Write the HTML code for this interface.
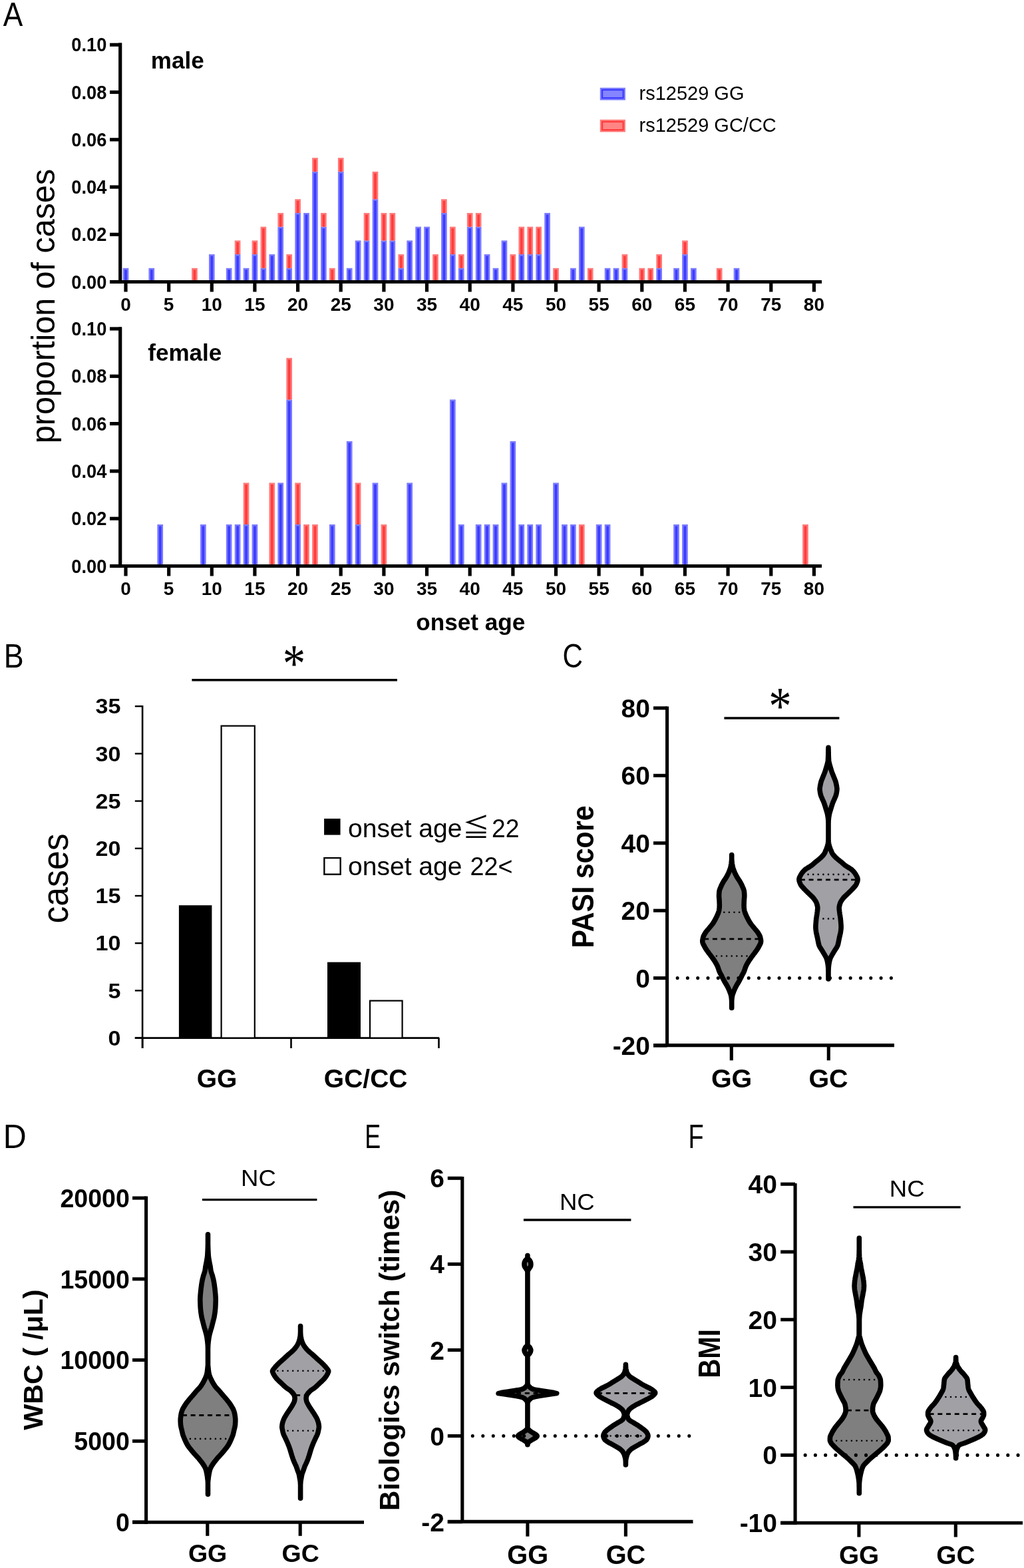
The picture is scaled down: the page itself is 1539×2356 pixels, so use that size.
<!DOCTYPE html>
<html><head><meta charset="utf-8"><title>Figure</title>
<style>html,body{margin:0;padding:0;background:#fff;overflow:hidden;} svg{display:block;}</style>
</head><body>
<svg width="1539" height="2356" viewBox="0 0 1539 2356">
<rect width="1539" height="2356" fill="#fff"/>
<text transform="translate(4.70 38.60) scale(0.877 1)" font-family="'Liberation Sans', Arial, sans-serif" font-size="50.5" >A</text>
<text transform="translate(5.80 1003.30) scale(0.889 1)" font-family="'Liberation Sans', Arial, sans-serif" font-size="50.5" >B</text>
<text transform="translate(845.40 1003.30) scale(0.836 1)" font-family="'Liberation Sans', Arial, sans-serif" font-size="50.5" >C</text>
<text transform="translate(4.80 1725.00) scale(0.960 1)" font-family="'Liberation Sans', Arial, sans-serif" font-size="50.5" >D</text>
<text transform="translate(548.20 1724.70) scale(0.711 1)" font-family="'Liberation Sans', Arial, sans-serif" font-size="50.5" >E</text>
<text transform="translate(1034.60 1724.70) scale(0.749 1)" font-family="'Liberation Sans', Arial, sans-serif" font-size="50.5" >F</text>
<rect x="184.65" y="402.79" width="8.70" height="18.11" fill="#7b7bff" />
<rect x="187.15" y="405.29" width="3.70" height="15.61" fill="#3c3cff" />
<rect x="223.44" y="402.79" width="8.70" height="18.11" fill="#7b7bff" />
<rect x="225.94" y="405.29" width="3.70" height="15.61" fill="#3c3cff" />
<rect x="288.09" y="402.79" width="8.70" height="18.11" fill="#ff7a7a" />
<rect x="290.59" y="405.29" width="3.70" height="15.61" fill="#ff3c3c" />
<rect x="313.95" y="382.08" width="8.70" height="38.82" fill="#7b7bff" />
<rect x="316.45" y="384.58" width="3.70" height="36.32" fill="#3c3cff" />
<rect x="339.81" y="402.79" width="8.70" height="18.11" fill="#7b7bff" />
<rect x="342.31" y="405.29" width="3.70" height="15.61" fill="#3c3cff" />
<rect x="352.74" y="382.08" width="8.70" height="38.82" fill="#7b7bff" />
<rect x="355.24" y="384.58" width="3.70" height="36.32" fill="#3c3cff" />
<rect x="352.74" y="361.37" width="8.70" height="20.71" fill="#ff7a7a" />
<rect x="355.24" y="363.87" width="3.70" height="18.21" fill="#ff3c3c" />
<rect x="365.67" y="402.79" width="8.70" height="18.11" fill="#7b7bff" />
<rect x="368.17" y="405.29" width="3.70" height="15.61" fill="#3c3cff" />
<rect x="378.60" y="382.08" width="8.70" height="38.82" fill="#7b7bff" />
<rect x="381.10" y="384.58" width="3.70" height="36.32" fill="#3c3cff" />
<rect x="378.60" y="361.37" width="8.70" height="20.71" fill="#ff7a7a" />
<rect x="381.10" y="363.87" width="3.70" height="18.21" fill="#ff3c3c" />
<rect x="391.53" y="402.79" width="8.70" height="18.11" fill="#7b7bff" />
<rect x="394.03" y="405.29" width="3.70" height="15.61" fill="#3c3cff" />
<rect x="391.53" y="340.66" width="8.70" height="62.13" fill="#ff7a7a" />
<rect x="394.03" y="343.16" width="3.70" height="59.63" fill="#ff3c3c" />
<rect x="404.46" y="382.08" width="8.70" height="38.82" fill="#7b7bff" />
<rect x="406.96" y="384.58" width="3.70" height="36.32" fill="#3c3cff" />
<rect x="417.39" y="340.66" width="8.70" height="80.24" fill="#7b7bff" />
<rect x="419.89" y="343.16" width="3.70" height="77.74" fill="#3c3cff" />
<rect x="417.39" y="319.95" width="8.70" height="20.71" fill="#ff7a7a" />
<rect x="419.89" y="322.45" width="3.70" height="18.21" fill="#ff3c3c" />
<rect x="430.32" y="402.79" width="8.70" height="18.11" fill="#7b7bff" />
<rect x="432.82" y="405.29" width="3.70" height="15.61" fill="#3c3cff" />
<rect x="430.32" y="382.08" width="8.70" height="20.71" fill="#ff7a7a" />
<rect x="432.82" y="384.58" width="3.70" height="18.21" fill="#ff3c3c" />
<rect x="443.25" y="319.95" width="8.70" height="100.95" fill="#7b7bff" />
<rect x="445.75" y="322.45" width="3.70" height="98.45" fill="#3c3cff" />
<rect x="443.25" y="299.24" width="8.70" height="20.71" fill="#ff7a7a" />
<rect x="445.75" y="301.74" width="3.70" height="18.21" fill="#ff3c3c" />
<rect x="456.18" y="319.95" width="8.70" height="100.95" fill="#7b7bff" />
<rect x="458.68" y="322.45" width="3.70" height="98.45" fill="#3c3cff" />
<rect x="469.11" y="257.83" width="8.70" height="163.07" fill="#7b7bff" />
<rect x="471.61" y="260.33" width="3.70" height="160.57" fill="#3c3cff" />
<rect x="469.11" y="237.12" width="8.70" height="20.71" fill="#ff7a7a" />
<rect x="471.61" y="239.62" width="3.70" height="18.21" fill="#ff3c3c" />
<rect x="482.04" y="340.66" width="8.70" height="80.24" fill="#7b7bff" />
<rect x="484.54" y="343.16" width="3.70" height="77.74" fill="#3c3cff" />
<rect x="482.04" y="319.95" width="8.70" height="20.71" fill="#ff7a7a" />
<rect x="484.54" y="322.45" width="3.70" height="18.21" fill="#ff3c3c" />
<rect x="494.97" y="402.79" width="8.70" height="18.11" fill="#ff7a7a" />
<rect x="497.47" y="405.29" width="3.70" height="15.61" fill="#ff3c3c" />
<rect x="507.90" y="257.83" width="8.70" height="163.07" fill="#7b7bff" />
<rect x="510.40" y="260.33" width="3.70" height="160.57" fill="#3c3cff" />
<rect x="507.90" y="237.12" width="8.70" height="20.71" fill="#ff7a7a" />
<rect x="510.40" y="239.62" width="3.70" height="18.21" fill="#ff3c3c" />
<rect x="520.83" y="402.79" width="8.70" height="18.11" fill="#7b7bff" />
<rect x="523.33" y="405.29" width="3.70" height="15.61" fill="#3c3cff" />
<rect x="533.76" y="361.37" width="8.70" height="59.53" fill="#7b7bff" />
<rect x="536.26" y="363.87" width="3.70" height="57.03" fill="#3c3cff" />
<rect x="546.69" y="361.37" width="8.70" height="59.53" fill="#7b7bff" />
<rect x="549.19" y="363.87" width="3.70" height="57.03" fill="#3c3cff" />
<rect x="546.69" y="319.95" width="8.70" height="41.42" fill="#ff7a7a" />
<rect x="549.19" y="322.45" width="3.70" height="38.92" fill="#ff3c3c" />
<rect x="559.62" y="299.24" width="8.70" height="121.66" fill="#7b7bff" />
<rect x="562.12" y="301.74" width="3.70" height="119.16" fill="#3c3cff" />
<rect x="559.62" y="257.83" width="8.70" height="41.42" fill="#ff7a7a" />
<rect x="562.12" y="260.33" width="3.70" height="38.92" fill="#ff3c3c" />
<rect x="572.55" y="361.37" width="8.70" height="59.53" fill="#7b7bff" />
<rect x="575.05" y="363.87" width="3.70" height="57.03" fill="#3c3cff" />
<rect x="572.55" y="319.95" width="8.70" height="41.42" fill="#ff7a7a" />
<rect x="575.05" y="322.45" width="3.70" height="38.92" fill="#ff3c3c" />
<rect x="585.48" y="361.37" width="8.70" height="59.53" fill="#7b7bff" />
<rect x="587.98" y="363.87" width="3.70" height="57.03" fill="#3c3cff" />
<rect x="585.48" y="319.95" width="8.70" height="41.42" fill="#ff7a7a" />
<rect x="587.98" y="322.45" width="3.70" height="38.92" fill="#ff3c3c" />
<rect x="598.41" y="402.79" width="8.70" height="18.11" fill="#7b7bff" />
<rect x="600.91" y="405.29" width="3.70" height="15.61" fill="#3c3cff" />
<rect x="598.41" y="382.08" width="8.70" height="20.71" fill="#ff7a7a" />
<rect x="600.91" y="384.58" width="3.70" height="18.21" fill="#ff3c3c" />
<rect x="611.34" y="361.37" width="8.70" height="59.53" fill="#7b7bff" />
<rect x="613.84" y="363.87" width="3.70" height="57.03" fill="#3c3cff" />
<rect x="624.27" y="340.66" width="8.70" height="80.24" fill="#7b7bff" />
<rect x="626.77" y="343.16" width="3.70" height="77.74" fill="#3c3cff" />
<rect x="637.20" y="340.66" width="8.70" height="80.24" fill="#7b7bff" />
<rect x="639.70" y="343.16" width="3.70" height="77.74" fill="#3c3cff" />
<rect x="650.13" y="382.08" width="8.70" height="38.82" fill="#ff7a7a" />
<rect x="652.63" y="384.58" width="3.70" height="36.32" fill="#ff3c3c" />
<rect x="663.06" y="319.95" width="8.70" height="100.95" fill="#7b7bff" />
<rect x="665.56" y="322.45" width="3.70" height="98.45" fill="#3c3cff" />
<rect x="663.06" y="299.24" width="8.70" height="20.71" fill="#ff7a7a" />
<rect x="665.56" y="301.74" width="3.70" height="18.21" fill="#ff3c3c" />
<rect x="675.99" y="382.08" width="8.70" height="38.82" fill="#7b7bff" />
<rect x="678.49" y="384.58" width="3.70" height="36.32" fill="#3c3cff" />
<rect x="675.99" y="340.66" width="8.70" height="41.42" fill="#ff7a7a" />
<rect x="678.49" y="343.16" width="3.70" height="38.92" fill="#ff3c3c" />
<rect x="688.92" y="402.79" width="8.70" height="18.11" fill="#7b7bff" />
<rect x="691.42" y="405.29" width="3.70" height="15.61" fill="#3c3cff" />
<rect x="688.92" y="382.08" width="8.70" height="20.71" fill="#ff7a7a" />
<rect x="691.42" y="384.58" width="3.70" height="18.21" fill="#ff3c3c" />
<rect x="701.85" y="340.66" width="8.70" height="80.24" fill="#7b7bff" />
<rect x="704.35" y="343.16" width="3.70" height="77.74" fill="#3c3cff" />
<rect x="701.85" y="319.95" width="8.70" height="20.71" fill="#ff7a7a" />
<rect x="704.35" y="322.45" width="3.70" height="18.21" fill="#ff3c3c" />
<rect x="714.78" y="340.66" width="8.70" height="80.24" fill="#7b7bff" />
<rect x="717.28" y="343.16" width="3.70" height="77.74" fill="#3c3cff" />
<rect x="714.78" y="319.95" width="8.70" height="20.71" fill="#ff7a7a" />
<rect x="717.28" y="322.45" width="3.70" height="18.21" fill="#ff3c3c" />
<rect x="727.71" y="382.08" width="8.70" height="38.82" fill="#7b7bff" />
<rect x="730.21" y="384.58" width="3.70" height="36.32" fill="#3c3cff" />
<rect x="740.64" y="402.79" width="8.70" height="18.11" fill="#7b7bff" />
<rect x="743.14" y="405.29" width="3.70" height="15.61" fill="#3c3cff" />
<rect x="753.57" y="361.37" width="8.70" height="59.53" fill="#7b7bff" />
<rect x="756.07" y="363.87" width="3.70" height="57.03" fill="#3c3cff" />
<rect x="766.50" y="382.08" width="8.70" height="38.82" fill="#ff7a7a" />
<rect x="769.00" y="384.58" width="3.70" height="36.32" fill="#ff3c3c" />
<rect x="779.43" y="382.08" width="8.70" height="38.82" fill="#7b7bff" />
<rect x="781.93" y="384.58" width="3.70" height="36.32" fill="#3c3cff" />
<rect x="779.43" y="340.66" width="8.70" height="41.42" fill="#ff7a7a" />
<rect x="781.93" y="343.16" width="3.70" height="38.92" fill="#ff3c3c" />
<rect x="792.36" y="382.08" width="8.70" height="38.82" fill="#7b7bff" />
<rect x="794.86" y="384.58" width="3.70" height="36.32" fill="#3c3cff" />
<rect x="792.36" y="340.66" width="8.70" height="41.42" fill="#ff7a7a" />
<rect x="794.86" y="343.16" width="3.70" height="38.92" fill="#ff3c3c" />
<rect x="805.29" y="382.08" width="8.70" height="38.82" fill="#7b7bff" />
<rect x="807.79" y="384.58" width="3.70" height="36.32" fill="#3c3cff" />
<rect x="805.29" y="340.66" width="8.70" height="41.42" fill="#ff7a7a" />
<rect x="807.79" y="343.16" width="3.70" height="38.92" fill="#ff3c3c" />
<rect x="818.22" y="319.95" width="8.70" height="100.95" fill="#7b7bff" />
<rect x="820.72" y="322.45" width="3.70" height="98.45" fill="#3c3cff" />
<rect x="831.15" y="402.79" width="8.70" height="18.11" fill="#ff7a7a" />
<rect x="833.65" y="405.29" width="3.70" height="15.61" fill="#ff3c3c" />
<rect x="857.01" y="402.79" width="8.70" height="18.11" fill="#7b7bff" />
<rect x="859.51" y="405.29" width="3.70" height="15.61" fill="#3c3cff" />
<rect x="869.94" y="340.66" width="8.70" height="80.24" fill="#7b7bff" />
<rect x="872.44" y="343.16" width="3.70" height="77.74" fill="#3c3cff" />
<rect x="882.87" y="402.79" width="8.70" height="18.11" fill="#ff7a7a" />
<rect x="885.37" y="405.29" width="3.70" height="15.61" fill="#ff3c3c" />
<rect x="908.73" y="402.79" width="8.70" height="18.11" fill="#7b7bff" />
<rect x="911.23" y="405.29" width="3.70" height="15.61" fill="#3c3cff" />
<rect x="921.66" y="402.79" width="8.70" height="18.11" fill="#7b7bff" />
<rect x="924.16" y="405.29" width="3.70" height="15.61" fill="#3c3cff" />
<rect x="934.59" y="402.79" width="8.70" height="18.11" fill="#7b7bff" />
<rect x="937.09" y="405.29" width="3.70" height="15.61" fill="#3c3cff" />
<rect x="934.59" y="382.08" width="8.70" height="20.71" fill="#ff7a7a" />
<rect x="937.09" y="384.58" width="3.70" height="18.21" fill="#ff3c3c" />
<rect x="960.45" y="402.79" width="8.70" height="18.11" fill="#ff7a7a" />
<rect x="962.95" y="405.29" width="3.70" height="15.61" fill="#ff3c3c" />
<rect x="973.38" y="402.79" width="8.70" height="18.11" fill="#ff7a7a" />
<rect x="975.88" y="405.29" width="3.70" height="15.61" fill="#ff3c3c" />
<rect x="986.31" y="402.79" width="8.70" height="18.11" fill="#7b7bff" />
<rect x="988.81" y="405.29" width="3.70" height="15.61" fill="#3c3cff" />
<rect x="986.31" y="382.08" width="8.70" height="20.71" fill="#ff7a7a" />
<rect x="988.81" y="384.58" width="3.70" height="18.21" fill="#ff3c3c" />
<rect x="1012.17" y="402.79" width="8.70" height="18.11" fill="#7b7bff" />
<rect x="1014.67" y="405.29" width="3.70" height="15.61" fill="#3c3cff" />
<rect x="1025.10" y="382.08" width="8.70" height="38.82" fill="#7b7bff" />
<rect x="1027.60" y="384.58" width="3.70" height="36.32" fill="#3c3cff" />
<rect x="1025.10" y="361.37" width="8.70" height="20.71" fill="#ff7a7a" />
<rect x="1027.60" y="363.87" width="3.70" height="18.21" fill="#ff3c3c" />
<rect x="1038.03" y="402.79" width="8.70" height="18.11" fill="#7b7bff" />
<rect x="1040.53" y="405.29" width="3.70" height="15.61" fill="#3c3cff" />
<rect x="1076.82" y="402.79" width="8.70" height="18.11" fill="#ff7a7a" />
<rect x="1079.32" y="405.29" width="3.70" height="15.61" fill="#ff3c3c" />
<rect x="1102.68" y="402.79" width="8.70" height="18.11" fill="#7b7bff" />
<rect x="1105.18" y="405.29" width="3.70" height="15.61" fill="#3c3cff" />
<line x1="180.7" y1="64.6" x2="180.7" y2="426.1" stroke="#000" stroke-width="5.2" />
<line x1="165.0" y1="423.5" x2="1235.0" y2="423.5" stroke="#000" stroke-width="5.2" />
<line x1="165.0" y1="423.5" x2="183.0" y2="423.5" stroke="#000" stroke-width="5.2" />
<text transform="translate(160.30 433.60) scale(0.945 1)" font-family="'Liberation Sans', Arial, sans-serif" font-size="28.8" font-weight="bold" text-anchor="end" >0.00</text>
<line x1="165.0" y1="352.3" x2="183.0" y2="352.3" stroke="#000" stroke-width="5.2" />
<text transform="translate(160.30 362.36) scale(0.945 1)" font-family="'Liberation Sans', Arial, sans-serif" font-size="28.8" font-weight="bold" text-anchor="end" >0.02</text>
<line x1="165.0" y1="281.0" x2="183.0" y2="281.0" stroke="#000" stroke-width="5.2" />
<text transform="translate(160.30 291.12) scale(0.945 1)" font-family="'Liberation Sans', Arial, sans-serif" font-size="28.8" font-weight="bold" text-anchor="end" >0.04</text>
<line x1="165.0" y1="209.8" x2="183.0" y2="209.8" stroke="#000" stroke-width="5.2" />
<text transform="translate(160.30 219.88) scale(0.945 1)" font-family="'Liberation Sans', Arial, sans-serif" font-size="28.8" font-weight="bold" text-anchor="end" >0.06</text>
<line x1="165.0" y1="138.5" x2="183.0" y2="138.5" stroke="#000" stroke-width="5.2" />
<text transform="translate(160.30 148.64) scale(0.945 1)" font-family="'Liberation Sans', Arial, sans-serif" font-size="28.8" font-weight="bold" text-anchor="end" >0.08</text>
<line x1="165.0" y1="67.3" x2="183.0" y2="67.3" stroke="#000" stroke-width="5.2" />
<text transform="translate(160.30 77.40) scale(0.945 1)" font-family="'Liberation Sans', Arial, sans-serif" font-size="28.8" font-weight="bold" text-anchor="end" >0.10</text>
<line x1="189.0" y1="423.5" x2="189.0" y2="438.5" stroke="#000" stroke-width="5.2" />
<text transform="translate(189.00 467.30)" font-family="'Liberation Sans', Arial, sans-serif" font-size="28" font-weight="bold" text-anchor="middle" >0</text>
<line x1="253.7" y1="423.5" x2="253.7" y2="438.5" stroke="#000" stroke-width="5.2" />
<text transform="translate(253.65 467.30)" font-family="'Liberation Sans', Arial, sans-serif" font-size="28" font-weight="bold" text-anchor="middle" >5</text>
<line x1="318.3" y1="423.5" x2="318.3" y2="438.5" stroke="#000" stroke-width="5.2" />
<text transform="translate(318.30 467.30)" font-family="'Liberation Sans', Arial, sans-serif" font-size="28" font-weight="bold" text-anchor="middle" >10</text>
<line x1="382.9" y1="423.5" x2="382.9" y2="438.5" stroke="#000" stroke-width="5.2" />
<text transform="translate(382.95 467.30)" font-family="'Liberation Sans', Arial, sans-serif" font-size="28" font-weight="bold" text-anchor="middle" >15</text>
<line x1="447.6" y1="423.5" x2="447.6" y2="438.5" stroke="#000" stroke-width="5.2" />
<text transform="translate(447.60 467.30)" font-family="'Liberation Sans', Arial, sans-serif" font-size="28" font-weight="bold" text-anchor="middle" >20</text>
<line x1="512.2" y1="423.5" x2="512.2" y2="438.5" stroke="#000" stroke-width="5.2" />
<text transform="translate(512.25 467.30)" font-family="'Liberation Sans', Arial, sans-serif" font-size="28" font-weight="bold" text-anchor="middle" >25</text>
<line x1="576.9" y1="423.5" x2="576.9" y2="438.5" stroke="#000" stroke-width="5.2" />
<text transform="translate(576.90 467.30)" font-family="'Liberation Sans', Arial, sans-serif" font-size="28" font-weight="bold" text-anchor="middle" >30</text>
<line x1="641.5" y1="423.5" x2="641.5" y2="438.5" stroke="#000" stroke-width="5.2" />
<text transform="translate(641.55 467.30)" font-family="'Liberation Sans', Arial, sans-serif" font-size="28" font-weight="bold" text-anchor="middle" >35</text>
<line x1="706.2" y1="423.5" x2="706.2" y2="438.5" stroke="#000" stroke-width="5.2" />
<text transform="translate(706.20 467.30)" font-family="'Liberation Sans', Arial, sans-serif" font-size="28" font-weight="bold" text-anchor="middle" >40</text>
<line x1="770.9" y1="423.5" x2="770.9" y2="438.5" stroke="#000" stroke-width="5.2" />
<text transform="translate(770.85 467.30)" font-family="'Liberation Sans', Arial, sans-serif" font-size="28" font-weight="bold" text-anchor="middle" >45</text>
<line x1="835.5" y1="423.5" x2="835.5" y2="438.5" stroke="#000" stroke-width="5.2" />
<text transform="translate(835.50 467.30)" font-family="'Liberation Sans', Arial, sans-serif" font-size="28" font-weight="bold" text-anchor="middle" >50</text>
<line x1="900.1" y1="423.5" x2="900.1" y2="438.5" stroke="#000" stroke-width="5.2" />
<text transform="translate(900.15 467.30)" font-family="'Liberation Sans', Arial, sans-serif" font-size="28" font-weight="bold" text-anchor="middle" >55</text>
<line x1="964.8" y1="423.5" x2="964.8" y2="438.5" stroke="#000" stroke-width="5.2" />
<text transform="translate(964.80 467.30)" font-family="'Liberation Sans', Arial, sans-serif" font-size="28" font-weight="bold" text-anchor="middle" >60</text>
<line x1="1029.4" y1="423.5" x2="1029.4" y2="438.5" stroke="#000" stroke-width="5.2" />
<text transform="translate(1029.45 467.30)" font-family="'Liberation Sans', Arial, sans-serif" font-size="28" font-weight="bold" text-anchor="middle" >65</text>
<line x1="1094.1" y1="423.5" x2="1094.1" y2="438.5" stroke="#000" stroke-width="5.2" />
<text transform="translate(1094.10 467.30)" font-family="'Liberation Sans', Arial, sans-serif" font-size="28" font-weight="bold" text-anchor="middle" >70</text>
<line x1="1158.8" y1="423.5" x2="1158.8" y2="438.5" stroke="#000" stroke-width="5.2" />
<text transform="translate(1158.75 467.30)" font-family="'Liberation Sans', Arial, sans-serif" font-size="28" font-weight="bold" text-anchor="middle" >75</text>
<line x1="1223.4" y1="423.5" x2="1223.4" y2="438.5" stroke="#000" stroke-width="5.2" />
<text transform="translate(1223.40 467.30)" font-family="'Liberation Sans', Arial, sans-serif" font-size="28" font-weight="bold" text-anchor="middle" >80</text>
<text transform="translate(226.85 103.30)" font-family="'Liberation Sans', Arial, sans-serif" font-size="35" font-weight="bold" >male</text>
<rect x="236.37" y="787.96" width="8.70" height="59.94" fill="#7b7bff" />
<rect x="238.87" y="790.46" width="3.70" height="57.44" fill="#3c3cff" />
<rect x="301.02" y="787.96" width="8.70" height="59.94" fill="#7b7bff" />
<rect x="303.52" y="790.46" width="3.70" height="57.44" fill="#3c3cff" />
<rect x="339.81" y="787.96" width="8.70" height="59.94" fill="#7b7bff" />
<rect x="342.31" y="790.46" width="3.70" height="57.44" fill="#3c3cff" />
<rect x="352.74" y="787.96" width="8.70" height="59.94" fill="#7b7bff" />
<rect x="355.24" y="790.46" width="3.70" height="57.44" fill="#3c3cff" />
<rect x="365.67" y="787.96" width="8.70" height="59.94" fill="#7b7bff" />
<rect x="368.17" y="790.46" width="3.70" height="57.44" fill="#3c3cff" />
<rect x="365.67" y="725.41" width="8.70" height="62.54" fill="#ff7a7a" />
<rect x="368.17" y="727.91" width="3.70" height="60.04" fill="#ff3c3c" />
<rect x="378.60" y="787.96" width="8.70" height="59.94" fill="#7b7bff" />
<rect x="381.10" y="790.46" width="3.70" height="57.44" fill="#3c3cff" />
<rect x="404.46" y="725.41" width="8.70" height="122.49" fill="#ff7a7a" />
<rect x="406.96" y="727.91" width="3.70" height="119.99" fill="#ff3c3c" />
<rect x="417.39" y="725.41" width="8.70" height="122.49" fill="#7b7bff" />
<rect x="419.89" y="727.91" width="3.70" height="119.99" fill="#3c3cff" />
<rect x="430.32" y="600.32" width="8.70" height="247.58" fill="#7b7bff" />
<rect x="432.82" y="602.82" width="3.70" height="245.08" fill="#3c3cff" />
<rect x="430.32" y="537.78" width="8.70" height="62.54" fill="#ff7a7a" />
<rect x="432.82" y="540.28" width="3.70" height="60.04" fill="#ff3c3c" />
<rect x="443.25" y="787.96" width="8.70" height="59.94" fill="#7b7bff" />
<rect x="445.75" y="790.46" width="3.70" height="57.44" fill="#3c3cff" />
<rect x="443.25" y="725.41" width="8.70" height="62.54" fill="#ff7a7a" />
<rect x="445.75" y="727.91" width="3.70" height="60.04" fill="#ff3c3c" />
<rect x="456.18" y="787.96" width="8.70" height="59.94" fill="#ff7a7a" />
<rect x="458.68" y="790.46" width="3.70" height="57.44" fill="#ff3c3c" />
<rect x="469.11" y="787.96" width="8.70" height="59.94" fill="#ff7a7a" />
<rect x="471.61" y="790.46" width="3.70" height="57.44" fill="#ff3c3c" />
<rect x="494.97" y="787.96" width="8.70" height="59.94" fill="#7b7bff" />
<rect x="497.47" y="790.46" width="3.70" height="57.44" fill="#3c3cff" />
<rect x="520.83" y="662.87" width="8.70" height="185.03" fill="#7b7bff" />
<rect x="523.33" y="665.37" width="3.70" height="182.53" fill="#3c3cff" />
<rect x="533.76" y="787.96" width="8.70" height="59.94" fill="#7b7bff" />
<rect x="536.26" y="790.46" width="3.70" height="57.44" fill="#3c3cff" />
<rect x="533.76" y="725.41" width="8.70" height="62.54" fill="#ff7a7a" />
<rect x="536.26" y="727.91" width="3.70" height="60.04" fill="#ff3c3c" />
<rect x="559.62" y="725.41" width="8.70" height="122.49" fill="#7b7bff" />
<rect x="562.12" y="727.91" width="3.70" height="119.99" fill="#3c3cff" />
<rect x="572.55" y="787.96" width="8.70" height="59.94" fill="#ff7a7a" />
<rect x="575.05" y="790.46" width="3.70" height="57.44" fill="#ff3c3c" />
<rect x="611.34" y="725.41" width="8.70" height="122.49" fill="#7b7bff" />
<rect x="613.84" y="727.91" width="3.70" height="119.99" fill="#3c3cff" />
<rect x="675.99" y="600.32" width="8.70" height="247.58" fill="#7b7bff" />
<rect x="678.49" y="602.82" width="3.70" height="245.08" fill="#3c3cff" />
<rect x="688.92" y="787.96" width="8.70" height="59.94" fill="#7b7bff" />
<rect x="691.42" y="790.46" width="3.70" height="57.44" fill="#3c3cff" />
<rect x="714.78" y="787.96" width="8.70" height="59.94" fill="#7b7bff" />
<rect x="717.28" y="790.46" width="3.70" height="57.44" fill="#3c3cff" />
<rect x="727.71" y="787.96" width="8.70" height="59.94" fill="#7b7bff" />
<rect x="730.21" y="790.46" width="3.70" height="57.44" fill="#3c3cff" />
<rect x="740.64" y="787.96" width="8.70" height="59.94" fill="#7b7bff" />
<rect x="743.14" y="790.46" width="3.70" height="57.44" fill="#3c3cff" />
<rect x="753.57" y="725.41" width="8.70" height="122.49" fill="#7b7bff" />
<rect x="756.07" y="727.91" width="3.70" height="119.99" fill="#3c3cff" />
<rect x="766.50" y="662.87" width="8.70" height="185.03" fill="#7b7bff" />
<rect x="769.00" y="665.37" width="3.70" height="182.53" fill="#3c3cff" />
<rect x="779.43" y="787.96" width="8.70" height="59.94" fill="#7b7bff" />
<rect x="781.93" y="790.46" width="3.70" height="57.44" fill="#3c3cff" />
<rect x="792.36" y="787.96" width="8.70" height="59.94" fill="#7b7bff" />
<rect x="794.86" y="790.46" width="3.70" height="57.44" fill="#3c3cff" />
<rect x="805.29" y="787.96" width="8.70" height="59.94" fill="#7b7bff" />
<rect x="807.79" y="790.46" width="3.70" height="57.44" fill="#3c3cff" />
<rect x="831.15" y="725.41" width="8.70" height="122.49" fill="#7b7bff" />
<rect x="833.65" y="727.91" width="3.70" height="119.99" fill="#3c3cff" />
<rect x="844.08" y="787.96" width="8.70" height="59.94" fill="#7b7bff" />
<rect x="846.58" y="790.46" width="3.70" height="57.44" fill="#3c3cff" />
<rect x="857.01" y="787.96" width="8.70" height="59.94" fill="#7b7bff" />
<rect x="859.51" y="790.46" width="3.70" height="57.44" fill="#3c3cff" />
<rect x="869.94" y="787.96" width="8.70" height="59.94" fill="#ff7a7a" />
<rect x="872.44" y="790.46" width="3.70" height="57.44" fill="#ff3c3c" />
<rect x="895.80" y="787.96" width="8.70" height="59.94" fill="#7b7bff" />
<rect x="898.30" y="790.46" width="3.70" height="57.44" fill="#3c3cff" />
<rect x="908.73" y="787.96" width="8.70" height="59.94" fill="#7b7bff" />
<rect x="911.23" y="790.46" width="3.70" height="57.44" fill="#3c3cff" />
<rect x="1012.17" y="787.96" width="8.70" height="59.94" fill="#7b7bff" />
<rect x="1014.67" y="790.46" width="3.70" height="57.44" fill="#3c3cff" />
<rect x="1025.10" y="787.96" width="8.70" height="59.94" fill="#7b7bff" />
<rect x="1027.60" y="790.46" width="3.70" height="57.44" fill="#3c3cff" />
<rect x="1206.12" y="787.96" width="8.70" height="59.94" fill="#ff7a7a" />
<rect x="1208.62" y="790.46" width="3.70" height="57.44" fill="#ff3c3c" />
<line x1="180.7" y1="491.6" x2="180.7" y2="853.1" stroke="#000" stroke-width="5.2" />
<line x1="165.0" y1="850.5" x2="1235.0" y2="850.5" stroke="#000" stroke-width="5.2" />
<line x1="165.0" y1="850.5" x2="183.0" y2="850.5" stroke="#000" stroke-width="5.2" />
<text transform="translate(160.30 860.60) scale(0.945 1)" font-family="'Liberation Sans', Arial, sans-serif" font-size="28.8" font-weight="bold" text-anchor="end" >0.00</text>
<line x1="165.0" y1="779.2" x2="183.0" y2="779.2" stroke="#000" stroke-width="5.2" />
<text transform="translate(160.30 789.30) scale(0.945 1)" font-family="'Liberation Sans', Arial, sans-serif" font-size="28.8" font-weight="bold" text-anchor="end" >0.02</text>
<line x1="165.0" y1="707.9" x2="183.0" y2="707.9" stroke="#000" stroke-width="5.2" />
<text transform="translate(160.30 718.00) scale(0.945 1)" font-family="'Liberation Sans', Arial, sans-serif" font-size="28.8" font-weight="bold" text-anchor="end" >0.04</text>
<line x1="165.0" y1="636.6" x2="183.0" y2="636.6" stroke="#000" stroke-width="5.2" />
<text transform="translate(160.30 646.70) scale(0.945 1)" font-family="'Liberation Sans', Arial, sans-serif" font-size="28.8" font-weight="bold" text-anchor="end" >0.06</text>
<line x1="165.0" y1="565.3" x2="183.0" y2="565.3" stroke="#000" stroke-width="5.2" />
<text transform="translate(160.30 575.40) scale(0.945 1)" font-family="'Liberation Sans', Arial, sans-serif" font-size="28.8" font-weight="bold" text-anchor="end" >0.08</text>
<line x1="165.0" y1="494.0" x2="183.0" y2="494.0" stroke="#000" stroke-width="5.2" />
<text transform="translate(160.30 504.10) scale(0.945 1)" font-family="'Liberation Sans', Arial, sans-serif" font-size="28.8" font-weight="bold" text-anchor="end" >0.10</text>
<line x1="189.0" y1="850.5" x2="189.0" y2="865.5" stroke="#000" stroke-width="5.2" />
<text transform="translate(189.00 894.30)" font-family="'Liberation Sans', Arial, sans-serif" font-size="28" font-weight="bold" text-anchor="middle" >0</text>
<line x1="253.7" y1="850.5" x2="253.7" y2="865.5" stroke="#000" stroke-width="5.2" />
<text transform="translate(253.65 894.30)" font-family="'Liberation Sans', Arial, sans-serif" font-size="28" font-weight="bold" text-anchor="middle" >5</text>
<line x1="318.3" y1="850.5" x2="318.3" y2="865.5" stroke="#000" stroke-width="5.2" />
<text transform="translate(318.30 894.30)" font-family="'Liberation Sans', Arial, sans-serif" font-size="28" font-weight="bold" text-anchor="middle" >10</text>
<line x1="382.9" y1="850.5" x2="382.9" y2="865.5" stroke="#000" stroke-width="5.2" />
<text transform="translate(382.95 894.30)" font-family="'Liberation Sans', Arial, sans-serif" font-size="28" font-weight="bold" text-anchor="middle" >15</text>
<line x1="447.6" y1="850.5" x2="447.6" y2="865.5" stroke="#000" stroke-width="5.2" />
<text transform="translate(447.60 894.30)" font-family="'Liberation Sans', Arial, sans-serif" font-size="28" font-weight="bold" text-anchor="middle" >20</text>
<line x1="512.2" y1="850.5" x2="512.2" y2="865.5" stroke="#000" stroke-width="5.2" />
<text transform="translate(512.25 894.30)" font-family="'Liberation Sans', Arial, sans-serif" font-size="28" font-weight="bold" text-anchor="middle" >25</text>
<line x1="576.9" y1="850.5" x2="576.9" y2="865.5" stroke="#000" stroke-width="5.2" />
<text transform="translate(576.90 894.30)" font-family="'Liberation Sans', Arial, sans-serif" font-size="28" font-weight="bold" text-anchor="middle" >30</text>
<line x1="641.5" y1="850.5" x2="641.5" y2="865.5" stroke="#000" stroke-width="5.2" />
<text transform="translate(641.55 894.30)" font-family="'Liberation Sans', Arial, sans-serif" font-size="28" font-weight="bold" text-anchor="middle" >35</text>
<line x1="706.2" y1="850.5" x2="706.2" y2="865.5" stroke="#000" stroke-width="5.2" />
<text transform="translate(706.20 894.30)" font-family="'Liberation Sans', Arial, sans-serif" font-size="28" font-weight="bold" text-anchor="middle" >40</text>
<line x1="770.9" y1="850.5" x2="770.9" y2="865.5" stroke="#000" stroke-width="5.2" />
<text transform="translate(770.85 894.30)" font-family="'Liberation Sans', Arial, sans-serif" font-size="28" font-weight="bold" text-anchor="middle" >45</text>
<line x1="835.5" y1="850.5" x2="835.5" y2="865.5" stroke="#000" stroke-width="5.2" />
<text transform="translate(835.50 894.30)" font-family="'Liberation Sans', Arial, sans-serif" font-size="28" font-weight="bold" text-anchor="middle" >50</text>
<line x1="900.1" y1="850.5" x2="900.1" y2="865.5" stroke="#000" stroke-width="5.2" />
<text transform="translate(900.15 894.30)" font-family="'Liberation Sans', Arial, sans-serif" font-size="28" font-weight="bold" text-anchor="middle" >55</text>
<line x1="964.8" y1="850.5" x2="964.8" y2="865.5" stroke="#000" stroke-width="5.2" />
<text transform="translate(964.80 894.30)" font-family="'Liberation Sans', Arial, sans-serif" font-size="28" font-weight="bold" text-anchor="middle" >60</text>
<line x1="1029.4" y1="850.5" x2="1029.4" y2="865.5" stroke="#000" stroke-width="5.2" />
<text transform="translate(1029.45 894.30)" font-family="'Liberation Sans', Arial, sans-serif" font-size="28" font-weight="bold" text-anchor="middle" >65</text>
<line x1="1094.1" y1="850.5" x2="1094.1" y2="865.5" stroke="#000" stroke-width="5.2" />
<text transform="translate(1094.10 894.30)" font-family="'Liberation Sans', Arial, sans-serif" font-size="28" font-weight="bold" text-anchor="middle" >70</text>
<line x1="1158.8" y1="850.5" x2="1158.8" y2="865.5" stroke="#000" stroke-width="5.2" />
<text transform="translate(1158.75 894.30)" font-family="'Liberation Sans', Arial, sans-serif" font-size="28" font-weight="bold" text-anchor="middle" >75</text>
<line x1="1223.4" y1="850.5" x2="1223.4" y2="865.5" stroke="#000" stroke-width="5.2" />
<text transform="translate(1223.40 894.30)" font-family="'Liberation Sans', Arial, sans-serif" font-size="28" font-weight="bold" text-anchor="middle" >80</text>
<text transform="translate(222.35 541.90)" font-family="'Liberation Sans', Arial, sans-serif" font-size="35" font-weight="bold" >female</text>
<rect x="901.80" y="131.80" width="38.10" height="18.70" fill="#7b7bff" />
<rect x="904.00" y="134.00" width="33.70" height="14.30" fill="#3c3cff" />
<rect x="906.20" y="136.20" width="29.30" height="9.90" fill="#8585ff" />
<text transform="translate(960.50 149.80)" font-family="'Liberation Sans', Arial, sans-serif" font-size="29" >rs12529 GG</text>
<rect x="901.80" y="179.70" width="38.10" height="18.70" fill="#ff7a7a" />
<rect x="904.00" y="181.90" width="33.70" height="14.30" fill="#ff3c3c" />
<rect x="906.20" y="184.10" width="29.30" height="9.90" fill="#ff8585" />
<text transform="translate(960.50 197.70)" font-family="'Liberation Sans', Arial, sans-serif" font-size="29" >rs12529 GC/CC</text>
<text transform="translate(625.35 946.50) scale(0.990 1)" font-family="'Liberation Sans', Arial, sans-serif" font-size="35.5" font-weight="bold" >onset age</text>
<text transform="translate(82.00 460.00) rotate(-90) scale(0.970 1)" font-family="'Liberation Sans', Arial, sans-serif" font-size="50" text-anchor="middle" >proportion of cases</text>
<line x1="288.4" y1="1021.8" x2="597.0" y2="1021.8" stroke="#000" stroke-width="3.5" />
<text transform="translate(442.00 1024.30) scale(0.850 1)" font-family="'Liberation Serif', 'Times New Roman', serif" font-size="81" text-anchor="middle" >*</text>
<line x1="214.1" y1="1060.0" x2="214.1" y2="1575.0" stroke="#000" stroke-width="2.6" />
<line x1="202.8" y1="1559.6" x2="660.2" y2="1559.6" stroke="#000" stroke-width="2.6" />
<line x1="202.8" y1="1559.6" x2="214.1" y2="1559.6" stroke="#000" stroke-width="2.4" />
<text transform="translate(181.50 1570.80) scale(1.100 1)" font-family="'Liberation Sans', Arial, sans-serif" font-size="31" font-weight="bold" text-anchor="end" >0</text>
<line x1="202.8" y1="1488.4" x2="214.1" y2="1488.4" stroke="#000" stroke-width="2.4" />
<text transform="translate(181.50 1499.60) scale(1.100 1)" font-family="'Liberation Sans', Arial, sans-serif" font-size="31" font-weight="bold" text-anchor="end" >5</text>
<line x1="202.8" y1="1417.2" x2="214.1" y2="1417.2" stroke="#000" stroke-width="2.4" />
<text transform="translate(181.50 1428.40) scale(1.100 1)" font-family="'Liberation Sans', Arial, sans-serif" font-size="31" font-weight="bold" text-anchor="end" >10</text>
<line x1="202.8" y1="1346.0" x2="214.1" y2="1346.0" stroke="#000" stroke-width="2.4" />
<text transform="translate(181.50 1357.20) scale(1.100 1)" font-family="'Liberation Sans', Arial, sans-serif" font-size="31" font-weight="bold" text-anchor="end" >15</text>
<line x1="202.8" y1="1274.8" x2="214.1" y2="1274.8" stroke="#000" stroke-width="2.4" />
<text transform="translate(181.50 1286.00) scale(1.100 1)" font-family="'Liberation Sans', Arial, sans-serif" font-size="31" font-weight="bold" text-anchor="end" >20</text>
<line x1="202.8" y1="1203.6" x2="214.1" y2="1203.6" stroke="#000" stroke-width="2.4" />
<text transform="translate(181.50 1214.80) scale(1.100 1)" font-family="'Liberation Sans', Arial, sans-serif" font-size="31" font-weight="bold" text-anchor="end" >25</text>
<line x1="202.8" y1="1132.4" x2="214.1" y2="1132.4" stroke="#000" stroke-width="2.4" />
<text transform="translate(181.50 1143.60) scale(1.100 1)" font-family="'Liberation Sans', Arial, sans-serif" font-size="31" font-weight="bold" text-anchor="end" >30</text>
<line x1="202.8" y1="1061.2" x2="214.1" y2="1061.2" stroke="#000" stroke-width="2.4" />
<text transform="translate(181.50 1072.40) scale(1.100 1)" font-family="'Liberation Sans', Arial, sans-serif" font-size="31" font-weight="bold" text-anchor="end" >35</text>
<line x1="214.1" y1="1559.6" x2="214.1" y2="1575.0" stroke="#000" stroke-width="2.6" />
<line x1="437.5" y1="1559.6" x2="437.5" y2="1575.0" stroke="#000" stroke-width="2.6" />
<line x1="659.5" y1="1559.6" x2="659.5" y2="1575.0" stroke="#000" stroke-width="2.6" />
<rect x="268.90" y="1360.24" width="49.50" height="199.36" fill="#000" />
<rect x="332.60" y="1090.68" width="50.20" height="468.92" fill="#fff" stroke="#000" stroke-width="2.2"/>
<rect x="492.00" y="1445.68" width="50.00" height="113.92" fill="#000" />
<rect x="556.00" y="1503.64" width="48.60" height="55.96" fill="#fff" stroke="#000" stroke-width="2.2"/>
<text transform="translate(326.00 1634.00)" font-family="'Liberation Sans', Arial, sans-serif" font-size="39" font-weight="bold" text-anchor="middle" >GG</text>
<text transform="translate(549.70 1634.00)" font-family="'Liberation Sans', Arial, sans-serif" font-size="39" font-weight="bold" text-anchor="middle" >GC/CC</text>
<text transform="translate(102.00 1320.00) rotate(-90) scale(0.940 1)" font-family="'Liberation Sans', Arial, sans-serif" font-size="55" text-anchor="middle" >cases</text>
<text font-family="'Liberation Sans', Arial, sans-serif" font-size="38"><tspan x="483" y="1254.8" font-family="IPAGothic, 'Noto Sans CJK JP', sans-serif" font-size="33">■</tspan><tspan x="523" y="1257.5" textLength="171.5" lengthAdjust="spacingAndGlyphs">onset age</tspan><tspan x="693.5" y="1258.5" font-family="IPAGothic, 'Noto Sans CJK JP', sans-serif" font-size="44">≦</tspan><tspan x="739" y="1257.5" textLength="41.5" lengthAdjust="spacingAndGlyphs">22</tspan></text>
<text font-family="'Liberation Sans', Arial, sans-serif" font-size="38"><tspan x="481.5" y="1314.5" font-family="IPAGothic, 'Noto Sans CJK JP', sans-serif" font-size="36">□</tspan><tspan x="523" y="1315" textLength="171.5" lengthAdjust="spacingAndGlyphs">onset age</tspan><tspan x="706.5" y="1315" textLength="64" lengthAdjust="spacingAndGlyphs">22&lt;</tspan></text>
<line x1="1002.6" y1="1061.5" x2="1002.6" y2="1573.1" stroke="#000" stroke-width="5.1" />
<line x1="982.0" y1="1570.6" x2="1344.0" y2="1570.6" stroke="#000" stroke-width="5.1" />
<line x1="982.0" y1="1063.9" x2="1002.6" y2="1063.9" stroke="#000" stroke-width="5.1" />
<text transform="translate(977.00 1077.96)" font-family="'Liberation Sans', Arial, sans-serif" font-size="39" font-weight="bold" text-anchor="end" >80</text>
<line x1="982.0" y1="1165.3" x2="1002.6" y2="1165.3" stroke="#000" stroke-width="5.1" />
<text transform="translate(977.00 1179.38)" font-family="'Liberation Sans', Arial, sans-serif" font-size="39" font-weight="bold" text-anchor="end" >60</text>
<line x1="982.0" y1="1266.8" x2="1002.6" y2="1266.8" stroke="#000" stroke-width="5.1" />
<text transform="translate(977.00 1280.80)" font-family="'Liberation Sans', Arial, sans-serif" font-size="39" font-weight="bold" text-anchor="end" >40</text>
<line x1="982.0" y1="1368.2" x2="1002.6" y2="1368.2" stroke="#000" stroke-width="5.1" />
<text transform="translate(977.00 1382.22)" font-family="'Liberation Sans', Arial, sans-serif" font-size="39" font-weight="bold" text-anchor="end" >20</text>
<line x1="982.0" y1="1469.6" x2="1002.6" y2="1469.6" stroke="#000" stroke-width="5.1" />
<text transform="translate(977.00 1483.64)" font-family="'Liberation Sans', Arial, sans-serif" font-size="39" font-weight="bold" text-anchor="end" >0</text>
<line x1="982.0" y1="1571.0" x2="1002.6" y2="1571.0" stroke="#000" stroke-width="5.1" />
<text transform="translate(977.00 1585.06)" font-family="'Liberation Sans', Arial, sans-serif" font-size="39" font-weight="bold" text-anchor="end" >-20</text>
<line x1="1099.3" y1="1570.6" x2="1099.3" y2="1593.3" stroke="#000" stroke-width="5.1" />
<line x1="1245.3" y1="1570.6" x2="1245.3" y2="1593.3" stroke="#000" stroke-width="5.1" />
<path d="M1099.7 1284.5 1099.7 1285.5 1099.7 1286.5 1099.7 1287.5 1099.7 1288.5 1099.7 1289.5 1099.7 1290.5 1099.8 1291.5 1099.8 1292.5 1099.9 1293.5 1100.0 1294.5 1100.1 1295.5 1100.2 1296.5 1100.3 1297.5 1100.5 1298.5 1100.7 1299.5 1100.9 1300.5 1101.1 1301.5 1101.3 1302.5 1101.6 1303.5 1101.8 1304.5 1102.1 1305.5 1102.5 1306.5 1102.8 1307.5 1103.2 1308.5 1103.6 1309.5 1104.0 1310.5 1104.4 1311.5 1104.9 1312.5 1105.4 1313.5 1105.9 1314.5 1106.4 1315.5 1106.9 1316.5 1107.5 1317.5 1108.1 1318.5 1108.7 1319.5 1109.3 1320.5 1110.0 1321.5 1110.7 1322.5 1111.4 1323.5 1112.0 1324.5 1112.6 1325.5 1113.1 1326.5 1113.7 1327.5 1114.2 1328.5 1114.7 1329.5 1115.2 1330.5 1115.6 1331.5 1116.0 1332.5 1116.5 1333.5 1116.9 1334.5 1117.3 1335.5 1117.7 1336.5 1118.0 1337.5 1118.3 1338.5 1118.4 1339.5 1118.5 1340.5 1118.6 1341.5 1118.7 1342.5 1118.7 1343.5 1118.8 1344.5 1118.8 1345.5 1118.8 1346.5 1118.8 1347.5 1118.7 1348.5 1118.6 1349.5 1118.5 1350.5 1118.4 1351.5 1118.4 1352.5 1118.3 1353.5 1118.3 1354.5 1118.2 1355.5 1118.2 1356.5 1118.2 1357.5 1118.1 1358.5 1118.1 1359.5 1118.1 1360.5 1118.1 1361.5 1118.2 1362.5 1118.2 1363.5 1118.3 1364.5 1118.5 1365.5 1118.6 1366.5 1118.7 1367.5 1118.9 1368.5 1119.2 1369.5 1119.5 1370.5 1119.8 1371.5 1120.2 1372.5 1120.6 1373.5 1121.1 1374.5 1121.5 1375.5 1121.9 1376.5 1122.4 1377.5 1122.9 1378.5 1123.4 1379.5 1123.9 1380.5 1124.4 1381.5 1125.0 1382.5 1125.5 1383.5 1126.1 1384.5 1126.7 1385.5 1127.3 1386.5 1128.0 1387.5 1128.7 1388.5 1129.5 1389.5 1130.3 1390.5 1131.1 1391.5 1131.9 1392.5 1132.8 1393.5 1133.6 1394.5 1134.4 1395.5 1135.2 1396.5 1136.1 1397.5 1137.0 1398.5 1137.8 1399.5 1138.5 1400.5 1139.2 1401.5 1139.8 1402.5 1140.4 1403.5 1141.0 1404.5 1141.5 1405.5 1142.0 1406.5 1142.4 1407.5 1142.7 1408.5 1142.9 1409.5 1143.1 1410.5 1143.3 1411.5 1143.5 1412.5 1143.6 1413.5 1143.6 1414.5 1143.5 1415.5 1143.3 1416.5 1142.9 1417.5 1142.5 1418.5 1142.0 1419.5 1141.5 1420.5 1140.9 1421.5 1140.4 1422.5 1139.9 1423.5 1139.3 1424.5 1138.7 1425.5 1138.0 1426.5 1137.4 1427.5 1136.7 1428.5 1135.9 1429.5 1135.2 1430.5 1134.5 1431.5 1133.8 1432.5 1133.0 1433.5 1132.2 1434.5 1131.5 1435.5 1130.7 1436.5 1130.0 1437.5 1129.2 1438.5 1128.5 1439.5 1127.8 1440.5 1127.1 1441.5 1126.4 1442.5 1125.7 1443.5 1125.1 1444.5 1124.5 1445.5 1123.9 1446.5 1123.3 1447.5 1122.7 1448.5 1122.2 1449.5 1121.7 1450.5 1121.2 1451.5 1120.8 1452.5 1120.4 1453.5 1120.1 1454.5 1119.7 1455.5 1119.4 1456.5 1119.1 1457.5 1118.7 1458.5 1118.3 1459.5 1117.9 1460.5 1117.4 1461.5 1116.9 1462.5 1116.3 1463.5 1115.8 1464.5 1115.2 1465.5 1114.7 1466.5 1114.3 1467.5 1113.8 1468.5 1113.3 1469.5 1112.7 1470.5 1112.2 1471.5 1111.7 1472.5 1111.2 1473.5 1110.6 1474.5 1110.1 1475.5 1109.5 1476.5 1108.9 1477.5 1108.3 1478.5 1107.6 1479.5 1107.1 1480.5 1106.5 1481.5 1106.0 1482.5 1105.5 1483.5 1105.0 1484.5 1104.5 1485.5 1104.1 1486.5 1103.6 1487.5 1103.2 1488.5 1102.8 1489.5 1102.5 1490.5 1102.1 1491.5 1101.7 1492.5 1101.4 1493.5 1101.1 1494.5 1100.8 1495.5 1100.6 1496.5 1100.4 1497.5 1100.2 1498.5 1100.1 1499.5 1100.0 1500.5 1099.9 1501.5 1099.8 1502.5 1099.8 1503.5 1099.7 1504.5 1099.7 1505.5 1099.7 1506.5 1099.7 1507.5 1099.7 1508.5 1099.7 1509.5 1099.7 1510.5 1099.7 1511.5 1099.7 1512.5 1099.7 1513.5 1099.7 1514.5 1099.7 1514.5 1099.7 1513.5 1099.7 1512.5 1099.7 1511.5 1099.7 1510.5 1099.7 1509.5 1099.7 1508.5 1099.7 1507.5 1099.7 1506.5 1099.7 1505.5 1099.7 1504.5 1099.6 1503.5 1099.6 1502.5 1099.5 1501.5 1099.4 1500.5 1099.3 1499.5 1099.2 1498.5 1099.0 1497.5 1098.8 1496.5 1098.6 1495.5 1098.3 1494.5 1098.0 1493.5 1097.7 1492.5 1097.3 1491.5 1096.9 1490.5 1096.6 1489.5 1096.2 1488.5 1095.8 1487.5 1095.3 1486.5 1094.9 1485.5 1094.4 1484.5 1093.9 1483.5 1093.4 1482.5 1092.9 1481.5 1092.3 1480.5 1091.8 1479.5 1091.1 1478.5 1090.5 1477.5 1089.9 1476.5 1089.3 1475.5 1088.8 1474.5 1088.2 1473.5 1087.7 1472.5 1087.2 1471.5 1086.7 1470.5 1086.1 1469.5 1085.6 1468.5 1085.1 1467.5 1084.7 1466.5 1084.2 1465.5 1083.6 1464.5 1083.1 1463.5 1082.5 1462.5 1082.0 1461.5 1081.5 1460.5 1081.1 1459.5 1080.7 1458.5 1080.3 1457.5 1080.0 1456.5 1079.7 1455.5 1079.3 1454.5 1079.0 1453.5 1078.6 1452.5 1078.2 1451.5 1077.7 1450.5 1077.2 1449.5 1076.7 1448.5 1076.1 1447.5 1075.5 1446.5 1074.9 1445.5 1074.3 1444.5 1073.7 1443.5 1073.0 1442.5 1072.3 1441.5 1071.6 1440.5 1070.9 1439.5 1070.2 1438.5 1069.4 1437.5 1068.7 1436.5 1067.9 1435.5 1067.2 1434.5 1066.4 1433.5 1065.6 1432.5 1064.9 1431.5 1064.2 1430.5 1063.5 1429.5 1062.7 1428.5 1062.0 1427.5 1061.4 1426.5 1060.7 1425.5 1060.1 1424.5 1059.5 1423.5 1059.0 1422.5 1058.5 1421.5 1057.9 1420.5 1057.4 1419.5 1056.9 1418.5 1056.5 1417.5 1056.1 1416.5 1055.9 1415.5 1055.8 1414.5 1055.8 1413.5 1055.9 1412.5 1056.1 1411.5 1056.3 1410.5 1056.5 1409.5 1056.7 1408.5 1057.0 1407.5 1057.4 1406.5 1057.9 1405.5 1058.4 1404.5 1059.0 1403.5 1059.6 1402.5 1060.2 1401.5 1060.9 1400.5 1061.6 1399.5 1062.4 1398.5 1063.3 1397.5 1064.2 1396.5 1065.0 1395.5 1065.8 1394.5 1066.6 1393.5 1067.5 1392.5 1068.3 1391.5 1069.1 1390.5 1069.9 1389.5 1070.7 1388.5 1071.4 1387.5 1072.1 1386.5 1072.7 1385.5 1073.3 1384.5 1073.9 1383.5 1074.4 1382.5 1075.0 1381.5 1075.5 1380.5 1076.0 1379.5 1076.5 1378.5 1077.0 1377.5 1077.5 1376.5 1077.9 1375.5 1078.3 1374.5 1078.8 1373.5 1079.2 1372.5 1079.6 1371.5 1079.9 1370.5 1080.2 1369.5 1080.5 1368.5 1080.7 1367.5 1080.8 1366.5 1080.9 1365.5 1081.1 1364.5 1081.2 1363.5 1081.2 1362.5 1081.3 1361.5 1081.3 1360.5 1081.3 1359.5 1081.3 1358.5 1081.2 1357.5 1081.2 1356.5 1081.2 1355.5 1081.1 1354.5 1081.1 1353.5 1081.0 1352.5 1081.0 1351.5 1080.9 1350.5 1080.8 1349.5 1080.7 1348.5 1080.6 1347.5 1080.6 1346.5 1080.6 1345.5 1080.6 1344.5 1080.7 1343.5 1080.7 1342.5 1080.8 1341.5 1080.9 1340.5 1081.0 1339.5 1081.1 1338.5 1081.4 1337.5 1081.7 1336.5 1082.1 1335.5 1082.5 1334.5 1082.9 1333.5 1083.4 1332.5 1083.8 1331.5 1084.2 1330.5 1084.7 1329.5 1085.2 1328.5 1085.7 1327.5 1086.3 1326.5 1086.8 1325.5 1087.4 1324.5 1088.0 1323.5 1088.7 1322.5 1089.4 1321.5 1090.1 1320.5 1090.7 1319.5 1091.3 1318.5 1091.9 1317.5 1092.5 1316.5 1093.0 1315.5 1093.5 1314.5 1094.0 1313.5 1094.5 1312.5 1095.0 1311.5 1095.4 1310.5 1095.8 1309.5 1096.2 1308.5 1096.6 1307.5 1096.9 1306.5 1097.3 1305.5 1097.6 1304.5 1097.8 1303.5 1098.1 1302.5 1098.3 1301.5 1098.5 1300.5 1098.7 1299.5 1098.9 1298.5 1099.1 1297.5 1099.2 1296.5 1099.3 1295.5 1099.4 1294.5 1099.5 1293.5 1099.6 1292.5 1099.6 1291.5 1099.7 1290.5 1099.7 1289.5 1099.7 1288.5 1099.7 1287.5 1099.7 1286.5 1099.7 1285.5 1099.7 1284.5Z" fill="#7f7f7f"/>
<path d="M1245.0 1123.4 1245.0 1124.4 1245.0 1125.4 1245.1 1126.4 1245.1 1127.4 1245.1 1128.4 1245.1 1129.4 1245.2 1130.4 1245.2 1131.4 1245.2 1132.4 1245.2 1133.4 1245.2 1134.4 1245.3 1135.4 1245.3 1136.4 1245.3 1137.4 1245.4 1138.4 1245.4 1139.4 1245.5 1140.4 1245.5 1141.4 1245.6 1142.4 1245.7 1143.4 1245.9 1144.4 1246.1 1145.4 1246.3 1146.4 1246.5 1147.4 1246.7 1148.4 1247.0 1149.4 1247.3 1150.4 1247.6 1151.4 1247.9 1152.4 1248.2 1153.4 1248.5 1154.4 1248.8 1155.4 1249.1 1156.4 1249.4 1157.4 1249.7 1158.4 1250.1 1159.4 1250.4 1160.4 1250.8 1161.4 1251.2 1162.4 1251.6 1163.4 1252.0 1164.4 1252.4 1165.4 1252.8 1166.4 1253.2 1167.4 1253.6 1168.4 1254.0 1169.4 1254.4 1170.4 1254.8 1171.4 1255.2 1172.4 1255.6 1173.4 1255.9 1174.4 1256.2 1175.4 1256.4 1176.4 1256.7 1177.4 1256.9 1178.4 1257.1 1179.4 1257.3 1180.4 1257.5 1181.4 1257.6 1182.4 1257.8 1183.4 1257.9 1184.4 1257.9 1185.4 1257.9 1186.4 1257.8 1187.4 1257.7 1188.4 1257.5 1189.4 1257.4 1190.4 1257.2 1191.4 1257.0 1192.4 1256.8 1193.4 1256.6 1194.4 1256.2 1195.4 1255.9 1196.4 1255.5 1197.4 1255.0 1198.4 1254.6 1199.4 1254.2 1200.4 1253.8 1201.4 1253.3 1202.4 1252.8 1203.4 1252.4 1204.4 1251.9 1205.4 1251.6 1206.4 1251.2 1207.4 1250.9 1208.4 1250.6 1209.4 1250.2 1210.4 1249.9 1211.4 1249.6 1212.4 1249.3 1213.4 1249.0 1214.4 1248.7 1215.4 1248.4 1216.4 1248.1 1217.4 1247.8 1218.4 1247.5 1219.4 1247.2 1220.4 1246.9 1221.4 1246.6 1222.4 1246.4 1223.4 1246.2 1224.4 1246.1 1225.4 1245.9 1226.4 1245.7 1227.4 1245.6 1228.4 1245.5 1229.4 1245.4 1230.4 1245.3 1231.4 1245.2 1232.4 1245.1 1233.4 1245.1 1234.4 1245.1 1235.4 1245.0 1236.4 1245.0 1237.4 1245.0 1238.4 1245.0 1239.4 1245.0 1240.4 1245.0 1241.4 1245.0 1242.4 1245.0 1243.4 1245.0 1244.4 1245.0 1245.4 1245.0 1246.4 1245.0 1247.4 1245.0 1248.4 1245.0 1249.4 1245.0 1250.4 1245.0 1251.4 1245.0 1252.4 1245.0 1253.4 1245.0 1254.4 1245.0 1255.4 1245.0 1256.4 1245.0 1257.4 1245.0 1258.4 1245.0 1259.4 1245.0 1260.4 1245.0 1261.4 1245.1 1262.4 1245.1 1263.4 1245.2 1264.4 1245.3 1265.4 1245.5 1266.4 1245.6 1267.4 1245.8 1268.4 1246.0 1269.4 1246.2 1270.4 1246.5 1271.4 1246.9 1272.4 1247.2 1273.4 1247.6 1274.4 1247.9 1275.4 1248.3 1276.4 1248.8 1277.4 1249.2 1278.4 1249.6 1279.4 1249.9 1280.4 1250.4 1281.4 1250.9 1282.4 1251.6 1283.4 1252.3 1284.4 1253.2 1285.4 1254.1 1286.4 1255.0 1287.4 1256.0 1288.4 1257.1 1289.4 1258.3 1290.4 1259.5 1291.4 1260.8 1292.4 1262.0 1293.4 1263.3 1294.4 1264.5 1295.4 1265.6 1296.4 1266.8 1297.4 1267.9 1298.4 1269.1 1299.4 1270.4 1300.4 1271.8 1301.4 1273.3 1302.4 1275.0 1303.4 1276.7 1304.4 1278.3 1305.4 1279.7 1306.4 1280.8 1307.4 1281.8 1308.4 1282.8 1309.4 1283.6 1310.4 1284.4 1311.4 1285.1 1312.4 1285.8 1313.4 1286.4 1314.4 1286.9 1315.4 1287.4 1316.4 1288.0 1317.4 1288.4 1318.4 1288.8 1319.4 1289.0 1320.4 1289.1 1321.4 1289.0 1322.4 1288.9 1323.4 1288.6 1324.4 1288.3 1325.4 1287.9 1326.4 1287.5 1327.4 1287.1 1328.4 1286.6 1329.4 1286.0 1330.4 1285.2 1331.4 1284.3 1332.4 1283.4 1333.4 1282.5 1334.4 1281.6 1335.4 1280.7 1336.4 1279.7 1337.4 1278.7 1338.4 1277.7 1339.4 1276.7 1340.4 1275.6 1341.4 1274.6 1342.4 1273.6 1343.4 1272.5 1344.4 1271.5 1345.4 1270.4 1346.4 1269.3 1347.4 1268.4 1348.4 1267.5 1349.4 1266.7 1350.4 1266.0 1351.4 1265.3 1352.4 1264.6 1353.4 1264.0 1354.4 1263.4 1355.4 1263.0 1356.4 1262.6 1357.4 1262.3 1358.4 1262.0 1359.4 1261.8 1360.4 1261.5 1361.4 1261.3 1362.4 1261.2 1363.4 1261.2 1364.4 1261.2 1365.4 1261.3 1366.4 1261.4 1367.4 1261.5 1368.4 1261.6 1369.4 1261.8 1370.4 1261.9 1371.4 1262.0 1372.4 1262.2 1373.4 1262.3 1374.4 1262.5 1375.4 1262.7 1376.4 1262.8 1377.4 1263.0 1378.4 1263.1 1379.4 1263.2 1380.4 1263.3 1381.4 1263.4 1382.4 1263.5 1383.4 1263.6 1384.4 1263.7 1385.4 1263.7 1386.4 1263.8 1387.4 1263.9 1388.4 1264.0 1389.4 1264.0 1390.4 1264.1 1391.4 1264.1 1392.4 1264.1 1393.4 1264.1 1394.4 1264.0 1395.4 1263.9 1396.4 1263.8 1397.4 1263.6 1398.4 1263.5 1399.4 1263.4 1400.4 1263.2 1401.4 1263.0 1402.4 1262.8 1403.4 1262.5 1404.4 1262.3 1405.4 1262.1 1406.4 1261.9 1407.4 1261.6 1408.4 1261.4 1409.4 1261.2 1410.4 1261.0 1411.4 1260.8 1412.4 1260.6 1413.4 1260.4 1414.4 1260.2 1415.4 1260.0 1416.4 1259.8 1417.4 1259.6 1418.4 1259.3 1419.4 1259.0 1420.4 1258.6 1421.4 1258.1 1422.4 1257.6 1423.4 1257.0 1424.4 1256.3 1425.4 1255.7 1426.4 1255.0 1427.4 1254.4 1428.4 1253.8 1429.4 1253.2 1430.4 1252.6 1431.4 1252.0 1432.4 1251.4 1433.4 1250.8 1434.4 1250.2 1435.4 1249.7 1436.4 1249.1 1437.4 1248.6 1438.4 1248.1 1439.4 1247.7 1440.4 1247.4 1441.4 1247.1 1442.4 1246.8 1443.4 1246.6 1444.4 1246.4 1445.4 1246.2 1446.4 1246.0 1447.4 1245.9 1448.4 1245.7 1449.4 1245.6 1450.4 1245.5 1451.4 1245.4 1452.4 1245.3 1453.4 1245.2 1454.4 1245.2 1455.4 1245.1 1456.4 1245.1 1457.4 1245.1 1458.4 1245.0 1459.4 1245.0 1460.4 1245.0 1461.4 1245.0 1462.4 1245.0 1463.4 1245.0 1464.4 1245.0 1465.4 1245.0 1466.4 1245.0 1467.4 1245.0 1468.4 1245.0 1469.4 1245.0 1470.4 1245.0 1471.0 1245.0 1471.0 1245.0 1470.4 1245.0 1469.4 1245.0 1468.4 1245.0 1467.4 1245.0 1466.4 1245.0 1465.4 1245.0 1464.4 1245.0 1463.4 1245.0 1462.4 1245.0 1461.4 1245.0 1460.4 1245.0 1459.4 1244.9 1458.4 1244.9 1457.4 1244.9 1456.4 1244.8 1455.4 1244.8 1454.4 1244.7 1453.4 1244.6 1452.4 1244.5 1451.4 1244.4 1450.4 1244.3 1449.4 1244.1 1448.4 1244.0 1447.4 1243.8 1446.4 1243.6 1445.4 1243.4 1444.4 1243.2 1443.4 1242.9 1442.4 1242.6 1441.4 1242.3 1440.4 1241.9 1439.4 1241.4 1438.4 1240.9 1437.4 1240.3 1436.4 1239.8 1435.4 1239.2 1434.4 1238.6 1433.4 1238.0 1432.4 1237.4 1431.4 1236.8 1430.4 1236.2 1429.4 1235.6 1428.4 1235.0 1427.4 1234.3 1426.4 1233.7 1425.4 1233.0 1424.4 1232.4 1423.4 1231.9 1422.4 1231.4 1421.4 1231.0 1420.4 1230.7 1419.4 1230.4 1418.4 1230.2 1417.4 1230.0 1416.4 1229.8 1415.4 1229.6 1414.4 1229.4 1413.4 1229.2 1412.4 1229.0 1411.4 1228.8 1410.4 1228.6 1409.4 1228.4 1408.4 1228.1 1407.4 1227.9 1406.4 1227.7 1405.4 1227.5 1404.4 1227.2 1403.4 1227.0 1402.4 1226.8 1401.4 1226.6 1400.4 1226.5 1399.4 1226.4 1398.4 1226.2 1397.4 1226.1 1396.4 1226.0 1395.4 1225.9 1394.4 1225.9 1393.4 1225.9 1392.4 1225.9 1391.4 1226.0 1390.4 1226.0 1389.4 1226.1 1388.4 1226.2 1387.4 1226.3 1386.4 1226.3 1385.4 1226.4 1384.4 1226.5 1383.4 1226.6 1382.4 1226.7 1381.4 1226.8 1380.4 1226.9 1379.4 1227.0 1378.4 1227.2 1377.4 1227.3 1376.4 1227.5 1375.4 1227.7 1374.4 1227.8 1373.4 1228.0 1372.4 1228.1 1371.4 1228.2 1370.4 1228.4 1369.4 1228.5 1368.4 1228.6 1367.4 1228.7 1366.4 1228.8 1365.4 1228.8 1364.4 1228.8 1363.4 1228.7 1362.4 1228.5 1361.4 1228.2 1360.4 1228.0 1359.4 1227.7 1358.4 1227.4 1357.4 1227.0 1356.4 1226.6 1355.4 1226.0 1354.4 1225.4 1353.4 1224.7 1352.4 1224.0 1351.4 1223.3 1350.4 1222.5 1349.4 1221.6 1348.4 1220.7 1347.4 1219.6 1346.4 1218.5 1345.4 1217.5 1344.4 1216.4 1343.4 1215.4 1342.4 1214.4 1341.4 1213.3 1340.4 1212.3 1339.4 1211.3 1338.4 1210.3 1337.4 1209.3 1336.4 1208.4 1335.4 1207.5 1334.4 1206.6 1333.4 1205.7 1332.4 1204.8 1331.4 1204.0 1330.4 1203.4 1329.4 1202.9 1328.4 1202.5 1327.4 1202.1 1326.4 1201.7 1325.4 1201.4 1324.4 1201.1 1323.4 1201.0 1322.4 1200.9 1321.4 1201.0 1320.4 1201.2 1319.4 1201.6 1318.4 1202.0 1317.4 1202.6 1316.4 1203.1 1315.4 1203.6 1314.4 1204.2 1313.4 1204.9 1312.4 1205.6 1311.4 1206.4 1310.4 1207.2 1309.4 1208.2 1308.4 1209.2 1307.4 1210.3 1306.4 1211.7 1305.4 1213.3 1304.4 1215.0 1303.4 1216.7 1302.4 1218.2 1301.4 1219.6 1300.4 1220.9 1299.4 1222.1 1298.4 1223.2 1297.4 1224.4 1296.4 1225.5 1295.4 1226.7 1294.4 1228.0 1293.4 1229.2 1292.4 1230.5 1291.4 1231.7 1290.4 1232.9 1289.4 1234.0 1288.4 1235.0 1287.4 1235.9 1286.4 1236.8 1285.4 1237.7 1284.4 1238.4 1283.4 1239.1 1282.4 1239.6 1281.4 1240.1 1280.4 1240.4 1279.4 1240.8 1278.4 1241.2 1277.4 1241.7 1276.4 1242.1 1275.4 1242.4 1274.4 1242.8 1273.4 1243.1 1272.4 1243.5 1271.4 1243.8 1270.4 1244.0 1269.4 1244.2 1268.4 1244.4 1267.4 1244.5 1266.4 1244.7 1265.4 1244.8 1264.4 1244.9 1263.4 1244.9 1262.4 1245.0 1261.4 1245.0 1260.4 1245.0 1259.4 1245.0 1258.4 1245.0 1257.4 1245.0 1256.4 1245.0 1255.4 1245.0 1254.4 1245.0 1253.4 1245.0 1252.4 1245.0 1251.4 1245.0 1250.4 1245.0 1249.4 1245.0 1248.4 1245.0 1247.4 1245.0 1246.4 1245.0 1245.4 1245.0 1244.4 1245.0 1243.4 1245.0 1242.4 1245.0 1241.4 1245.0 1240.4 1245.0 1239.4 1245.0 1238.4 1245.0 1237.4 1245.0 1236.4 1244.9 1235.4 1244.9 1234.4 1244.9 1233.4 1244.8 1232.4 1244.7 1231.4 1244.6 1230.4 1244.5 1229.4 1244.4 1228.4 1244.3 1227.4 1244.1 1226.4 1243.9 1225.4 1243.8 1224.4 1243.6 1223.4 1243.4 1222.4 1243.1 1221.4 1242.8 1220.4 1242.5 1219.4 1242.2 1218.4 1241.9 1217.4 1241.6 1216.4 1241.3 1215.4 1241.0 1214.4 1240.7 1213.4 1240.4 1212.4 1240.1 1211.4 1239.8 1210.4 1239.4 1209.4 1239.1 1208.4 1238.8 1207.4 1238.4 1206.4 1238.1 1205.4 1237.6 1204.4 1237.2 1203.4 1236.7 1202.4 1236.2 1201.4 1235.8 1200.4 1235.4 1199.4 1235.0 1198.4 1234.5 1197.4 1234.1 1196.4 1233.8 1195.4 1233.4 1194.4 1233.2 1193.4 1233.0 1192.4 1232.8 1191.4 1232.6 1190.4 1232.5 1189.4 1232.3 1188.4 1232.2 1187.4 1232.1 1186.4 1232.1 1185.4 1232.1 1184.4 1232.2 1183.4 1232.4 1182.4 1232.5 1181.4 1232.7 1180.4 1232.9 1179.4 1233.1 1178.4 1233.3 1177.4 1233.6 1176.4 1233.8 1175.4 1234.1 1174.4 1234.4 1173.4 1234.8 1172.4 1235.2 1171.4 1235.6 1170.4 1236.0 1169.4 1236.4 1168.4 1236.8 1167.4 1237.2 1166.4 1237.6 1165.4 1238.0 1164.4 1238.4 1163.4 1238.8 1162.4 1239.2 1161.4 1239.6 1160.4 1239.9 1159.4 1240.3 1158.4 1240.6 1157.4 1240.9 1156.4 1241.2 1155.4 1241.5 1154.4 1241.8 1153.4 1242.1 1152.4 1242.4 1151.4 1242.7 1150.4 1243.0 1149.4 1243.3 1148.4 1243.5 1147.4 1243.7 1146.4 1243.9 1145.4 1244.1 1144.4 1244.3 1143.4 1244.4 1142.4 1244.5 1141.4 1244.5 1140.4 1244.6 1139.4 1244.6 1138.4 1244.7 1137.4 1244.7 1136.4 1244.7 1135.4 1244.8 1134.4 1244.8 1133.4 1244.8 1132.4 1244.8 1131.4 1244.8 1130.4 1244.9 1129.4 1244.9 1128.4 1244.9 1127.4 1244.9 1126.4 1245.0 1125.4 1245.0 1124.4 1245.0 1123.4Z" fill="#a1a0a5"/>
<line x1="1018.1" y1="1469.6" x2="1342.0" y2="1469.6" stroke="#000" stroke-width="5.1" stroke-linecap="round" stroke-dasharray="0 15.3"/>
<line x1="1058.2" y1="1410.9" x2="1141.2" y2="1410.9" stroke="#000" stroke-width="2.8" stroke-dasharray="7 5.7"/>
<line x1="1088.3" y1="1370.8" x2="1111.11" y2="1370.8" stroke="#000" stroke-width="2.6" stroke-linecap="round" stroke-dasharray="0 7.6"/>
<line x1="1076.9" y1="1436.5" x2="1122.51" y2="1436.5" stroke="#000" stroke-width="2.6" stroke-linecap="round" stroke-dasharray="0 7.6"/>
<path d="M1099.7 1284.5 1099.7 1285.5 1099.7 1286.5 1099.7 1287.5 1099.7 1288.5 1099.7 1289.5 1099.7 1290.5 1099.8 1291.5 1099.8 1292.5 1099.9 1293.5 1100.0 1294.5 1100.1 1295.5 1100.2 1296.5 1100.3 1297.5 1100.5 1298.5 1100.7 1299.5 1100.9 1300.5 1101.1 1301.5 1101.3 1302.5 1101.6 1303.5 1101.8 1304.5 1102.1 1305.5 1102.5 1306.5 1102.8 1307.5 1103.2 1308.5 1103.6 1309.5 1104.0 1310.5 1104.4 1311.5 1104.9 1312.5 1105.4 1313.5 1105.9 1314.5 1106.4 1315.5 1106.9 1316.5 1107.5 1317.5 1108.1 1318.5 1108.7 1319.5 1109.3 1320.5 1110.0 1321.5 1110.7 1322.5 1111.4 1323.5 1112.0 1324.5 1112.6 1325.5 1113.1 1326.5 1113.7 1327.5 1114.2 1328.5 1114.7 1329.5 1115.2 1330.5 1115.6 1331.5 1116.0 1332.5 1116.5 1333.5 1116.9 1334.5 1117.3 1335.5 1117.7 1336.5 1118.0 1337.5 1118.3 1338.5 1118.4 1339.5 1118.5 1340.5 1118.6 1341.5 1118.7 1342.5 1118.7 1343.5 1118.8 1344.5 1118.8 1345.5 1118.8 1346.5 1118.8 1347.5 1118.7 1348.5 1118.6 1349.5 1118.5 1350.5 1118.4 1351.5 1118.4 1352.5 1118.3 1353.5 1118.3 1354.5 1118.2 1355.5 1118.2 1356.5 1118.2 1357.5 1118.1 1358.5 1118.1 1359.5 1118.1 1360.5 1118.1 1361.5 1118.2 1362.5 1118.2 1363.5 1118.3 1364.5 1118.5 1365.5 1118.6 1366.5 1118.7 1367.5 1118.9 1368.5 1119.2 1369.5 1119.5 1370.5 1119.8 1371.5 1120.2 1372.5 1120.6 1373.5 1121.1 1374.5 1121.5 1375.5 1121.9 1376.5 1122.4 1377.5 1122.9 1378.5 1123.4 1379.5 1123.9 1380.5 1124.4 1381.5 1125.0 1382.5 1125.5 1383.5 1126.1 1384.5 1126.7 1385.5 1127.3 1386.5 1128.0 1387.5 1128.7 1388.5 1129.5 1389.5 1130.3 1390.5 1131.1 1391.5 1131.9 1392.5 1132.8 1393.5 1133.6 1394.5 1134.4 1395.5 1135.2 1396.5 1136.1 1397.5 1137.0 1398.5 1137.8 1399.5 1138.5 1400.5 1139.2 1401.5 1139.8 1402.5 1140.4 1403.5 1141.0 1404.5 1141.5 1405.5 1142.0 1406.5 1142.4 1407.5 1142.7 1408.5 1142.9 1409.5 1143.1 1410.5 1143.3 1411.5 1143.5 1412.5 1143.6 1413.5 1143.6 1414.5 1143.5 1415.5 1143.3 1416.5 1142.9 1417.5 1142.5 1418.5 1142.0 1419.5 1141.5 1420.5 1140.9 1421.5 1140.4 1422.5 1139.9 1423.5 1139.3 1424.5 1138.7 1425.5 1138.0 1426.5 1137.4 1427.5 1136.7 1428.5 1135.9 1429.5 1135.2 1430.5 1134.5 1431.5 1133.8 1432.5 1133.0 1433.5 1132.2 1434.5 1131.5 1435.5 1130.7 1436.5 1130.0 1437.5 1129.2 1438.5 1128.5 1439.5 1127.8 1440.5 1127.1 1441.5 1126.4 1442.5 1125.7 1443.5 1125.1 1444.5 1124.5 1445.5 1123.9 1446.5 1123.3 1447.5 1122.7 1448.5 1122.2 1449.5 1121.7 1450.5 1121.2 1451.5 1120.8 1452.5 1120.4 1453.5 1120.1 1454.5 1119.7 1455.5 1119.4 1456.5 1119.1 1457.5 1118.7 1458.5 1118.3 1459.5 1117.9 1460.5 1117.4 1461.5 1116.9 1462.5 1116.3 1463.5 1115.8 1464.5 1115.2 1465.5 1114.7 1466.5 1114.3 1467.5 1113.8 1468.5 1113.3 1469.5 1112.7 1470.5 1112.2 1471.5 1111.7 1472.5 1111.2 1473.5 1110.6 1474.5 1110.1 1475.5 1109.5 1476.5 1108.9 1477.5 1108.3 1478.5 1107.6 1479.5 1107.1 1480.5 1106.5 1481.5 1106.0 1482.5 1105.5 1483.5 1105.0 1484.5 1104.5 1485.5 1104.1 1486.5 1103.6 1487.5 1103.2 1488.5 1102.8 1489.5 1102.5 1490.5 1102.1 1491.5 1101.7 1492.5 1101.4 1493.5 1101.1 1494.5 1100.8 1495.5 1100.6 1496.5 1100.4 1497.5 1100.2 1498.5 1100.1 1499.5 1100.0 1500.5 1099.9 1501.5 1099.8 1502.5 1099.8 1503.5 1099.7 1504.5 1099.7 1505.5 1099.7 1506.5 1099.7 1507.5 1099.7 1508.5 1099.7 1509.5 1099.7 1510.5 1099.7 1511.5 1099.7 1512.5 1099.7 1513.5 1099.7 1514.5 1099.7 1514.5 1099.7 1513.5 1099.7 1512.5 1099.7 1511.5 1099.7 1510.5 1099.7 1509.5 1099.7 1508.5 1099.7 1507.5 1099.7 1506.5 1099.7 1505.5 1099.7 1504.5 1099.6 1503.5 1099.6 1502.5 1099.5 1501.5 1099.4 1500.5 1099.3 1499.5 1099.2 1498.5 1099.0 1497.5 1098.8 1496.5 1098.6 1495.5 1098.3 1494.5 1098.0 1493.5 1097.7 1492.5 1097.3 1491.5 1096.9 1490.5 1096.6 1489.5 1096.2 1488.5 1095.8 1487.5 1095.3 1486.5 1094.9 1485.5 1094.4 1484.5 1093.9 1483.5 1093.4 1482.5 1092.9 1481.5 1092.3 1480.5 1091.8 1479.5 1091.1 1478.5 1090.5 1477.5 1089.9 1476.5 1089.3 1475.5 1088.8 1474.5 1088.2 1473.5 1087.7 1472.5 1087.2 1471.5 1086.7 1470.5 1086.1 1469.5 1085.6 1468.5 1085.1 1467.5 1084.7 1466.5 1084.2 1465.5 1083.6 1464.5 1083.1 1463.5 1082.5 1462.5 1082.0 1461.5 1081.5 1460.5 1081.1 1459.5 1080.7 1458.5 1080.3 1457.5 1080.0 1456.5 1079.7 1455.5 1079.3 1454.5 1079.0 1453.5 1078.6 1452.5 1078.2 1451.5 1077.7 1450.5 1077.2 1449.5 1076.7 1448.5 1076.1 1447.5 1075.5 1446.5 1074.9 1445.5 1074.3 1444.5 1073.7 1443.5 1073.0 1442.5 1072.3 1441.5 1071.6 1440.5 1070.9 1439.5 1070.2 1438.5 1069.4 1437.5 1068.7 1436.5 1067.9 1435.5 1067.2 1434.5 1066.4 1433.5 1065.6 1432.5 1064.9 1431.5 1064.2 1430.5 1063.5 1429.5 1062.7 1428.5 1062.0 1427.5 1061.4 1426.5 1060.7 1425.5 1060.1 1424.5 1059.5 1423.5 1059.0 1422.5 1058.5 1421.5 1057.9 1420.5 1057.4 1419.5 1056.9 1418.5 1056.5 1417.5 1056.1 1416.5 1055.9 1415.5 1055.8 1414.5 1055.8 1413.5 1055.9 1412.5 1056.1 1411.5 1056.3 1410.5 1056.5 1409.5 1056.7 1408.5 1057.0 1407.5 1057.4 1406.5 1057.9 1405.5 1058.4 1404.5 1059.0 1403.5 1059.6 1402.5 1060.2 1401.5 1060.9 1400.5 1061.6 1399.5 1062.4 1398.5 1063.3 1397.5 1064.2 1396.5 1065.0 1395.5 1065.8 1394.5 1066.6 1393.5 1067.5 1392.5 1068.3 1391.5 1069.1 1390.5 1069.9 1389.5 1070.7 1388.5 1071.4 1387.5 1072.1 1386.5 1072.7 1385.5 1073.3 1384.5 1073.9 1383.5 1074.4 1382.5 1075.0 1381.5 1075.5 1380.5 1076.0 1379.5 1076.5 1378.5 1077.0 1377.5 1077.5 1376.5 1077.9 1375.5 1078.3 1374.5 1078.8 1373.5 1079.2 1372.5 1079.6 1371.5 1079.9 1370.5 1080.2 1369.5 1080.5 1368.5 1080.7 1367.5 1080.8 1366.5 1080.9 1365.5 1081.1 1364.5 1081.2 1363.5 1081.2 1362.5 1081.3 1361.5 1081.3 1360.5 1081.3 1359.5 1081.3 1358.5 1081.2 1357.5 1081.2 1356.5 1081.2 1355.5 1081.1 1354.5 1081.1 1353.5 1081.0 1352.5 1081.0 1351.5 1080.9 1350.5 1080.8 1349.5 1080.7 1348.5 1080.6 1347.5 1080.6 1346.5 1080.6 1345.5 1080.6 1344.5 1080.7 1343.5 1080.7 1342.5 1080.8 1341.5 1080.9 1340.5 1081.0 1339.5 1081.1 1338.5 1081.4 1337.5 1081.7 1336.5 1082.1 1335.5 1082.5 1334.5 1082.9 1333.5 1083.4 1332.5 1083.8 1331.5 1084.2 1330.5 1084.7 1329.5 1085.2 1328.5 1085.7 1327.5 1086.3 1326.5 1086.8 1325.5 1087.4 1324.5 1088.0 1323.5 1088.7 1322.5 1089.4 1321.5 1090.1 1320.5 1090.7 1319.5 1091.3 1318.5 1091.9 1317.5 1092.5 1316.5 1093.0 1315.5 1093.5 1314.5 1094.0 1313.5 1094.5 1312.5 1095.0 1311.5 1095.4 1310.5 1095.8 1309.5 1096.2 1308.5 1096.6 1307.5 1096.9 1306.5 1097.3 1305.5 1097.6 1304.5 1097.8 1303.5 1098.1 1302.5 1098.3 1301.5 1098.5 1300.5 1098.7 1299.5 1098.9 1298.5 1099.1 1297.5 1099.2 1296.5 1099.3 1295.5 1099.4 1294.5 1099.5 1293.5 1099.6 1292.5 1099.6 1291.5 1099.7 1290.5 1099.7 1289.5 1099.7 1288.5 1099.7 1287.5 1099.7 1286.5 1099.7 1285.5 1099.7 1284.5Z" fill="none" stroke="#000" stroke-width="7.6" stroke-linejoin="round" stroke-linecap="round"/>
<line x1="1214.6" y1="1313.9" x2="1275.41" y2="1313.9" stroke="#000" stroke-width="2.6" stroke-linecap="round" stroke-dasharray="0 7.6"/>
<line x1="1202.9" y1="1321.8" x2="1287.1" y2="1321.8" stroke="#000" stroke-width="2.8" stroke-dasharray="7 5.7"/>
<line x1="1237.4" y1="1380.4" x2="1252.61" y2="1380.4" stroke="#000" stroke-width="2.6" stroke-linecap="round" stroke-dasharray="0 7.6"/>
<path d="M1245.0 1123.4 1245.0 1124.4 1245.0 1125.4 1245.1 1126.4 1245.1 1127.4 1245.1 1128.4 1245.1 1129.4 1245.2 1130.4 1245.2 1131.4 1245.2 1132.4 1245.2 1133.4 1245.2 1134.4 1245.3 1135.4 1245.3 1136.4 1245.3 1137.4 1245.4 1138.4 1245.4 1139.4 1245.5 1140.4 1245.5 1141.4 1245.6 1142.4 1245.7 1143.4 1245.9 1144.4 1246.1 1145.4 1246.3 1146.4 1246.5 1147.4 1246.7 1148.4 1247.0 1149.4 1247.3 1150.4 1247.6 1151.4 1247.9 1152.4 1248.2 1153.4 1248.5 1154.4 1248.8 1155.4 1249.1 1156.4 1249.4 1157.4 1249.7 1158.4 1250.1 1159.4 1250.4 1160.4 1250.8 1161.4 1251.2 1162.4 1251.6 1163.4 1252.0 1164.4 1252.4 1165.4 1252.8 1166.4 1253.2 1167.4 1253.6 1168.4 1254.0 1169.4 1254.4 1170.4 1254.8 1171.4 1255.2 1172.4 1255.6 1173.4 1255.9 1174.4 1256.2 1175.4 1256.4 1176.4 1256.7 1177.4 1256.9 1178.4 1257.1 1179.4 1257.3 1180.4 1257.5 1181.4 1257.6 1182.4 1257.8 1183.4 1257.9 1184.4 1257.9 1185.4 1257.9 1186.4 1257.8 1187.4 1257.7 1188.4 1257.5 1189.4 1257.4 1190.4 1257.2 1191.4 1257.0 1192.4 1256.8 1193.4 1256.6 1194.4 1256.2 1195.4 1255.9 1196.4 1255.5 1197.4 1255.0 1198.4 1254.6 1199.4 1254.2 1200.4 1253.8 1201.4 1253.3 1202.4 1252.8 1203.4 1252.4 1204.4 1251.9 1205.4 1251.6 1206.4 1251.2 1207.4 1250.9 1208.4 1250.6 1209.4 1250.2 1210.4 1249.9 1211.4 1249.6 1212.4 1249.3 1213.4 1249.0 1214.4 1248.7 1215.4 1248.4 1216.4 1248.1 1217.4 1247.8 1218.4 1247.5 1219.4 1247.2 1220.4 1246.9 1221.4 1246.6 1222.4 1246.4 1223.4 1246.2 1224.4 1246.1 1225.4 1245.9 1226.4 1245.7 1227.4 1245.6 1228.4 1245.5 1229.4 1245.4 1230.4 1245.3 1231.4 1245.2 1232.4 1245.1 1233.4 1245.1 1234.4 1245.1 1235.4 1245.0 1236.4 1245.0 1237.4 1245.0 1238.4 1245.0 1239.4 1245.0 1240.4 1245.0 1241.4 1245.0 1242.4 1245.0 1243.4 1245.0 1244.4 1245.0 1245.4 1245.0 1246.4 1245.0 1247.4 1245.0 1248.4 1245.0 1249.4 1245.0 1250.4 1245.0 1251.4 1245.0 1252.4 1245.0 1253.4 1245.0 1254.4 1245.0 1255.4 1245.0 1256.4 1245.0 1257.4 1245.0 1258.4 1245.0 1259.4 1245.0 1260.4 1245.0 1261.4 1245.1 1262.4 1245.1 1263.4 1245.2 1264.4 1245.3 1265.4 1245.5 1266.4 1245.6 1267.4 1245.8 1268.4 1246.0 1269.4 1246.2 1270.4 1246.5 1271.4 1246.9 1272.4 1247.2 1273.4 1247.6 1274.4 1247.9 1275.4 1248.3 1276.4 1248.8 1277.4 1249.2 1278.4 1249.6 1279.4 1249.9 1280.4 1250.4 1281.4 1250.9 1282.4 1251.6 1283.4 1252.3 1284.4 1253.2 1285.4 1254.1 1286.4 1255.0 1287.4 1256.0 1288.4 1257.1 1289.4 1258.3 1290.4 1259.5 1291.4 1260.8 1292.4 1262.0 1293.4 1263.3 1294.4 1264.5 1295.4 1265.6 1296.4 1266.8 1297.4 1267.9 1298.4 1269.1 1299.4 1270.4 1300.4 1271.8 1301.4 1273.3 1302.4 1275.0 1303.4 1276.7 1304.4 1278.3 1305.4 1279.7 1306.4 1280.8 1307.4 1281.8 1308.4 1282.8 1309.4 1283.6 1310.4 1284.4 1311.4 1285.1 1312.4 1285.8 1313.4 1286.4 1314.4 1286.9 1315.4 1287.4 1316.4 1288.0 1317.4 1288.4 1318.4 1288.8 1319.4 1289.0 1320.4 1289.1 1321.4 1289.0 1322.4 1288.9 1323.4 1288.6 1324.4 1288.3 1325.4 1287.9 1326.4 1287.5 1327.4 1287.1 1328.4 1286.6 1329.4 1286.0 1330.4 1285.2 1331.4 1284.3 1332.4 1283.4 1333.4 1282.5 1334.4 1281.6 1335.4 1280.7 1336.4 1279.7 1337.4 1278.7 1338.4 1277.7 1339.4 1276.7 1340.4 1275.6 1341.4 1274.6 1342.4 1273.6 1343.4 1272.5 1344.4 1271.5 1345.4 1270.4 1346.4 1269.3 1347.4 1268.4 1348.4 1267.5 1349.4 1266.7 1350.4 1266.0 1351.4 1265.3 1352.4 1264.6 1353.4 1264.0 1354.4 1263.4 1355.4 1263.0 1356.4 1262.6 1357.4 1262.3 1358.4 1262.0 1359.4 1261.8 1360.4 1261.5 1361.4 1261.3 1362.4 1261.2 1363.4 1261.2 1364.4 1261.2 1365.4 1261.3 1366.4 1261.4 1367.4 1261.5 1368.4 1261.6 1369.4 1261.8 1370.4 1261.9 1371.4 1262.0 1372.4 1262.2 1373.4 1262.3 1374.4 1262.5 1375.4 1262.7 1376.4 1262.8 1377.4 1263.0 1378.4 1263.1 1379.4 1263.2 1380.4 1263.3 1381.4 1263.4 1382.4 1263.5 1383.4 1263.6 1384.4 1263.7 1385.4 1263.7 1386.4 1263.8 1387.4 1263.9 1388.4 1264.0 1389.4 1264.0 1390.4 1264.1 1391.4 1264.1 1392.4 1264.1 1393.4 1264.1 1394.4 1264.0 1395.4 1263.9 1396.4 1263.8 1397.4 1263.6 1398.4 1263.5 1399.4 1263.4 1400.4 1263.2 1401.4 1263.0 1402.4 1262.8 1403.4 1262.5 1404.4 1262.3 1405.4 1262.1 1406.4 1261.9 1407.4 1261.6 1408.4 1261.4 1409.4 1261.2 1410.4 1261.0 1411.4 1260.8 1412.4 1260.6 1413.4 1260.4 1414.4 1260.2 1415.4 1260.0 1416.4 1259.8 1417.4 1259.6 1418.4 1259.3 1419.4 1259.0 1420.4 1258.6 1421.4 1258.1 1422.4 1257.6 1423.4 1257.0 1424.4 1256.3 1425.4 1255.7 1426.4 1255.0 1427.4 1254.4 1428.4 1253.8 1429.4 1253.2 1430.4 1252.6 1431.4 1252.0 1432.4 1251.4 1433.4 1250.8 1434.4 1250.2 1435.4 1249.7 1436.4 1249.1 1437.4 1248.6 1438.4 1248.1 1439.4 1247.7 1440.4 1247.4 1441.4 1247.1 1442.4 1246.8 1443.4 1246.6 1444.4 1246.4 1445.4 1246.2 1446.4 1246.0 1447.4 1245.9 1448.4 1245.7 1449.4 1245.6 1450.4 1245.5 1451.4 1245.4 1452.4 1245.3 1453.4 1245.2 1454.4 1245.2 1455.4 1245.1 1456.4 1245.1 1457.4 1245.1 1458.4 1245.0 1459.4 1245.0 1460.4 1245.0 1461.4 1245.0 1462.4 1245.0 1463.4 1245.0 1464.4 1245.0 1465.4 1245.0 1466.4 1245.0 1467.4 1245.0 1468.4 1245.0 1469.4 1245.0 1470.4 1245.0 1471.0 1245.0 1471.0 1245.0 1470.4 1245.0 1469.4 1245.0 1468.4 1245.0 1467.4 1245.0 1466.4 1245.0 1465.4 1245.0 1464.4 1245.0 1463.4 1245.0 1462.4 1245.0 1461.4 1245.0 1460.4 1245.0 1459.4 1244.9 1458.4 1244.9 1457.4 1244.9 1456.4 1244.8 1455.4 1244.8 1454.4 1244.7 1453.4 1244.6 1452.4 1244.5 1451.4 1244.4 1450.4 1244.3 1449.4 1244.1 1448.4 1244.0 1447.4 1243.8 1446.4 1243.6 1445.4 1243.4 1444.4 1243.2 1443.4 1242.9 1442.4 1242.6 1441.4 1242.3 1440.4 1241.9 1439.4 1241.4 1438.4 1240.9 1437.4 1240.3 1436.4 1239.8 1435.4 1239.2 1434.4 1238.6 1433.4 1238.0 1432.4 1237.4 1431.4 1236.8 1430.4 1236.2 1429.4 1235.6 1428.4 1235.0 1427.4 1234.3 1426.4 1233.7 1425.4 1233.0 1424.4 1232.4 1423.4 1231.9 1422.4 1231.4 1421.4 1231.0 1420.4 1230.7 1419.4 1230.4 1418.4 1230.2 1417.4 1230.0 1416.4 1229.8 1415.4 1229.6 1414.4 1229.4 1413.4 1229.2 1412.4 1229.0 1411.4 1228.8 1410.4 1228.6 1409.4 1228.4 1408.4 1228.1 1407.4 1227.9 1406.4 1227.7 1405.4 1227.5 1404.4 1227.2 1403.4 1227.0 1402.4 1226.8 1401.4 1226.6 1400.4 1226.5 1399.4 1226.4 1398.4 1226.2 1397.4 1226.1 1396.4 1226.0 1395.4 1225.9 1394.4 1225.9 1393.4 1225.9 1392.4 1225.9 1391.4 1226.0 1390.4 1226.0 1389.4 1226.1 1388.4 1226.2 1387.4 1226.3 1386.4 1226.3 1385.4 1226.4 1384.4 1226.5 1383.4 1226.6 1382.4 1226.7 1381.4 1226.8 1380.4 1226.9 1379.4 1227.0 1378.4 1227.2 1377.4 1227.3 1376.4 1227.5 1375.4 1227.7 1374.4 1227.8 1373.4 1228.0 1372.4 1228.1 1371.4 1228.2 1370.4 1228.4 1369.4 1228.5 1368.4 1228.6 1367.4 1228.7 1366.4 1228.8 1365.4 1228.8 1364.4 1228.8 1363.4 1228.7 1362.4 1228.5 1361.4 1228.2 1360.4 1228.0 1359.4 1227.7 1358.4 1227.4 1357.4 1227.0 1356.4 1226.6 1355.4 1226.0 1354.4 1225.4 1353.4 1224.7 1352.4 1224.0 1351.4 1223.3 1350.4 1222.5 1349.4 1221.6 1348.4 1220.7 1347.4 1219.6 1346.4 1218.5 1345.4 1217.5 1344.4 1216.4 1343.4 1215.4 1342.4 1214.4 1341.4 1213.3 1340.4 1212.3 1339.4 1211.3 1338.4 1210.3 1337.4 1209.3 1336.4 1208.4 1335.4 1207.5 1334.4 1206.6 1333.4 1205.7 1332.4 1204.8 1331.4 1204.0 1330.4 1203.4 1329.4 1202.9 1328.4 1202.5 1327.4 1202.1 1326.4 1201.7 1325.4 1201.4 1324.4 1201.1 1323.4 1201.0 1322.4 1200.9 1321.4 1201.0 1320.4 1201.2 1319.4 1201.6 1318.4 1202.0 1317.4 1202.6 1316.4 1203.1 1315.4 1203.6 1314.4 1204.2 1313.4 1204.9 1312.4 1205.6 1311.4 1206.4 1310.4 1207.2 1309.4 1208.2 1308.4 1209.2 1307.4 1210.3 1306.4 1211.7 1305.4 1213.3 1304.4 1215.0 1303.4 1216.7 1302.4 1218.2 1301.4 1219.6 1300.4 1220.9 1299.4 1222.1 1298.4 1223.2 1297.4 1224.4 1296.4 1225.5 1295.4 1226.7 1294.4 1228.0 1293.4 1229.2 1292.4 1230.5 1291.4 1231.7 1290.4 1232.9 1289.4 1234.0 1288.4 1235.0 1287.4 1235.9 1286.4 1236.8 1285.4 1237.7 1284.4 1238.4 1283.4 1239.1 1282.4 1239.6 1281.4 1240.1 1280.4 1240.4 1279.4 1240.8 1278.4 1241.2 1277.4 1241.7 1276.4 1242.1 1275.4 1242.4 1274.4 1242.8 1273.4 1243.1 1272.4 1243.5 1271.4 1243.8 1270.4 1244.0 1269.4 1244.2 1268.4 1244.4 1267.4 1244.5 1266.4 1244.7 1265.4 1244.8 1264.4 1244.9 1263.4 1244.9 1262.4 1245.0 1261.4 1245.0 1260.4 1245.0 1259.4 1245.0 1258.4 1245.0 1257.4 1245.0 1256.4 1245.0 1255.4 1245.0 1254.4 1245.0 1253.4 1245.0 1252.4 1245.0 1251.4 1245.0 1250.4 1245.0 1249.4 1245.0 1248.4 1245.0 1247.4 1245.0 1246.4 1245.0 1245.4 1245.0 1244.4 1245.0 1243.4 1245.0 1242.4 1245.0 1241.4 1245.0 1240.4 1245.0 1239.4 1245.0 1238.4 1245.0 1237.4 1245.0 1236.4 1244.9 1235.4 1244.9 1234.4 1244.9 1233.4 1244.8 1232.4 1244.7 1231.4 1244.6 1230.4 1244.5 1229.4 1244.4 1228.4 1244.3 1227.4 1244.1 1226.4 1243.9 1225.4 1243.8 1224.4 1243.6 1223.4 1243.4 1222.4 1243.1 1221.4 1242.8 1220.4 1242.5 1219.4 1242.2 1218.4 1241.9 1217.4 1241.6 1216.4 1241.3 1215.4 1241.0 1214.4 1240.7 1213.4 1240.4 1212.4 1240.1 1211.4 1239.8 1210.4 1239.4 1209.4 1239.1 1208.4 1238.8 1207.4 1238.4 1206.4 1238.1 1205.4 1237.6 1204.4 1237.2 1203.4 1236.7 1202.4 1236.2 1201.4 1235.8 1200.4 1235.4 1199.4 1235.0 1198.4 1234.5 1197.4 1234.1 1196.4 1233.8 1195.4 1233.4 1194.4 1233.2 1193.4 1233.0 1192.4 1232.8 1191.4 1232.6 1190.4 1232.5 1189.4 1232.3 1188.4 1232.2 1187.4 1232.1 1186.4 1232.1 1185.4 1232.1 1184.4 1232.2 1183.4 1232.4 1182.4 1232.5 1181.4 1232.7 1180.4 1232.9 1179.4 1233.1 1178.4 1233.3 1177.4 1233.6 1176.4 1233.8 1175.4 1234.1 1174.4 1234.4 1173.4 1234.8 1172.4 1235.2 1171.4 1235.6 1170.4 1236.0 1169.4 1236.4 1168.4 1236.8 1167.4 1237.2 1166.4 1237.6 1165.4 1238.0 1164.4 1238.4 1163.4 1238.8 1162.4 1239.2 1161.4 1239.6 1160.4 1239.9 1159.4 1240.3 1158.4 1240.6 1157.4 1240.9 1156.4 1241.2 1155.4 1241.5 1154.4 1241.8 1153.4 1242.1 1152.4 1242.4 1151.4 1242.7 1150.4 1243.0 1149.4 1243.3 1148.4 1243.5 1147.4 1243.7 1146.4 1243.9 1145.4 1244.1 1144.4 1244.3 1143.4 1244.4 1142.4 1244.5 1141.4 1244.5 1140.4 1244.6 1139.4 1244.6 1138.4 1244.7 1137.4 1244.7 1136.4 1244.7 1135.4 1244.8 1134.4 1244.8 1133.4 1244.8 1132.4 1244.8 1131.4 1244.8 1130.4 1244.9 1129.4 1244.9 1128.4 1244.9 1127.4 1244.9 1126.4 1245.0 1125.4 1245.0 1124.4 1245.0 1123.4Z" fill="none" stroke="#000" stroke-width="7.6" stroke-linejoin="round" stroke-linecap="round"/>
<text transform="translate(1099.60 1634.00)" font-family="'Liberation Sans', Arial, sans-serif" font-size="39.5" font-weight="bold" text-anchor="middle" >GG</text>
<text transform="translate(1245.00 1634.00)" font-family="'Liberation Sans', Arial, sans-serif" font-size="39.5" font-weight="bold" text-anchor="middle" >GC</text>
<line x1="1088.4" y1="1079.0" x2="1261.4" y2="1079.0" stroke="#000" stroke-width="3.3" />
<text transform="translate(1172.50 1088.10) scale(0.850 1)" font-family="'Liberation Serif', 'Times New Roman', serif" font-size="81" text-anchor="middle" >*</text>
<text transform="translate(892.00 1317.50) rotate(-90) scale(0.885 1)" font-family="'Liberation Sans', Arial, sans-serif" font-size="46.5" font-weight="bold" text-anchor="middle" >PASI score</text>
<line x1="219.6" y1="1797.5" x2="219.6" y2="2289.9" stroke="#000" stroke-width="5.1" />
<line x1="199.0" y1="2287.3" x2="547.0" y2="2287.3" stroke="#000" stroke-width="5.1" />
<line x1="199.0" y1="1800.1" x2="219.6" y2="1800.1" stroke="#000" stroke-width="5.1" />
<text transform="translate(194.80 1813.96) scale(0.975 1)" font-family="'Liberation Sans', Arial, sans-serif" font-size="38.5" font-weight="bold" text-anchor="end" >20000</text>
<line x1="199.0" y1="1921.8" x2="219.6" y2="1921.8" stroke="#000" stroke-width="5.1" />
<text transform="translate(194.80 1935.68) scale(0.975 1)" font-family="'Liberation Sans', Arial, sans-serif" font-size="38.5" font-weight="bold" text-anchor="end" >15000</text>
<line x1="199.0" y1="2043.5" x2="219.6" y2="2043.5" stroke="#000" stroke-width="5.1" />
<text transform="translate(194.80 2057.41) scale(0.975 1)" font-family="'Liberation Sans', Arial, sans-serif" font-size="38.5" font-weight="bold" text-anchor="end" >10000</text>
<line x1="199.0" y1="2165.3" x2="219.6" y2="2165.3" stroke="#000" stroke-width="5.1" />
<text transform="translate(194.80 2179.14) scale(0.975 1)" font-family="'Liberation Sans', Arial, sans-serif" font-size="38.5" font-weight="bold" text-anchor="end" >5000</text>
<line x1="199.0" y1="2287.0" x2="219.6" y2="2287.0" stroke="#000" stroke-width="5.1" />
<text transform="translate(194.80 2300.86) scale(0.975 1)" font-family="'Liberation Sans', Arial, sans-serif" font-size="38.5" font-weight="bold" text-anchor="end" >0</text>
<line x1="311.8" y1="2287.3" x2="311.8" y2="2307.8" stroke="#000" stroke-width="5.1" />
<line x1="451.2" y1="2287.3" x2="451.2" y2="2307.8" stroke="#000" stroke-width="5.1" />
<path d="M312.5 1854.8 312.5 1855.8 312.5 1856.8 312.5 1857.8 312.5 1858.8 312.5 1859.8 312.5 1860.8 312.5 1861.8 312.5 1862.8 312.5 1863.8 312.5 1864.8 312.5 1865.8 312.5 1866.8 312.5 1867.8 312.5 1868.8 312.5 1869.8 312.6 1870.8 312.6 1871.8 312.6 1872.8 312.6 1873.8 312.7 1874.8 312.7 1875.8 312.7 1876.8 312.8 1877.8 312.8 1878.8 312.9 1879.8 312.9 1880.8 313.0 1881.8 313.0 1882.8 313.1 1883.8 313.1 1884.8 313.2 1885.8 313.3 1886.8 313.4 1887.8 313.5 1888.8 313.6 1889.8 313.8 1890.8 313.9 1891.8 314.1 1892.8 314.3 1893.8 314.5 1894.8 314.6 1895.8 314.8 1896.8 315.0 1897.8 315.2 1898.8 315.4 1899.8 315.6 1900.8 315.8 1901.8 316.0 1902.8 316.2 1903.8 316.3 1904.8 316.4 1905.8 316.6 1906.8 316.7 1907.8 316.9 1908.8 317.1 1909.8 317.4 1910.8 317.7 1911.8 318.0 1912.8 318.3 1913.8 318.7 1914.8 319.0 1915.8 319.3 1916.8 319.6 1917.8 319.8 1918.8 320.1 1919.8 320.4 1920.8 320.6 1921.8 320.8 1922.8 321.0 1923.8 321.2 1924.8 321.4 1925.8 321.6 1926.8 321.7 1927.8 321.9 1928.8 322.1 1929.8 322.2 1930.8 322.3 1931.8 322.5 1932.8 322.6 1933.8 322.7 1934.8 322.9 1935.8 323.0 1936.8 323.1 1937.8 323.2 1938.8 323.3 1939.8 323.4 1940.8 323.5 1941.8 323.6 1942.8 323.7 1943.8 323.8 1944.8 323.9 1945.8 323.9 1946.8 324.0 1947.8 324.1 1948.8 324.1 1949.8 324.2 1950.8 324.2 1951.8 324.2 1952.8 324.2 1953.8 324.2 1954.8 324.1 1955.8 324.1 1956.8 324.1 1957.8 324.0 1958.8 324.0 1959.8 324.0 1960.8 323.9 1961.8 323.9 1962.8 323.8 1963.8 323.8 1964.8 323.7 1965.8 323.6 1966.8 323.5 1967.8 323.4 1968.8 323.3 1969.8 323.2 1970.8 323.1 1971.8 322.9 1972.8 322.8 1973.8 322.6 1974.8 322.5 1975.8 322.3 1976.8 322.1 1977.8 322.0 1978.8 321.7 1979.8 321.5 1980.8 321.2 1981.8 321.0 1982.8 320.7 1983.8 320.4 1984.8 320.2 1985.8 319.9 1986.8 319.7 1987.8 319.4 1988.8 319.2 1989.8 318.9 1990.8 318.7 1991.8 318.4 1992.8 318.1 1993.8 317.9 1994.8 317.6 1995.8 317.2 1996.8 316.9 1997.8 316.6 1998.8 316.4 1999.8 316.1 2000.8 315.8 2001.8 315.5 2002.8 315.3 2003.8 315.0 2004.8 314.8 2005.8 314.6 2006.8 314.4 2007.8 314.2 2008.8 314.0 2009.8 313.9 2010.8 313.7 2011.8 313.6 2012.8 313.5 2013.8 313.3 2014.8 313.2 2015.8 313.1 2016.8 313.0 2017.8 312.9 2018.8 312.8 2019.8 312.7 2020.8 312.7 2021.8 312.6 2022.8 312.6 2023.8 312.6 2024.8 312.5 2025.8 312.5 2026.8 312.5 2027.8 312.5 2028.8 312.5 2029.8 312.5 2030.8 312.5 2031.8 312.5 2032.8 312.5 2033.8 312.5 2034.8 312.5 2035.8 312.5 2036.8 312.5 2037.8 312.5 2038.8 312.5 2039.8 312.5 2040.8 312.5 2041.8 312.5 2042.8 312.5 2043.8 312.5 2044.8 312.5 2045.8 312.5 2046.8 312.5 2047.8 312.5 2048.8 312.5 2049.8 312.5 2050.8 312.6 2051.8 312.7 2052.8 312.8 2053.8 312.9 2054.8 313.0 2055.8 313.1 2056.8 313.2 2057.8 313.3 2058.8 313.4 2059.8 313.6 2060.8 313.7 2061.8 313.9 2062.8 314.2 2063.8 314.4 2064.8 314.7 2065.8 315.0 2066.8 315.4 2067.8 315.7 2068.8 316.1 2069.8 316.5 2070.8 316.9 2071.8 317.4 2072.8 317.9 2073.8 318.4 2074.8 318.9 2075.8 319.4 2076.8 320.0 2077.8 320.6 2078.8 321.2 2079.8 321.8 2080.8 322.5 2081.8 323.2 2082.8 324.0 2083.8 324.8 2084.8 325.6 2085.8 326.6 2086.8 327.5 2087.8 328.5 2088.8 329.4 2089.8 330.3 2090.8 331.2 2091.8 332.0 2092.8 332.8 2093.8 333.7 2094.8 334.5 2095.8 335.4 2096.8 336.2 2097.8 337.1 2098.8 338.0 2099.8 338.8 2100.8 339.7 2101.8 340.6 2102.8 341.4 2103.8 342.2 2104.8 343.0 2105.8 343.8 2106.8 344.5 2107.8 345.2 2108.8 345.9 2109.8 346.5 2110.8 347.2 2111.8 347.8 2112.8 348.4 2113.8 349.0 2114.8 349.6 2115.8 350.2 2116.8 350.7 2117.8 351.1 2118.8 351.5 2119.8 351.8 2120.8 352.1 2121.8 352.4 2122.8 352.6 2123.8 352.8 2124.8 353.0 2125.8 353.1 2126.8 353.3 2127.8 353.4 2128.8 353.5 2129.8 353.7 2130.8 353.7 2131.8 353.8 2132.8 353.8 2133.8 353.8 2134.8 353.8 2135.8 353.7 2136.8 353.7 2137.8 353.6 2138.8 353.6 2139.8 353.5 2140.8 353.4 2141.8 353.2 2142.8 353.0 2143.8 352.8 2144.8 352.5 2145.8 352.3 2146.8 352.0 2147.8 351.8 2148.8 351.6 2149.8 351.4 2150.8 351.1 2151.8 350.9 2152.8 350.7 2153.8 350.4 2154.8 350.1 2155.8 349.8 2156.8 349.4 2157.8 349.0 2158.8 348.6 2159.8 348.2 2160.8 347.8 2161.8 347.4 2162.8 346.9 2163.8 346.5 2164.8 346.0 2165.8 345.6 2166.8 345.1 2167.8 344.6 2168.8 344.0 2169.8 343.5 2170.8 342.9 2171.8 342.2 2172.8 341.5 2173.8 340.7 2174.8 339.9 2175.8 339.1 2176.8 338.3 2177.8 337.5 2178.8 336.7 2179.8 335.9 2180.8 335.1 2181.8 334.2 2182.8 333.4 2183.8 332.5 2184.8 331.6 2185.8 330.7 2186.8 329.8 2187.8 328.9 2188.8 327.9 2189.8 327.0 2190.8 326.1 2191.8 325.3 2192.8 324.5 2193.8 323.7 2194.8 322.9 2195.8 322.1 2196.8 321.4 2197.8 320.7 2198.8 320.0 2199.8 319.4 2200.8 318.7 2201.8 318.1 2202.8 317.5 2203.8 317.0 2204.8 316.5 2205.8 316.0 2206.8 315.7 2207.8 315.4 2208.8 315.1 2209.8 314.9 2210.8 314.7 2211.8 314.5 2212.8 314.3 2213.8 314.1 2214.8 313.9 2215.8 313.8 2216.8 313.6 2217.8 313.4 2218.8 313.3 2219.8 313.2 2220.8 313.1 2221.8 313.0 2222.8 312.8 2223.8 312.7 2224.8 312.6 2225.8 312.6 2226.8 312.5 2227.8 312.5 2228.8 312.5 2229.8 312.5 2230.8 312.5 2231.8 312.5 2232.8 312.5 2233.8 312.5 2234.8 312.5 2235.8 312.5 2236.8 312.5 2237.8 312.5 2238.8 312.5 2239.8 312.5 2240.8 312.5 2241.8 312.5 2242.8 312.5 2243.8 312.5 2244.8 312.5 2245.3 312.5 2245.3 312.5 2244.8 312.5 2243.8 312.5 2242.8 312.5 2241.8 312.5 2240.8 312.5 2239.8 312.5 2238.8 312.5 2237.8 312.5 2236.8 312.5 2235.8 312.5 2234.8 312.5 2233.8 312.5 2232.8 312.5 2231.8 312.5 2230.8 312.5 2229.8 312.5 2228.8 312.5 2227.8 312.4 2226.8 312.4 2225.8 312.3 2224.8 312.2 2223.8 312.0 2222.8 311.9 2221.8 311.8 2220.8 311.7 2219.8 311.6 2218.8 311.4 2217.8 311.2 2216.8 311.1 2215.8 310.9 2214.8 310.7 2213.8 310.5 2212.8 310.3 2211.8 310.1 2210.8 309.9 2209.8 309.6 2208.8 309.3 2207.8 309.0 2206.8 308.5 2205.8 308.0 2204.8 307.5 2203.8 306.9 2202.8 306.3 2201.8 305.6 2200.8 305.0 2199.8 304.3 2198.8 303.6 2197.8 302.9 2196.8 302.1 2195.8 301.3 2194.8 300.5 2193.8 299.7 2192.8 298.9 2191.8 298.0 2190.8 297.1 2189.8 296.1 2188.8 295.2 2187.8 294.3 2186.8 293.4 2185.8 292.5 2184.8 291.6 2183.8 290.8 2182.8 289.9 2181.8 289.1 2180.8 288.3 2179.8 287.5 2178.8 286.7 2177.8 285.9 2176.8 285.1 2175.8 284.3 2174.8 283.5 2173.8 282.8 2172.8 282.1 2171.8 281.5 2170.8 281.0 2169.8 280.4 2168.8 279.9 2167.8 279.4 2166.8 279.0 2165.8 278.5 2164.8 278.1 2163.8 277.6 2162.8 277.2 2161.8 276.8 2160.8 276.4 2159.8 276.0 2158.8 275.6 2157.8 275.2 2156.8 274.9 2155.8 274.6 2154.8 274.3 2153.8 274.1 2152.8 273.9 2151.8 273.6 2150.8 273.4 2149.8 273.2 2148.8 273.0 2147.8 272.7 2146.8 272.5 2145.8 272.2 2144.8 272.0 2143.8 271.8 2142.8 271.6 2141.8 271.5 2140.8 271.4 2139.8 271.4 2138.8 271.3 2137.8 271.3 2136.8 271.2 2135.8 271.2 2134.8 271.2 2133.8 271.2 2132.8 271.3 2131.8 271.3 2130.8 271.5 2129.8 271.6 2128.8 271.7 2127.8 271.9 2126.8 272.0 2125.8 272.2 2124.8 272.4 2123.8 272.6 2122.8 272.9 2121.8 273.2 2120.8 273.5 2119.8 273.9 2118.8 274.3 2117.8 274.8 2116.8 275.4 2115.8 276.0 2114.8 276.6 2113.8 277.2 2112.8 277.8 2111.8 278.5 2110.8 279.1 2109.8 279.8 2108.8 280.5 2107.8 281.2 2106.8 282.0 2105.8 282.8 2104.8 283.6 2103.8 284.4 2102.8 285.3 2101.8 286.2 2100.8 287.0 2099.8 287.9 2098.8 288.8 2097.8 289.6 2096.8 290.5 2095.8 291.3 2094.8 292.2 2093.8 293.0 2092.8 293.8 2091.8 294.7 2090.8 295.6 2089.8 296.5 2088.8 297.5 2087.8 298.4 2086.8 299.4 2085.8 300.2 2084.8 301.0 2083.8 301.8 2082.8 302.5 2081.8 303.2 2080.8 303.8 2079.8 304.4 2078.8 305.0 2077.8 305.6 2076.8 306.1 2075.8 306.6 2074.8 307.1 2073.8 307.6 2072.8 308.1 2071.8 308.5 2070.8 308.9 2069.8 309.3 2068.8 309.6 2067.8 310.0 2066.8 310.3 2065.8 310.6 2064.8 310.8 2063.8 311.1 2062.8 311.3 2061.8 311.4 2060.8 311.6 2059.8 311.7 2058.8 311.8 2057.8 311.9 2056.8 312.0 2055.8 312.1 2054.8 312.2 2053.8 312.3 2052.8 312.4 2051.8 312.5 2050.8 312.5 2049.8 312.5 2048.8 312.5 2047.8 312.5 2046.8 312.5 2045.8 312.5 2044.8 312.5 2043.8 312.5 2042.8 312.5 2041.8 312.5 2040.8 312.5 2039.8 312.5 2038.8 312.5 2037.8 312.5 2036.8 312.5 2035.8 312.5 2034.8 312.5 2033.8 312.5 2032.8 312.5 2031.8 312.5 2030.8 312.5 2029.8 312.5 2028.8 312.5 2027.8 312.5 2026.8 312.5 2025.8 312.4 2024.8 312.4 2023.8 312.4 2022.8 312.3 2021.8 312.3 2020.8 312.2 2019.8 312.1 2018.8 312.0 2017.8 311.9 2016.8 311.8 2015.8 311.7 2014.8 311.5 2013.8 311.4 2012.8 311.3 2011.8 311.1 2010.8 311.0 2009.8 310.8 2008.8 310.6 2007.8 310.4 2006.8 310.2 2005.8 310.0 2004.8 309.7 2003.8 309.5 2002.8 309.2 2001.8 308.9 2000.8 308.6 1999.8 308.4 1998.8 308.1 1997.8 307.8 1996.8 307.4 1995.8 307.1 1994.8 306.9 1993.8 306.6 1992.8 306.3 1991.8 306.1 1990.8 305.8 1989.8 305.6 1988.8 305.3 1987.8 305.1 1986.8 304.8 1985.8 304.6 1984.8 304.3 1983.8 304.0 1982.8 303.8 1981.8 303.5 1980.8 303.3 1979.8 303.0 1978.8 302.9 1977.8 302.7 1976.8 302.5 1975.8 302.4 1974.8 302.2 1973.8 302.1 1972.8 301.9 1971.8 301.8 1970.8 301.7 1969.8 301.6 1968.8 301.5 1967.8 301.4 1966.8 301.3 1965.8 301.2 1964.8 301.2 1963.8 301.1 1962.8 301.1 1961.8 301.0 1960.8 301.0 1959.8 301.0 1958.8 300.9 1957.8 300.9 1956.8 300.9 1955.8 300.8 1954.8 300.8 1953.8 300.8 1952.8 300.8 1951.8 300.8 1950.8 300.9 1949.8 300.9 1948.8 301.0 1947.8 301.1 1946.8 301.1 1945.8 301.2 1944.8 301.3 1943.8 301.4 1942.8 301.5 1941.8 301.6 1940.8 301.7 1939.8 301.8 1938.8 301.9 1937.8 302.0 1936.8 302.1 1935.8 302.3 1934.8 302.4 1933.8 302.5 1932.8 302.7 1931.8 302.8 1930.8 302.9 1929.8 303.1 1928.8 303.3 1927.8 303.4 1926.8 303.6 1925.8 303.8 1924.8 304.0 1923.8 304.2 1922.8 304.4 1921.8 304.6 1920.8 304.9 1919.8 305.2 1918.8 305.4 1917.8 305.7 1916.8 306.0 1915.8 306.3 1914.8 306.7 1913.8 307.0 1912.8 307.3 1911.8 307.6 1910.8 307.9 1909.8 308.1 1908.8 308.3 1907.8 308.4 1906.8 308.6 1905.8 308.7 1904.8 308.8 1903.8 309.0 1902.8 309.2 1901.8 309.4 1900.8 309.6 1899.8 309.8 1898.8 310.0 1897.8 310.2 1896.8 310.4 1895.8 310.5 1894.8 310.7 1893.8 310.9 1892.8 311.1 1891.8 311.2 1890.8 311.4 1889.8 311.5 1888.8 311.6 1887.8 311.7 1886.8 311.8 1885.8 311.9 1884.8 311.9 1883.8 312.0 1882.8 312.0 1881.8 312.1 1880.8 312.1 1879.8 312.2 1878.8 312.2 1877.8 312.3 1876.8 312.3 1875.8 312.3 1874.8 312.4 1873.8 312.4 1872.8 312.4 1871.8 312.4 1870.8 312.5 1869.8 312.5 1868.8 312.5 1867.8 312.5 1866.8 312.5 1865.8 312.5 1864.8 312.5 1863.8 312.5 1862.8 312.5 1861.8 312.5 1860.8 312.5 1859.8 312.5 1858.8 312.5 1857.8 312.5 1856.8 312.5 1855.8 312.5 1854.8Z" fill="#7f7f7f"/>
<path d="M451.6 1992.6 451.6 1993.6 451.6 1994.6 451.6 1995.6 451.6 1996.6 451.6 1997.6 451.6 1998.6 451.6 1999.6 451.6 2000.6 451.6 2001.6 451.7 2002.6 451.7 2003.6 451.8 2004.6 451.8 2005.6 451.9 2006.6 452.0 2007.6 452.2 2008.6 452.3 2009.6 452.6 2010.6 452.8 2011.6 453.0 2012.6 453.3 2013.6 453.6 2014.6 453.9 2015.6 454.3 2016.6 454.7 2017.6 455.2 2018.6 455.6 2019.6 456.1 2020.6 456.7 2021.6 457.3 2022.6 458.0 2023.6 458.8 2024.6 459.5 2025.6 460.4 2026.6 461.2 2027.6 462.2 2028.6 463.2 2029.6 464.3 2030.6 465.4 2031.6 466.6 2032.6 467.8 2033.6 469.0 2034.6 470.1 2035.6 471.2 2036.6 472.3 2037.6 473.4 2038.6 474.5 2039.6 475.5 2040.6 476.6 2041.6 477.7 2042.6 478.9 2043.6 480.0 2044.6 481.1 2045.6 482.3 2046.6 483.3 2047.6 484.4 2048.6 485.4 2049.6 486.4 2050.6 487.3 2051.6 488.3 2052.6 489.2 2053.6 490.0 2054.6 490.8 2055.6 491.6 2056.6 492.4 2057.6 493.1 2058.6 493.6 2059.6 493.7 2060.6 493.4 2061.6 493.0 2062.6 492.6 2063.6 492.2 2064.6 491.6 2065.6 491.0 2066.6 490.4 2067.6 489.7 2068.6 488.9 2069.6 488.2 2070.6 487.3 2071.6 486.4 2072.6 485.4 2073.6 484.4 2074.6 483.3 2075.6 482.2 2076.6 481.1 2077.6 480.1 2078.6 479.0 2079.6 478.0 2080.6 477.0 2081.6 475.9 2082.6 474.8 2083.6 473.6 2084.6 472.4 2085.6 470.9 2086.6 469.4 2087.6 467.9 2088.6 466.6 2089.6 465.6 2090.6 464.6 2091.6 463.7 2092.6 462.8 2093.6 462.1 2094.6 461.4 2095.6 461.0 2096.6 460.7 2097.6 460.4 2098.6 460.2 2099.6 460.1 2100.6 460.1 2101.6 460.2 2102.6 460.4 2103.6 460.6 2104.6 460.8 2105.6 461.2 2106.6 461.7 2107.6 462.2 2108.6 462.7 2109.6 463.3 2110.6 463.8 2111.6 464.4 2112.6 465.0 2113.6 465.6 2114.6 466.3 2115.6 467.0 2116.6 467.6 2117.6 468.3 2118.6 469.0 2119.6 469.6 2120.6 470.3 2121.6 471.0 2122.6 471.7 2123.6 472.3 2124.6 472.9 2125.6 473.5 2126.6 474.1 2127.6 474.7 2128.6 475.3 2129.6 475.9 2130.6 476.3 2131.6 476.8 2132.6 477.2 2133.6 477.5 2134.6 477.9 2135.6 478.2 2136.6 478.5 2137.6 478.7 2138.6 478.9 2139.6 479.1 2140.6 479.2 2141.6 479.3 2142.6 479.4 2143.6 479.4 2144.6 479.3 2145.6 479.1 2146.6 478.9 2147.6 478.7 2148.6 478.5 2149.6 478.3 2150.6 478.1 2151.6 477.8 2152.6 477.5 2153.6 477.2 2154.6 476.8 2155.6 476.4 2156.6 475.9 2157.6 475.4 2158.6 474.9 2159.6 474.4 2160.6 474.0 2161.6 473.5 2162.6 473.0 2163.6 472.6 2164.6 472.1 2165.6 471.7 2166.6 471.2 2167.6 470.8 2168.6 470.4 2169.6 470.0 2170.6 469.6 2171.6 469.2 2172.6 468.8 2173.6 468.4 2174.6 468.1 2175.6 467.7 2176.6 467.4 2177.6 467.1 2178.6 466.8 2179.6 466.5 2180.6 466.2 2181.6 465.9 2182.6 465.6 2183.6 465.3 2184.6 465.0 2185.6 464.7 2186.6 464.4 2187.6 464.0 2188.6 463.7 2189.6 463.4 2190.6 463.0 2191.6 462.7 2192.6 462.3 2193.6 461.9 2194.6 461.5 2195.6 461.1 2196.6 460.7 2197.6 460.2 2198.6 459.7 2199.6 459.3 2200.6 458.8 2201.6 458.3 2202.6 457.9 2203.6 457.6 2204.6 457.2 2205.6 456.9 2206.6 456.5 2207.6 456.2 2208.6 455.9 2209.6 455.5 2210.6 455.1 2211.6 454.7 2212.6 454.3 2213.6 454.0 2214.6 453.8 2215.6 453.6 2216.6 453.4 2217.6 453.2 2218.6 453.0 2219.6 452.9 2220.6 452.7 2221.6 452.5 2222.6 452.3 2223.6 452.2 2224.6 452.0 2225.6 451.9 2226.6 451.8 2227.6 451.8 2228.6 451.7 2229.6 451.6 2230.6 451.6 2231.6 451.6 2232.6 451.6 2233.6 451.6 2234.6 451.6 2235.6 451.6 2236.6 451.6 2237.6 451.6 2238.6 451.6 2239.6 451.6 2240.6 451.6 2241.6 451.6 2242.6 451.6 2243.6 451.6 2244.6 451.6 2245.6 451.6 2246.6 451.6 2247.6 451.6 2248.6 451.6 2249.6 451.6 2250.6 451.6 2251.2 451.6 2251.2 451.6 2250.6 451.6 2249.6 451.6 2248.6 451.6 2247.6 451.6 2246.6 451.6 2245.6 451.6 2244.6 451.6 2243.6 451.6 2242.6 451.6 2241.6 451.6 2240.6 451.6 2239.6 451.6 2238.6 451.6 2237.6 451.6 2236.6 451.6 2235.6 451.6 2234.6 451.6 2233.6 451.6 2232.6 451.6 2231.6 451.6 2230.6 451.5 2229.6 451.4 2228.6 451.4 2227.6 451.3 2226.6 451.2 2225.6 451.0 2224.6 450.9 2223.6 450.7 2222.6 450.5 2221.6 450.3 2220.6 450.2 2219.6 450.0 2218.6 449.8 2217.6 449.6 2216.6 449.4 2215.6 449.2 2214.6 448.9 2213.6 448.5 2212.6 448.1 2211.6 447.7 2210.6 447.3 2209.6 447.0 2208.6 446.7 2207.6 446.3 2206.6 446.0 2205.6 445.6 2204.6 445.3 2203.6 444.9 2202.6 444.4 2201.6 443.9 2200.6 443.5 2199.6 443.0 2198.6 442.5 2197.6 442.1 2196.6 441.7 2195.6 441.3 2194.6 440.9 2193.6 440.5 2192.6 440.2 2191.6 439.8 2190.6 439.5 2189.6 439.2 2188.6 438.8 2187.6 438.5 2186.6 438.2 2185.6 437.9 2184.6 437.6 2183.6 437.3 2182.6 437.0 2181.6 436.7 2180.6 436.4 2179.6 436.1 2178.6 435.8 2177.6 435.5 2176.6 435.1 2175.6 434.8 2174.6 434.4 2173.6 434.0 2172.6 433.6 2171.6 433.2 2170.6 432.8 2169.6 432.4 2168.6 432.0 2167.6 431.5 2166.6 431.1 2165.6 430.6 2164.6 430.2 2163.6 429.7 2162.6 429.2 2161.6 428.8 2160.6 428.3 2159.6 427.8 2158.6 427.3 2157.6 426.8 2156.6 426.4 2155.6 426.0 2154.6 425.7 2153.6 425.4 2152.6 425.1 2151.6 424.9 2150.6 424.7 2149.6 424.5 2148.6 424.3 2147.6 424.1 2146.6 423.9 2145.6 423.8 2144.6 423.8 2143.6 423.9 2142.6 424.0 2141.6 424.1 2140.6 424.3 2139.6 424.5 2138.6 424.7 2137.6 425.0 2136.6 425.3 2135.6 425.7 2134.6 426.0 2133.6 426.4 2132.6 426.9 2131.6 427.3 2130.6 427.9 2129.6 428.5 2128.6 429.1 2127.6 429.7 2126.6 430.3 2125.6 430.9 2124.6 431.5 2123.6 432.2 2122.6 432.9 2121.6 433.6 2120.6 434.2 2119.6 434.9 2118.6 435.6 2117.6 436.2 2116.6 436.9 2115.6 437.6 2114.6 438.2 2113.6 438.8 2112.6 439.4 2111.6 439.9 2110.6 440.5 2109.6 441.0 2108.6 441.5 2107.6 442.0 2106.6 442.4 2105.6 442.6 2104.6 442.8 2103.6 443.0 2102.6 443.1 2101.6 443.1 2100.6 443.0 2099.6 442.8 2098.6 442.5 2097.6 442.2 2096.6 441.8 2095.6 441.1 2094.6 440.4 2093.6 439.5 2092.6 438.6 2091.6 437.6 2090.6 436.6 2089.6 435.3 2088.6 433.8 2087.6 432.3 2086.6 430.8 2085.6 429.6 2084.6 428.4 2083.6 427.3 2082.6 426.2 2081.6 425.2 2080.6 424.2 2079.6 423.1 2078.6 422.1 2077.6 421.0 2076.6 419.9 2075.6 418.8 2074.6 417.8 2073.6 416.8 2072.6 415.9 2071.6 415.0 2070.6 414.3 2069.6 413.5 2068.6 412.8 2067.6 412.2 2066.6 411.6 2065.6 411.0 2064.6 410.6 2063.6 410.2 2062.6 409.8 2061.6 409.5 2060.6 409.6 2059.6 410.1 2058.6 410.8 2057.6 411.6 2056.6 412.4 2055.6 413.2 2054.6 414.0 2053.6 414.9 2052.6 415.9 2051.6 416.8 2050.6 417.8 2049.6 418.8 2048.6 419.9 2047.6 420.9 2046.6 422.1 2045.6 423.2 2044.6 424.3 2043.6 425.5 2042.6 426.6 2041.6 427.7 2040.6 428.7 2039.6 429.8 2038.6 430.9 2037.6 432.0 2036.6 433.1 2035.6 434.2 2034.6 435.4 2033.6 436.6 2032.6 437.8 2031.6 438.9 2030.6 440.0 2029.6 441.0 2028.6 442.0 2027.6 442.8 2026.6 443.7 2025.6 444.4 2024.6 445.2 2023.6 445.9 2022.6 446.5 2021.6 447.1 2020.6 447.6 2019.6 448.0 2018.6 448.5 2017.6 448.9 2016.6 449.3 2015.6 449.6 2014.6 449.9 2013.6 450.2 2012.6 450.4 2011.6 450.6 2010.6 450.9 2009.6 451.0 2008.6 451.2 2007.6 451.3 2006.6 451.4 2005.6 451.4 2004.6 451.5 2003.6 451.5 2002.6 451.6 2001.6 451.6 2000.6 451.6 1999.6 451.6 1998.6 451.6 1997.6 451.6 1996.6 451.6 1995.6 451.6 1994.6 451.6 1993.6 451.6 1992.6Z" fill="#a1a0a5"/>
<line x1="273.9" y1="2126.5" x2="351.1" y2="2126.5" stroke="#000" stroke-width="2.8" stroke-dasharray="7 5.7"/>
<line x1="285.9" y1="2161.9" x2="339.11" y2="2161.9" stroke="#000" stroke-width="2.6" stroke-linecap="round" stroke-dasharray="0 7.6"/>
<path d="M312.5 1854.8 312.5 1855.8 312.5 1856.8 312.5 1857.8 312.5 1858.8 312.5 1859.8 312.5 1860.8 312.5 1861.8 312.5 1862.8 312.5 1863.8 312.5 1864.8 312.5 1865.8 312.5 1866.8 312.5 1867.8 312.5 1868.8 312.5 1869.8 312.6 1870.8 312.6 1871.8 312.6 1872.8 312.6 1873.8 312.7 1874.8 312.7 1875.8 312.7 1876.8 312.8 1877.8 312.8 1878.8 312.9 1879.8 312.9 1880.8 313.0 1881.8 313.0 1882.8 313.1 1883.8 313.1 1884.8 313.2 1885.8 313.3 1886.8 313.4 1887.8 313.5 1888.8 313.6 1889.8 313.8 1890.8 313.9 1891.8 314.1 1892.8 314.3 1893.8 314.5 1894.8 314.6 1895.8 314.8 1896.8 315.0 1897.8 315.2 1898.8 315.4 1899.8 315.6 1900.8 315.8 1901.8 316.0 1902.8 316.2 1903.8 316.3 1904.8 316.4 1905.8 316.6 1906.8 316.7 1907.8 316.9 1908.8 317.1 1909.8 317.4 1910.8 317.7 1911.8 318.0 1912.8 318.3 1913.8 318.7 1914.8 319.0 1915.8 319.3 1916.8 319.6 1917.8 319.8 1918.8 320.1 1919.8 320.4 1920.8 320.6 1921.8 320.8 1922.8 321.0 1923.8 321.2 1924.8 321.4 1925.8 321.6 1926.8 321.7 1927.8 321.9 1928.8 322.1 1929.8 322.2 1930.8 322.3 1931.8 322.5 1932.8 322.6 1933.8 322.7 1934.8 322.9 1935.8 323.0 1936.8 323.1 1937.8 323.2 1938.8 323.3 1939.8 323.4 1940.8 323.5 1941.8 323.6 1942.8 323.7 1943.8 323.8 1944.8 323.9 1945.8 323.9 1946.8 324.0 1947.8 324.1 1948.8 324.1 1949.8 324.2 1950.8 324.2 1951.8 324.2 1952.8 324.2 1953.8 324.2 1954.8 324.1 1955.8 324.1 1956.8 324.1 1957.8 324.0 1958.8 324.0 1959.8 324.0 1960.8 323.9 1961.8 323.9 1962.8 323.8 1963.8 323.8 1964.8 323.7 1965.8 323.6 1966.8 323.5 1967.8 323.4 1968.8 323.3 1969.8 323.2 1970.8 323.1 1971.8 322.9 1972.8 322.8 1973.8 322.6 1974.8 322.5 1975.8 322.3 1976.8 322.1 1977.8 322.0 1978.8 321.7 1979.8 321.5 1980.8 321.2 1981.8 321.0 1982.8 320.7 1983.8 320.4 1984.8 320.2 1985.8 319.9 1986.8 319.7 1987.8 319.4 1988.8 319.2 1989.8 318.9 1990.8 318.7 1991.8 318.4 1992.8 318.1 1993.8 317.9 1994.8 317.6 1995.8 317.2 1996.8 316.9 1997.8 316.6 1998.8 316.4 1999.8 316.1 2000.8 315.8 2001.8 315.5 2002.8 315.3 2003.8 315.0 2004.8 314.8 2005.8 314.6 2006.8 314.4 2007.8 314.2 2008.8 314.0 2009.8 313.9 2010.8 313.7 2011.8 313.6 2012.8 313.5 2013.8 313.3 2014.8 313.2 2015.8 313.1 2016.8 313.0 2017.8 312.9 2018.8 312.8 2019.8 312.7 2020.8 312.7 2021.8 312.6 2022.8 312.6 2023.8 312.6 2024.8 312.5 2025.8 312.5 2026.8 312.5 2027.8 312.5 2028.8 312.5 2029.8 312.5 2030.8 312.5 2031.8 312.5 2032.8 312.5 2033.8 312.5 2034.8 312.5 2035.8 312.5 2036.8 312.5 2037.8 312.5 2038.8 312.5 2039.8 312.5 2040.8 312.5 2041.8 312.5 2042.8 312.5 2043.8 312.5 2044.8 312.5 2045.8 312.5 2046.8 312.5 2047.8 312.5 2048.8 312.5 2049.8 312.5 2050.8 312.6 2051.8 312.7 2052.8 312.8 2053.8 312.9 2054.8 313.0 2055.8 313.1 2056.8 313.2 2057.8 313.3 2058.8 313.4 2059.8 313.6 2060.8 313.7 2061.8 313.9 2062.8 314.2 2063.8 314.4 2064.8 314.7 2065.8 315.0 2066.8 315.4 2067.8 315.7 2068.8 316.1 2069.8 316.5 2070.8 316.9 2071.8 317.4 2072.8 317.9 2073.8 318.4 2074.8 318.9 2075.8 319.4 2076.8 320.0 2077.8 320.6 2078.8 321.2 2079.8 321.8 2080.8 322.5 2081.8 323.2 2082.8 324.0 2083.8 324.8 2084.8 325.6 2085.8 326.6 2086.8 327.5 2087.8 328.5 2088.8 329.4 2089.8 330.3 2090.8 331.2 2091.8 332.0 2092.8 332.8 2093.8 333.7 2094.8 334.5 2095.8 335.4 2096.8 336.2 2097.8 337.1 2098.8 338.0 2099.8 338.8 2100.8 339.7 2101.8 340.6 2102.8 341.4 2103.8 342.2 2104.8 343.0 2105.8 343.8 2106.8 344.5 2107.8 345.2 2108.8 345.9 2109.8 346.5 2110.8 347.2 2111.8 347.8 2112.8 348.4 2113.8 349.0 2114.8 349.6 2115.8 350.2 2116.8 350.7 2117.8 351.1 2118.8 351.5 2119.8 351.8 2120.8 352.1 2121.8 352.4 2122.8 352.6 2123.8 352.8 2124.8 353.0 2125.8 353.1 2126.8 353.3 2127.8 353.4 2128.8 353.5 2129.8 353.7 2130.8 353.7 2131.8 353.8 2132.8 353.8 2133.8 353.8 2134.8 353.8 2135.8 353.7 2136.8 353.7 2137.8 353.6 2138.8 353.6 2139.8 353.5 2140.8 353.4 2141.8 353.2 2142.8 353.0 2143.8 352.8 2144.8 352.5 2145.8 352.3 2146.8 352.0 2147.8 351.8 2148.8 351.6 2149.8 351.4 2150.8 351.1 2151.8 350.9 2152.8 350.7 2153.8 350.4 2154.8 350.1 2155.8 349.8 2156.8 349.4 2157.8 349.0 2158.8 348.6 2159.8 348.2 2160.8 347.8 2161.8 347.4 2162.8 346.9 2163.8 346.5 2164.8 346.0 2165.8 345.6 2166.8 345.1 2167.8 344.6 2168.8 344.0 2169.8 343.5 2170.8 342.9 2171.8 342.2 2172.8 341.5 2173.8 340.7 2174.8 339.9 2175.8 339.1 2176.8 338.3 2177.8 337.5 2178.8 336.7 2179.8 335.9 2180.8 335.1 2181.8 334.2 2182.8 333.4 2183.8 332.5 2184.8 331.6 2185.8 330.7 2186.8 329.8 2187.8 328.9 2188.8 327.9 2189.8 327.0 2190.8 326.1 2191.8 325.3 2192.8 324.5 2193.8 323.7 2194.8 322.9 2195.8 322.1 2196.8 321.4 2197.8 320.7 2198.8 320.0 2199.8 319.4 2200.8 318.7 2201.8 318.1 2202.8 317.5 2203.8 317.0 2204.8 316.5 2205.8 316.0 2206.8 315.7 2207.8 315.4 2208.8 315.1 2209.8 314.9 2210.8 314.7 2211.8 314.5 2212.8 314.3 2213.8 314.1 2214.8 313.9 2215.8 313.8 2216.8 313.6 2217.8 313.4 2218.8 313.3 2219.8 313.2 2220.8 313.1 2221.8 313.0 2222.8 312.8 2223.8 312.7 2224.8 312.6 2225.8 312.6 2226.8 312.5 2227.8 312.5 2228.8 312.5 2229.8 312.5 2230.8 312.5 2231.8 312.5 2232.8 312.5 2233.8 312.5 2234.8 312.5 2235.8 312.5 2236.8 312.5 2237.8 312.5 2238.8 312.5 2239.8 312.5 2240.8 312.5 2241.8 312.5 2242.8 312.5 2243.8 312.5 2244.8 312.5 2245.3 312.5 2245.3 312.5 2244.8 312.5 2243.8 312.5 2242.8 312.5 2241.8 312.5 2240.8 312.5 2239.8 312.5 2238.8 312.5 2237.8 312.5 2236.8 312.5 2235.8 312.5 2234.8 312.5 2233.8 312.5 2232.8 312.5 2231.8 312.5 2230.8 312.5 2229.8 312.5 2228.8 312.5 2227.8 312.4 2226.8 312.4 2225.8 312.3 2224.8 312.2 2223.8 312.0 2222.8 311.9 2221.8 311.8 2220.8 311.7 2219.8 311.6 2218.8 311.4 2217.8 311.2 2216.8 311.1 2215.8 310.9 2214.8 310.7 2213.8 310.5 2212.8 310.3 2211.8 310.1 2210.8 309.9 2209.8 309.6 2208.8 309.3 2207.8 309.0 2206.8 308.5 2205.8 308.0 2204.8 307.5 2203.8 306.9 2202.8 306.3 2201.8 305.6 2200.8 305.0 2199.8 304.3 2198.8 303.6 2197.8 302.9 2196.8 302.1 2195.8 301.3 2194.8 300.5 2193.8 299.7 2192.8 298.9 2191.8 298.0 2190.8 297.1 2189.8 296.1 2188.8 295.2 2187.8 294.3 2186.8 293.4 2185.8 292.5 2184.8 291.6 2183.8 290.8 2182.8 289.9 2181.8 289.1 2180.8 288.3 2179.8 287.5 2178.8 286.7 2177.8 285.9 2176.8 285.1 2175.8 284.3 2174.8 283.5 2173.8 282.8 2172.8 282.1 2171.8 281.5 2170.8 281.0 2169.8 280.4 2168.8 279.9 2167.8 279.4 2166.8 279.0 2165.8 278.5 2164.8 278.1 2163.8 277.6 2162.8 277.2 2161.8 276.8 2160.8 276.4 2159.8 276.0 2158.8 275.6 2157.8 275.2 2156.8 274.9 2155.8 274.6 2154.8 274.3 2153.8 274.1 2152.8 273.9 2151.8 273.6 2150.8 273.4 2149.8 273.2 2148.8 273.0 2147.8 272.7 2146.8 272.5 2145.8 272.2 2144.8 272.0 2143.8 271.8 2142.8 271.6 2141.8 271.5 2140.8 271.4 2139.8 271.4 2138.8 271.3 2137.8 271.3 2136.8 271.2 2135.8 271.2 2134.8 271.2 2133.8 271.2 2132.8 271.3 2131.8 271.3 2130.8 271.5 2129.8 271.6 2128.8 271.7 2127.8 271.9 2126.8 272.0 2125.8 272.2 2124.8 272.4 2123.8 272.6 2122.8 272.9 2121.8 273.2 2120.8 273.5 2119.8 273.9 2118.8 274.3 2117.8 274.8 2116.8 275.4 2115.8 276.0 2114.8 276.6 2113.8 277.2 2112.8 277.8 2111.8 278.5 2110.8 279.1 2109.8 279.8 2108.8 280.5 2107.8 281.2 2106.8 282.0 2105.8 282.8 2104.8 283.6 2103.8 284.4 2102.8 285.3 2101.8 286.2 2100.8 287.0 2099.8 287.9 2098.8 288.8 2097.8 289.6 2096.8 290.5 2095.8 291.3 2094.8 292.2 2093.8 293.0 2092.8 293.8 2091.8 294.7 2090.8 295.6 2089.8 296.5 2088.8 297.5 2087.8 298.4 2086.8 299.4 2085.8 300.2 2084.8 301.0 2083.8 301.8 2082.8 302.5 2081.8 303.2 2080.8 303.8 2079.8 304.4 2078.8 305.0 2077.8 305.6 2076.8 306.1 2075.8 306.6 2074.8 307.1 2073.8 307.6 2072.8 308.1 2071.8 308.5 2070.8 308.9 2069.8 309.3 2068.8 309.6 2067.8 310.0 2066.8 310.3 2065.8 310.6 2064.8 310.8 2063.8 311.1 2062.8 311.3 2061.8 311.4 2060.8 311.6 2059.8 311.7 2058.8 311.8 2057.8 311.9 2056.8 312.0 2055.8 312.1 2054.8 312.2 2053.8 312.3 2052.8 312.4 2051.8 312.5 2050.8 312.5 2049.8 312.5 2048.8 312.5 2047.8 312.5 2046.8 312.5 2045.8 312.5 2044.8 312.5 2043.8 312.5 2042.8 312.5 2041.8 312.5 2040.8 312.5 2039.8 312.5 2038.8 312.5 2037.8 312.5 2036.8 312.5 2035.8 312.5 2034.8 312.5 2033.8 312.5 2032.8 312.5 2031.8 312.5 2030.8 312.5 2029.8 312.5 2028.8 312.5 2027.8 312.5 2026.8 312.5 2025.8 312.4 2024.8 312.4 2023.8 312.4 2022.8 312.3 2021.8 312.3 2020.8 312.2 2019.8 312.1 2018.8 312.0 2017.8 311.9 2016.8 311.8 2015.8 311.7 2014.8 311.5 2013.8 311.4 2012.8 311.3 2011.8 311.1 2010.8 311.0 2009.8 310.8 2008.8 310.6 2007.8 310.4 2006.8 310.2 2005.8 310.0 2004.8 309.7 2003.8 309.5 2002.8 309.2 2001.8 308.9 2000.8 308.6 1999.8 308.4 1998.8 308.1 1997.8 307.8 1996.8 307.4 1995.8 307.1 1994.8 306.9 1993.8 306.6 1992.8 306.3 1991.8 306.1 1990.8 305.8 1989.8 305.6 1988.8 305.3 1987.8 305.1 1986.8 304.8 1985.8 304.6 1984.8 304.3 1983.8 304.0 1982.8 303.8 1981.8 303.5 1980.8 303.3 1979.8 303.0 1978.8 302.9 1977.8 302.7 1976.8 302.5 1975.8 302.4 1974.8 302.2 1973.8 302.1 1972.8 301.9 1971.8 301.8 1970.8 301.7 1969.8 301.6 1968.8 301.5 1967.8 301.4 1966.8 301.3 1965.8 301.2 1964.8 301.2 1963.8 301.1 1962.8 301.1 1961.8 301.0 1960.8 301.0 1959.8 301.0 1958.8 300.9 1957.8 300.9 1956.8 300.9 1955.8 300.8 1954.8 300.8 1953.8 300.8 1952.8 300.8 1951.8 300.8 1950.8 300.9 1949.8 300.9 1948.8 301.0 1947.8 301.1 1946.8 301.1 1945.8 301.2 1944.8 301.3 1943.8 301.4 1942.8 301.5 1941.8 301.6 1940.8 301.7 1939.8 301.8 1938.8 301.9 1937.8 302.0 1936.8 302.1 1935.8 302.3 1934.8 302.4 1933.8 302.5 1932.8 302.7 1931.8 302.8 1930.8 302.9 1929.8 303.1 1928.8 303.3 1927.8 303.4 1926.8 303.6 1925.8 303.8 1924.8 304.0 1923.8 304.2 1922.8 304.4 1921.8 304.6 1920.8 304.9 1919.8 305.2 1918.8 305.4 1917.8 305.7 1916.8 306.0 1915.8 306.3 1914.8 306.7 1913.8 307.0 1912.8 307.3 1911.8 307.6 1910.8 307.9 1909.8 308.1 1908.8 308.3 1907.8 308.4 1906.8 308.6 1905.8 308.7 1904.8 308.8 1903.8 309.0 1902.8 309.2 1901.8 309.4 1900.8 309.6 1899.8 309.8 1898.8 310.0 1897.8 310.2 1896.8 310.4 1895.8 310.5 1894.8 310.7 1893.8 310.9 1892.8 311.1 1891.8 311.2 1890.8 311.4 1889.8 311.5 1888.8 311.6 1887.8 311.7 1886.8 311.8 1885.8 311.9 1884.8 311.9 1883.8 312.0 1882.8 312.0 1881.8 312.1 1880.8 312.1 1879.8 312.2 1878.8 312.2 1877.8 312.3 1876.8 312.3 1875.8 312.3 1874.8 312.4 1873.8 312.4 1872.8 312.4 1871.8 312.4 1870.8 312.5 1869.8 312.5 1868.8 312.5 1867.8 312.5 1866.8 312.5 1865.8 312.5 1864.8 312.5 1863.8 312.5 1862.8 312.5 1861.8 312.5 1860.8 312.5 1859.8 312.5 1858.8 312.5 1857.8 312.5 1856.8 312.5 1855.8 312.5 1854.8Z" fill="none" stroke="#000" stroke-width="7.6" stroke-linejoin="round" stroke-linecap="round"/>
<line x1="417.4" y1="2059.7" x2="485.81" y2="2059.7" stroke="#000" stroke-width="2.6" stroke-linecap="round" stroke-dasharray="0 7.6"/>
<line x1="444.1" y1="2096.4" x2="459.1" y2="2096.4" stroke="#000" stroke-width="2.8" stroke-dasharray="7 5.7"/>
<line x1="432.6" y1="2149.7" x2="470.61" y2="2149.7" stroke="#000" stroke-width="2.6" stroke-linecap="round" stroke-dasharray="0 7.6"/>
<path d="M451.6 1992.6 451.6 1993.6 451.6 1994.6 451.6 1995.6 451.6 1996.6 451.6 1997.6 451.6 1998.6 451.6 1999.6 451.6 2000.6 451.6 2001.6 451.7 2002.6 451.7 2003.6 451.8 2004.6 451.8 2005.6 451.9 2006.6 452.0 2007.6 452.2 2008.6 452.3 2009.6 452.6 2010.6 452.8 2011.6 453.0 2012.6 453.3 2013.6 453.6 2014.6 453.9 2015.6 454.3 2016.6 454.7 2017.6 455.2 2018.6 455.6 2019.6 456.1 2020.6 456.7 2021.6 457.3 2022.6 458.0 2023.6 458.8 2024.6 459.5 2025.6 460.4 2026.6 461.2 2027.6 462.2 2028.6 463.2 2029.6 464.3 2030.6 465.4 2031.6 466.6 2032.6 467.8 2033.6 469.0 2034.6 470.1 2035.6 471.2 2036.6 472.3 2037.6 473.4 2038.6 474.5 2039.6 475.5 2040.6 476.6 2041.6 477.7 2042.6 478.9 2043.6 480.0 2044.6 481.1 2045.6 482.3 2046.6 483.3 2047.6 484.4 2048.6 485.4 2049.6 486.4 2050.6 487.3 2051.6 488.3 2052.6 489.2 2053.6 490.0 2054.6 490.8 2055.6 491.6 2056.6 492.4 2057.6 493.1 2058.6 493.6 2059.6 493.7 2060.6 493.4 2061.6 493.0 2062.6 492.6 2063.6 492.2 2064.6 491.6 2065.6 491.0 2066.6 490.4 2067.6 489.7 2068.6 488.9 2069.6 488.2 2070.6 487.3 2071.6 486.4 2072.6 485.4 2073.6 484.4 2074.6 483.3 2075.6 482.2 2076.6 481.1 2077.6 480.1 2078.6 479.0 2079.6 478.0 2080.6 477.0 2081.6 475.9 2082.6 474.8 2083.6 473.6 2084.6 472.4 2085.6 470.9 2086.6 469.4 2087.6 467.9 2088.6 466.6 2089.6 465.6 2090.6 464.6 2091.6 463.7 2092.6 462.8 2093.6 462.1 2094.6 461.4 2095.6 461.0 2096.6 460.7 2097.6 460.4 2098.6 460.2 2099.6 460.1 2100.6 460.1 2101.6 460.2 2102.6 460.4 2103.6 460.6 2104.6 460.8 2105.6 461.2 2106.6 461.7 2107.6 462.2 2108.6 462.7 2109.6 463.3 2110.6 463.8 2111.6 464.4 2112.6 465.0 2113.6 465.6 2114.6 466.3 2115.6 467.0 2116.6 467.6 2117.6 468.3 2118.6 469.0 2119.6 469.6 2120.6 470.3 2121.6 471.0 2122.6 471.7 2123.6 472.3 2124.6 472.9 2125.6 473.5 2126.6 474.1 2127.6 474.7 2128.6 475.3 2129.6 475.9 2130.6 476.3 2131.6 476.8 2132.6 477.2 2133.6 477.5 2134.6 477.9 2135.6 478.2 2136.6 478.5 2137.6 478.7 2138.6 478.9 2139.6 479.1 2140.6 479.2 2141.6 479.3 2142.6 479.4 2143.6 479.4 2144.6 479.3 2145.6 479.1 2146.6 478.9 2147.6 478.7 2148.6 478.5 2149.6 478.3 2150.6 478.1 2151.6 477.8 2152.6 477.5 2153.6 477.2 2154.6 476.8 2155.6 476.4 2156.6 475.9 2157.6 475.4 2158.6 474.9 2159.6 474.4 2160.6 474.0 2161.6 473.5 2162.6 473.0 2163.6 472.6 2164.6 472.1 2165.6 471.7 2166.6 471.2 2167.6 470.8 2168.6 470.4 2169.6 470.0 2170.6 469.6 2171.6 469.2 2172.6 468.8 2173.6 468.4 2174.6 468.1 2175.6 467.7 2176.6 467.4 2177.6 467.1 2178.6 466.8 2179.6 466.5 2180.6 466.2 2181.6 465.9 2182.6 465.6 2183.6 465.3 2184.6 465.0 2185.6 464.7 2186.6 464.4 2187.6 464.0 2188.6 463.7 2189.6 463.4 2190.6 463.0 2191.6 462.7 2192.6 462.3 2193.6 461.9 2194.6 461.5 2195.6 461.1 2196.6 460.7 2197.6 460.2 2198.6 459.7 2199.6 459.3 2200.6 458.8 2201.6 458.3 2202.6 457.9 2203.6 457.6 2204.6 457.2 2205.6 456.9 2206.6 456.5 2207.6 456.2 2208.6 455.9 2209.6 455.5 2210.6 455.1 2211.6 454.7 2212.6 454.3 2213.6 454.0 2214.6 453.8 2215.6 453.6 2216.6 453.4 2217.6 453.2 2218.6 453.0 2219.6 452.9 2220.6 452.7 2221.6 452.5 2222.6 452.3 2223.6 452.2 2224.6 452.0 2225.6 451.9 2226.6 451.8 2227.6 451.8 2228.6 451.7 2229.6 451.6 2230.6 451.6 2231.6 451.6 2232.6 451.6 2233.6 451.6 2234.6 451.6 2235.6 451.6 2236.6 451.6 2237.6 451.6 2238.6 451.6 2239.6 451.6 2240.6 451.6 2241.6 451.6 2242.6 451.6 2243.6 451.6 2244.6 451.6 2245.6 451.6 2246.6 451.6 2247.6 451.6 2248.6 451.6 2249.6 451.6 2250.6 451.6 2251.2 451.6 2251.2 451.6 2250.6 451.6 2249.6 451.6 2248.6 451.6 2247.6 451.6 2246.6 451.6 2245.6 451.6 2244.6 451.6 2243.6 451.6 2242.6 451.6 2241.6 451.6 2240.6 451.6 2239.6 451.6 2238.6 451.6 2237.6 451.6 2236.6 451.6 2235.6 451.6 2234.6 451.6 2233.6 451.6 2232.6 451.6 2231.6 451.6 2230.6 451.5 2229.6 451.4 2228.6 451.4 2227.6 451.3 2226.6 451.2 2225.6 451.0 2224.6 450.9 2223.6 450.7 2222.6 450.5 2221.6 450.3 2220.6 450.2 2219.6 450.0 2218.6 449.8 2217.6 449.6 2216.6 449.4 2215.6 449.2 2214.6 448.9 2213.6 448.5 2212.6 448.1 2211.6 447.7 2210.6 447.3 2209.6 447.0 2208.6 446.7 2207.6 446.3 2206.6 446.0 2205.6 445.6 2204.6 445.3 2203.6 444.9 2202.6 444.4 2201.6 443.9 2200.6 443.5 2199.6 443.0 2198.6 442.5 2197.6 442.1 2196.6 441.7 2195.6 441.3 2194.6 440.9 2193.6 440.5 2192.6 440.2 2191.6 439.8 2190.6 439.5 2189.6 439.2 2188.6 438.8 2187.6 438.5 2186.6 438.2 2185.6 437.9 2184.6 437.6 2183.6 437.3 2182.6 437.0 2181.6 436.7 2180.6 436.4 2179.6 436.1 2178.6 435.8 2177.6 435.5 2176.6 435.1 2175.6 434.8 2174.6 434.4 2173.6 434.0 2172.6 433.6 2171.6 433.2 2170.6 432.8 2169.6 432.4 2168.6 432.0 2167.6 431.5 2166.6 431.1 2165.6 430.6 2164.6 430.2 2163.6 429.7 2162.6 429.2 2161.6 428.8 2160.6 428.3 2159.6 427.8 2158.6 427.3 2157.6 426.8 2156.6 426.4 2155.6 426.0 2154.6 425.7 2153.6 425.4 2152.6 425.1 2151.6 424.9 2150.6 424.7 2149.6 424.5 2148.6 424.3 2147.6 424.1 2146.6 423.9 2145.6 423.8 2144.6 423.8 2143.6 423.9 2142.6 424.0 2141.6 424.1 2140.6 424.3 2139.6 424.5 2138.6 424.7 2137.6 425.0 2136.6 425.3 2135.6 425.7 2134.6 426.0 2133.6 426.4 2132.6 426.9 2131.6 427.3 2130.6 427.9 2129.6 428.5 2128.6 429.1 2127.6 429.7 2126.6 430.3 2125.6 430.9 2124.6 431.5 2123.6 432.2 2122.6 432.9 2121.6 433.6 2120.6 434.2 2119.6 434.9 2118.6 435.6 2117.6 436.2 2116.6 436.9 2115.6 437.6 2114.6 438.2 2113.6 438.8 2112.6 439.4 2111.6 439.9 2110.6 440.5 2109.6 441.0 2108.6 441.5 2107.6 442.0 2106.6 442.4 2105.6 442.6 2104.6 442.8 2103.6 443.0 2102.6 443.1 2101.6 443.1 2100.6 443.0 2099.6 442.8 2098.6 442.5 2097.6 442.2 2096.6 441.8 2095.6 441.1 2094.6 440.4 2093.6 439.5 2092.6 438.6 2091.6 437.6 2090.6 436.6 2089.6 435.3 2088.6 433.8 2087.6 432.3 2086.6 430.8 2085.6 429.6 2084.6 428.4 2083.6 427.3 2082.6 426.2 2081.6 425.2 2080.6 424.2 2079.6 423.1 2078.6 422.1 2077.6 421.0 2076.6 419.9 2075.6 418.8 2074.6 417.8 2073.6 416.8 2072.6 415.9 2071.6 415.0 2070.6 414.3 2069.6 413.5 2068.6 412.8 2067.6 412.2 2066.6 411.6 2065.6 411.0 2064.6 410.6 2063.6 410.2 2062.6 409.8 2061.6 409.5 2060.6 409.6 2059.6 410.1 2058.6 410.8 2057.6 411.6 2056.6 412.4 2055.6 413.2 2054.6 414.0 2053.6 414.9 2052.6 415.9 2051.6 416.8 2050.6 417.8 2049.6 418.8 2048.6 419.9 2047.6 420.9 2046.6 422.1 2045.6 423.2 2044.6 424.3 2043.6 425.5 2042.6 426.6 2041.6 427.7 2040.6 428.7 2039.6 429.8 2038.6 430.9 2037.6 432.0 2036.6 433.1 2035.6 434.2 2034.6 435.4 2033.6 436.6 2032.6 437.8 2031.6 438.9 2030.6 440.0 2029.6 441.0 2028.6 442.0 2027.6 442.8 2026.6 443.7 2025.6 444.4 2024.6 445.2 2023.6 445.9 2022.6 446.5 2021.6 447.1 2020.6 447.6 2019.6 448.0 2018.6 448.5 2017.6 448.9 2016.6 449.3 2015.6 449.6 2014.6 449.9 2013.6 450.2 2012.6 450.4 2011.6 450.6 2010.6 450.9 2009.6 451.0 2008.6 451.2 2007.6 451.3 2006.6 451.4 2005.6 451.4 2004.6 451.5 2003.6 451.5 2002.6 451.6 2001.6 451.6 2000.6 451.6 1999.6 451.6 1998.6 451.6 1997.6 451.6 1996.6 451.6 1995.6 451.6 1994.6 451.6 1993.6 451.6 1992.6Z" fill="none" stroke="#000" stroke-width="7.6" stroke-linejoin="round" stroke-linecap="round"/>
<text transform="translate(312.10 2347.30)" font-family="'Liberation Sans', Arial, sans-serif" font-size="37.5" font-weight="bold" text-anchor="middle" >GG</text>
<text transform="translate(451.70 2347.30)" font-family="'Liberation Sans', Arial, sans-serif" font-size="37.5" font-weight="bold" text-anchor="middle" >GC</text>
<line x1="304.0" y1="1802.6" x2="476.4" y2="1802.6" stroke="#000" stroke-width="3.3" />
<text transform="translate(388.50 1782.00) scale(1.018 1)" font-family="'Liberation Sans', Arial, sans-serif" font-size="35.9" text-anchor="middle" >NC</text>
<text transform="translate(64.00 2043.20) rotate(-90) scale(1.021 1)" font-family="'Liberation Sans', Arial, sans-serif" font-size="40.5" font-weight="bold" text-anchor="middle" >WBC ( /μL)</text>
<line x1="694.8" y1="1767.9" x2="694.8" y2="2289.0" stroke="#000" stroke-width="5.1" />
<line x1="672.8" y1="2286.4" x2="1041.5" y2="2286.4" stroke="#000" stroke-width="5.1" />
<line x1="672.8" y1="1770.3" x2="694.8" y2="1770.3" stroke="#000" stroke-width="5.1" />
<text transform="translate(668.00 1784.34)" font-family="'Liberation Sans', Arial, sans-serif" font-size="39" font-weight="bold" text-anchor="end" >6</text>
<line x1="672.8" y1="1899.4" x2="694.8" y2="1899.4" stroke="#000" stroke-width="5.1" />
<text transform="translate(668.00 1913.44)" font-family="'Liberation Sans', Arial, sans-serif" font-size="39" font-weight="bold" text-anchor="end" >4</text>
<line x1="672.8" y1="2028.5" x2="694.8" y2="2028.5" stroke="#000" stroke-width="5.1" />
<text transform="translate(668.00 2042.54)" font-family="'Liberation Sans', Arial, sans-serif" font-size="39" font-weight="bold" text-anchor="end" >2</text>
<line x1="672.8" y1="2157.6" x2="694.8" y2="2157.6" stroke="#000" stroke-width="5.1" />
<text transform="translate(668.00 2171.64)" font-family="'Liberation Sans', Arial, sans-serif" font-size="39" font-weight="bold" text-anchor="end" >0</text>
<line x1="672.8" y1="2286.7" x2="694.8" y2="2286.7" stroke="#000" stroke-width="5.1" />
<text transform="translate(668.00 2300.74)" font-family="'Liberation Sans', Arial, sans-serif" font-size="39" font-weight="bold" text-anchor="end" >-2</text>
<line x1="792.9" y1="2286.4" x2="792.9" y2="2308.6" stroke="#000" stroke-width="5.1" />
<line x1="940.4" y1="2286.4" x2="940.4" y2="2308.6" stroke="#000" stroke-width="5.1" />
<path d="M792.9 1886.6 792.9 1887.6 792.9 1888.6 793.0 1889.6 793.3 1890.6 794.0 1891.6 795.0 1892.6 796.0 1893.6 796.6 1894.6 797.1 1895.6 797.4 1896.6 797.7 1897.6 797.8 1898.6 797.9 1899.6 797.8 1900.6 797.7 1901.6 797.5 1902.6 797.0 1903.6 796.3 1904.6 795.6 1905.6 795.0 1906.6 794.3 1907.6 793.7 1908.6 793.2 1909.6 793.0 1910.6 792.9 1911.6 792.9 1912.6 792.9 1913.6 792.9 1914.6 792.9 1915.6 792.9 1916.6 792.9 1917.6 792.9 1918.6 792.9 1919.6 792.9 1920.6 792.9 1921.6 792.9 1922.6 792.9 1923.6 792.9 1924.6 792.9 1925.6 792.9 1926.6 792.9 1927.6 792.9 1928.6 792.9 1929.6 792.9 1930.6 792.9 1931.6 792.9 1932.6 792.9 1933.6 792.9 1934.6 792.9 1935.6 792.9 1936.6 792.9 1937.6 792.9 1938.6 792.9 1939.6 792.9 1940.6 792.9 1941.6 792.9 1942.6 792.9 1943.6 792.9 1944.6 792.9 1945.6 792.9 1946.6 792.9 1947.6 792.9 1948.6 792.9 1949.6 792.9 1950.6 792.9 1951.6 792.9 1952.6 792.9 1953.6 792.9 1954.6 792.9 1955.6 792.9 1956.6 792.9 1957.6 792.9 1958.6 792.9 1959.6 792.9 1960.6 792.9 1961.6 792.9 1962.6 792.9 1963.6 792.9 1964.6 792.9 1965.6 792.9 1966.6 792.9 1967.6 792.9 1968.6 792.9 1969.6 792.9 1970.6 792.9 1971.6 792.9 1972.6 792.9 1973.6 792.9 1974.6 792.9 1975.6 792.9 1976.6 792.9 1977.6 792.9 1978.6 792.9 1979.6 792.9 1980.6 792.9 1981.6 792.9 1982.6 792.9 1983.6 792.9 1984.6 792.9 1985.6 792.9 1986.6 792.9 1987.6 792.9 1988.6 792.9 1989.6 792.9 1990.6 792.9 1991.6 792.9 1992.6 792.9 1993.6 792.9 1994.6 792.9 1995.6 792.9 1996.6 792.9 1997.6 792.9 1998.6 792.9 1999.6 792.9 2000.6 792.9 2001.6 792.9 2002.6 792.9 2003.6 792.9 2004.6 792.9 2005.6 792.9 2006.6 792.9 2007.6 792.9 2008.6 792.9 2009.6 792.9 2010.6 792.9 2011.6 792.9 2012.6 792.9 2013.6 792.9 2014.6 792.9 2015.6 792.9 2016.6 792.9 2017.6 792.9 2018.6 793.0 2019.6 793.2 2020.6 793.6 2021.6 794.3 2022.6 795.3 2023.6 796.2 2024.6 796.7 2025.6 797.2 2026.6 797.6 2027.6 797.8 2028.6 797.7 2029.6 797.5 2030.6 797.1 2031.6 796.6 2032.6 796.0 2033.6 795.1 2034.6 794.1 2035.6 793.5 2036.6 793.1 2037.6 792.9 2038.6 792.9 2039.6 792.9 2040.6 792.9 2041.6 792.9 2042.6 792.9 2043.6 792.9 2044.6 792.9 2045.6 792.9 2046.6 792.9 2047.6 792.9 2048.6 792.9 2049.6 792.9 2050.6 792.9 2051.6 792.9 2052.6 792.9 2053.6 792.9 2054.6 792.9 2055.6 792.9 2056.6 792.9 2057.6 792.9 2058.6 792.9 2059.6 792.9 2060.6 792.9 2061.6 792.9 2062.6 792.9 2063.6 792.9 2064.6 792.9 2065.6 792.9 2066.6 792.9 2067.6 792.9 2068.6 792.9 2069.6 792.9 2070.6 792.9 2071.6 792.9 2072.6 792.9 2073.6 792.9 2074.6 792.9 2075.6 792.9 2076.6 792.9 2077.6 793.1 2078.6 793.3 2079.6 793.6 2080.6 794.0 2081.6 794.6 2082.6 795.6 2083.6 796.6 2084.6 797.7 2085.6 799.3 2086.6 802.1 2087.6 806.8 2088.6 812.6 2089.6 819.1 2090.6 825.7 2091.6 832.4 2092.6 836.7 2093.6 829.6 2094.6 823.1 2095.6 816.5 2096.6 810.1 2097.6 804.8 2098.6 800.7 2099.6 798.6 2100.6 797.3 2101.6 796.2 2102.6 795.2 2103.6 794.4 2104.6 793.8 2105.6 793.4 2106.6 793.1 2107.6 792.9 2108.6 792.9 2109.6 792.9 2110.6 792.9 2111.6 792.9 2112.6 792.9 2113.6 792.9 2114.6 792.9 2115.6 792.9 2116.6 792.9 2117.6 792.9 2118.6 792.9 2119.6 792.9 2120.6 792.9 2121.6 792.9 2122.6 792.9 2123.6 792.9 2124.6 792.9 2125.6 792.9 2126.6 792.9 2127.6 792.9 2128.6 792.9 2129.6 792.9 2130.6 792.9 2131.6 792.9 2132.6 792.9 2133.6 792.9 2134.6 792.9 2135.6 792.9 2136.6 792.9 2137.6 792.9 2138.6 792.9 2139.6 792.9 2140.6 792.9 2141.6 792.9 2142.6 792.9 2143.6 792.9 2144.6 793.0 2145.6 793.4 2146.6 794.1 2147.6 794.9 2148.6 796.0 2149.6 797.4 2150.6 798.8 2151.6 800.4 2152.6 802.1 2153.6 804.0 2154.6 805.5 2155.6 806.7 2156.6 807.3 2157.6 806.9 2158.6 805.9 2159.6 804.5 2160.6 802.6 2161.6 800.9 2162.6 799.3 2163.6 797.7 2164.6 796.1 2165.6 794.7 2166.6 794.0 2167.6 793.5 2168.6 793.1 2169.6 792.9 2170.6 792.9 2170.7 792.9 2170.7 792.9 2170.6 792.7 2169.6 792.3 2168.6 791.8 2167.6 791.1 2166.6 789.7 2165.6 788.1 2164.6 786.5 2163.6 784.9 2162.6 783.2 2161.6 781.3 2160.6 779.9 2159.6 778.9 2158.6 778.5 2157.6 779.1 2156.6 780.3 2155.6 781.8 2154.6 783.7 2153.6 785.4 2152.6 787.0 2151.6 788.4 2150.6 789.8 2149.6 790.9 2148.6 791.7 2147.6 792.4 2146.6 792.8 2145.6 792.9 2144.6 792.9 2143.6 792.9 2142.6 792.9 2141.6 792.9 2140.6 792.9 2139.6 792.9 2138.6 792.9 2137.6 792.9 2136.6 792.9 2135.6 792.9 2134.6 792.9 2133.6 792.9 2132.6 792.9 2131.6 792.9 2130.6 792.9 2129.6 792.9 2128.6 792.9 2127.6 792.9 2126.6 792.9 2125.6 792.9 2124.6 792.9 2123.6 792.9 2122.6 792.9 2121.6 792.9 2120.6 792.9 2119.6 792.9 2118.6 792.9 2117.6 792.9 2116.6 792.9 2115.6 792.9 2114.6 792.9 2113.6 792.9 2112.6 792.9 2111.6 792.9 2110.6 792.9 2109.6 792.9 2108.6 792.7 2107.6 792.4 2106.6 792.0 2105.6 791.4 2104.6 790.6 2103.6 789.6 2102.6 788.5 2101.6 787.2 2100.6 785.1 2099.6 781.0 2098.6 775.7 2097.6 769.3 2096.6 762.7 2095.6 756.2 2094.6 749.1 2093.6 753.4 2092.6 760.1 2091.6 766.7 2090.6 773.2 2089.6 779.0 2088.6 783.7 2087.6 786.5 2086.6 788.1 2085.6 789.2 2084.6 790.2 2083.6 791.2 2082.6 791.8 2081.6 792.2 2080.6 792.5 2079.6 792.7 2078.6 792.9 2077.6 792.9 2076.6 792.9 2075.6 792.9 2074.6 792.9 2073.6 792.9 2072.6 792.9 2071.6 792.9 2070.6 792.9 2069.6 792.9 2068.6 792.9 2067.6 792.9 2066.6 792.9 2065.6 792.9 2064.6 792.9 2063.6 792.9 2062.6 792.9 2061.6 792.9 2060.6 792.9 2059.6 792.9 2058.6 792.9 2057.6 792.9 2056.6 792.9 2055.6 792.9 2054.6 792.9 2053.6 792.9 2052.6 792.9 2051.6 792.9 2050.6 792.9 2049.6 792.9 2048.6 792.9 2047.6 792.9 2046.6 792.9 2045.6 792.9 2044.6 792.9 2043.6 792.9 2042.6 792.9 2041.6 792.9 2040.6 792.9 2039.6 792.9 2038.6 792.7 2037.6 792.3 2036.6 791.7 2035.6 790.7 2034.6 789.8 2033.6 789.2 2032.6 788.7 2031.6 788.3 2030.6 788.1 2029.6 788.0 2028.6 788.2 2027.6 788.6 2026.6 789.1 2025.6 789.6 2024.6 790.5 2023.6 791.5 2022.6 792.2 2021.6 792.6 2020.6 792.8 2019.6 792.9 2018.6 792.9 2017.6 792.9 2016.6 792.9 2015.6 792.9 2014.6 792.9 2013.6 792.9 2012.6 792.9 2011.6 792.9 2010.6 792.9 2009.6 792.9 2008.6 792.9 2007.6 792.9 2006.6 792.9 2005.6 792.9 2004.6 792.9 2003.6 792.9 2002.6 792.9 2001.6 792.9 2000.6 792.9 1999.6 792.9 1998.6 792.9 1997.6 792.9 1996.6 792.9 1995.6 792.9 1994.6 792.9 1993.6 792.9 1992.6 792.9 1991.6 792.9 1990.6 792.9 1989.6 792.9 1988.6 792.9 1987.6 792.9 1986.6 792.9 1985.6 792.9 1984.6 792.9 1983.6 792.9 1982.6 792.9 1981.6 792.9 1980.6 792.9 1979.6 792.9 1978.6 792.9 1977.6 792.9 1976.6 792.9 1975.6 792.9 1974.6 792.9 1973.6 792.9 1972.6 792.9 1971.6 792.9 1970.6 792.9 1969.6 792.9 1968.6 792.9 1967.6 792.9 1966.6 792.9 1965.6 792.9 1964.6 792.9 1963.6 792.9 1962.6 792.9 1961.6 792.9 1960.6 792.9 1959.6 792.9 1958.6 792.9 1957.6 792.9 1956.6 792.9 1955.6 792.9 1954.6 792.9 1953.6 792.9 1952.6 792.9 1951.6 792.9 1950.6 792.9 1949.6 792.9 1948.6 792.9 1947.6 792.9 1946.6 792.9 1945.6 792.9 1944.6 792.9 1943.6 792.9 1942.6 792.9 1941.6 792.9 1940.6 792.9 1939.6 792.9 1938.6 792.9 1937.6 792.9 1936.6 792.9 1935.6 792.9 1934.6 792.9 1933.6 792.9 1932.6 792.9 1931.6 792.9 1930.6 792.9 1929.6 792.9 1928.6 792.9 1927.6 792.9 1926.6 792.9 1925.6 792.9 1924.6 792.9 1923.6 792.9 1922.6 792.9 1921.6 792.9 1920.6 792.9 1919.6 792.9 1918.6 792.9 1917.6 792.9 1916.6 792.9 1915.6 792.9 1914.6 792.9 1913.6 792.9 1912.6 792.9 1911.6 792.8 1910.6 792.6 1909.6 792.1 1908.6 791.5 1907.6 790.8 1906.6 790.2 1905.6 789.5 1904.6 788.8 1903.6 788.3 1902.6 788.1 1901.6 788.0 1900.6 787.9 1899.6 788.0 1898.6 788.1 1897.6 788.4 1896.6 788.7 1895.6 789.2 1894.6 789.8 1893.6 790.8 1892.6 791.8 1891.6 792.5 1890.6 792.8 1889.6 792.9 1888.6 792.9 1887.6 792.9 1886.6Z" fill="#7f7f7f"/>
<path d="M940.4 2050.2 940.4 2051.2 940.4 2052.2 940.5 2053.2 940.5 2054.2 940.6 2055.2 940.7 2056.2 940.8 2057.2 941.0 2058.2 941.3 2059.2 941.5 2060.2 941.8 2061.2 942.2 2062.2 942.6 2063.2 943.2 2064.2 943.8 2065.2 944.6 2066.2 945.4 2067.2 946.5 2068.2 947.8 2069.2 949.4 2070.2 951.0 2071.2 952.6 2072.2 954.2 2073.2 955.8 2074.2 957.5 2075.2 959.1 2076.2 960.7 2077.2 962.2 2078.2 963.8 2079.2 965.5 2080.2 967.3 2081.2 969.1 2082.2 971.0 2083.2 973.1 2084.2 975.2 2085.2 977.1 2086.2 978.7 2087.2 980.2 2088.2 981.6 2089.2 982.9 2090.2 983.9 2091.2 984.6 2092.2 984.7 2093.2 984.2 2094.2 983.4 2095.2 982.3 2096.2 981.2 2097.2 979.9 2098.2 978.3 2099.2 976.5 2100.2 974.8 2101.2 973.0 2102.2 971.1 2103.2 969.2 2104.2 967.3 2105.2 965.3 2106.2 963.3 2107.2 961.3 2108.2 959.2 2109.2 957.2 2110.2 955.2 2111.2 953.5 2112.2 951.8 2113.2 950.2 2114.2 948.9 2115.2 947.6 2116.2 946.5 2117.2 945.5 2118.2 944.8 2119.2 944.2 2120.2 943.8 2121.2 943.4 2122.2 943.0 2123.2 942.8 2124.2 942.6 2125.2 942.6 2126.2 942.7 2127.2 942.9 2128.2 943.2 2129.2 943.6 2130.2 944.0 2131.2 944.5 2132.2 945.2 2133.2 946.4 2134.2 948.0 2135.2 949.7 2136.2 951.5 2137.2 953.1 2138.2 954.7 2139.2 956.4 2140.2 958.0 2141.2 959.5 2142.2 960.8 2143.2 962.2 2144.2 963.6 2145.2 965.0 2146.2 966.5 2147.2 967.8 2148.2 969.0 2149.2 970.1 2150.2 971.1 2151.2 971.9 2152.2 972.5 2153.2 973.0 2154.2 973.5 2155.2 973.8 2156.2 974.0 2157.2 974.0 2158.2 973.7 2159.2 973.4 2160.2 972.9 2161.2 972.3 2162.2 971.7 2163.2 970.7 2164.2 969.5 2165.2 968.0 2166.2 966.5 2167.2 964.7 2168.2 962.7 2169.2 960.8 2170.2 959.0 2171.2 957.2 2172.2 955.4 2173.2 953.7 2174.2 952.0 2175.2 950.4 2176.2 949.0 2177.2 947.8 2178.2 946.7 2179.2 945.7 2180.2 944.9 2181.2 944.3 2182.2 943.7 2183.2 943.2 2184.2 942.8 2185.2 942.4 2186.2 942.1 2187.2 941.8 2188.2 941.5 2189.2 941.3 2190.2 941.0 2191.2 940.8 2192.2 940.7 2193.2 940.6 2194.2 940.5 2195.2 940.5 2196.2 940.4 2197.2 940.4 2198.2 940.4 2199.2 940.4 2200.2 940.4 2200.9 940.4 2200.9 940.4 2200.2 940.4 2199.2 940.4 2198.2 940.4 2197.2 940.3 2196.2 940.3 2195.2 940.2 2194.2 940.1 2193.2 940.0 2192.2 939.8 2191.2 939.5 2190.2 939.3 2189.2 939.0 2188.2 938.7 2187.2 938.4 2186.2 938.0 2185.2 937.6 2184.2 937.1 2183.2 936.5 2182.2 935.9 2181.2 935.1 2180.2 934.1 2179.2 933.0 2178.2 931.8 2177.2 930.4 2176.2 928.8 2175.2 927.1 2174.2 925.4 2173.2 923.6 2172.2 921.8 2171.2 920.0 2170.2 918.1 2169.2 916.1 2168.2 914.3 2167.2 912.8 2166.2 911.3 2165.2 910.1 2164.2 909.1 2163.2 908.5 2162.2 907.9 2161.2 907.4 2160.2 907.1 2159.2 906.8 2158.2 906.8 2157.2 907.0 2156.2 907.3 2155.2 907.8 2154.2 908.3 2153.2 908.9 2152.2 909.7 2151.2 910.7 2150.2 911.8 2149.2 913.0 2148.2 914.3 2147.2 915.8 2146.2 917.2 2145.2 918.6 2144.2 920.0 2143.2 921.3 2142.2 922.8 2141.2 924.4 2140.2 926.1 2139.2 927.7 2138.2 929.3 2137.2 931.1 2136.2 932.8 2135.2 934.4 2134.2 935.6 2133.2 936.3 2132.2 936.8 2131.2 937.2 2130.2 937.6 2129.2 937.9 2128.2 938.1 2127.2 938.2 2126.2 938.2 2125.2 938.0 2124.2 937.8 2123.2 937.4 2122.2 937.0 2121.2 936.6 2120.2 936.0 2119.2 935.3 2118.2 934.3 2117.2 933.2 2116.2 931.9 2115.2 930.6 2114.2 929.0 2113.2 927.3 2112.2 925.6 2111.2 923.6 2110.2 921.6 2109.2 919.5 2108.2 917.5 2107.2 915.5 2106.2 913.5 2105.2 911.6 2104.2 909.7 2103.2 907.8 2102.2 906.0 2101.2 904.3 2100.2 902.5 2099.2 900.9 2098.2 899.6 2097.2 898.5 2096.2 897.4 2095.2 896.6 2094.2 896.1 2093.2 896.2 2092.2 896.9 2091.2 897.9 2090.2 899.2 2089.2 900.6 2088.2 902.1 2087.2 903.7 2086.2 905.6 2085.2 907.7 2084.2 909.8 2083.2 911.7 2082.2 913.5 2081.2 915.3 2080.2 917.0 2079.2 918.6 2078.2 920.1 2077.2 921.7 2076.2 923.3 2075.2 925.0 2074.2 926.6 2073.2 928.2 2072.2 929.8 2071.2 931.4 2070.2 933.0 2069.2 934.3 2068.2 935.4 2067.2 936.2 2066.2 937.0 2065.2 937.6 2064.2 938.2 2063.2 938.6 2062.2 939.0 2061.2 939.3 2060.2 939.5 2059.2 939.8 2058.2 940.0 2057.2 940.1 2056.2 940.2 2055.2 940.3 2054.2 940.3 2053.2 940.4 2052.2 940.4 2051.2 940.4 2050.2Z" fill="#a1a0a5"/>
<line x1="710.3" y1="2157.6" x2="1037.0" y2="2157.6" stroke="#000" stroke-width="5.1" stroke-linecap="round" stroke-dasharray="0 15.5"/>
<line x1="750.7" y1="2093.4" x2="835.1" y2="2093.4" stroke="#000" stroke-width="2.8" stroke-dasharray="7 5.7"/>
<path d="M792.9 1886.6 792.9 1887.6 792.9 1888.6 793.0 1889.6 793.3 1890.6 794.0 1891.6 795.0 1892.6 796.0 1893.6 796.6 1894.6 797.1 1895.6 797.4 1896.6 797.7 1897.6 797.8 1898.6 797.9 1899.6 797.8 1900.6 797.7 1901.6 797.5 1902.6 797.0 1903.6 796.3 1904.6 795.6 1905.6 795.0 1906.6 794.3 1907.6 793.7 1908.6 793.2 1909.6 793.0 1910.6 792.9 1911.6 792.9 1912.6 792.9 1913.6 792.9 1914.6 792.9 1915.6 792.9 1916.6 792.9 1917.6 792.9 1918.6 792.9 1919.6 792.9 1920.6 792.9 1921.6 792.9 1922.6 792.9 1923.6 792.9 1924.6 792.9 1925.6 792.9 1926.6 792.9 1927.6 792.9 1928.6 792.9 1929.6 792.9 1930.6 792.9 1931.6 792.9 1932.6 792.9 1933.6 792.9 1934.6 792.9 1935.6 792.9 1936.6 792.9 1937.6 792.9 1938.6 792.9 1939.6 792.9 1940.6 792.9 1941.6 792.9 1942.6 792.9 1943.6 792.9 1944.6 792.9 1945.6 792.9 1946.6 792.9 1947.6 792.9 1948.6 792.9 1949.6 792.9 1950.6 792.9 1951.6 792.9 1952.6 792.9 1953.6 792.9 1954.6 792.9 1955.6 792.9 1956.6 792.9 1957.6 792.9 1958.6 792.9 1959.6 792.9 1960.6 792.9 1961.6 792.9 1962.6 792.9 1963.6 792.9 1964.6 792.9 1965.6 792.9 1966.6 792.9 1967.6 792.9 1968.6 792.9 1969.6 792.9 1970.6 792.9 1971.6 792.9 1972.6 792.9 1973.6 792.9 1974.6 792.9 1975.6 792.9 1976.6 792.9 1977.6 792.9 1978.6 792.9 1979.6 792.9 1980.6 792.9 1981.6 792.9 1982.6 792.9 1983.6 792.9 1984.6 792.9 1985.6 792.9 1986.6 792.9 1987.6 792.9 1988.6 792.9 1989.6 792.9 1990.6 792.9 1991.6 792.9 1992.6 792.9 1993.6 792.9 1994.6 792.9 1995.6 792.9 1996.6 792.9 1997.6 792.9 1998.6 792.9 1999.6 792.9 2000.6 792.9 2001.6 792.9 2002.6 792.9 2003.6 792.9 2004.6 792.9 2005.6 792.9 2006.6 792.9 2007.6 792.9 2008.6 792.9 2009.6 792.9 2010.6 792.9 2011.6 792.9 2012.6 792.9 2013.6 792.9 2014.6 792.9 2015.6 792.9 2016.6 792.9 2017.6 792.9 2018.6 793.0 2019.6 793.2 2020.6 793.6 2021.6 794.3 2022.6 795.3 2023.6 796.2 2024.6 796.7 2025.6 797.2 2026.6 797.6 2027.6 797.8 2028.6 797.7 2029.6 797.5 2030.6 797.1 2031.6 796.6 2032.6 796.0 2033.6 795.1 2034.6 794.1 2035.6 793.5 2036.6 793.1 2037.6 792.9 2038.6 792.9 2039.6 792.9 2040.6 792.9 2041.6 792.9 2042.6 792.9 2043.6 792.9 2044.6 792.9 2045.6 792.9 2046.6 792.9 2047.6 792.9 2048.6 792.9 2049.6 792.9 2050.6 792.9 2051.6 792.9 2052.6 792.9 2053.6 792.9 2054.6 792.9 2055.6 792.9 2056.6 792.9 2057.6 792.9 2058.6 792.9 2059.6 792.9 2060.6 792.9 2061.6 792.9 2062.6 792.9 2063.6 792.9 2064.6 792.9 2065.6 792.9 2066.6 792.9 2067.6 792.9 2068.6 792.9 2069.6 792.9 2070.6 792.9 2071.6 792.9 2072.6 792.9 2073.6 792.9 2074.6 792.9 2075.6 792.9 2076.6 792.9 2077.6 793.1 2078.6 793.3 2079.6 793.6 2080.6 794.0 2081.6 794.6 2082.6 795.6 2083.6 796.6 2084.6 797.7 2085.6 799.3 2086.6 802.1 2087.6 806.8 2088.6 812.6 2089.6 819.1 2090.6 825.7 2091.6 832.4 2092.6 836.7 2093.6 829.6 2094.6 823.1 2095.6 816.5 2096.6 810.1 2097.6 804.8 2098.6 800.7 2099.6 798.6 2100.6 797.3 2101.6 796.2 2102.6 795.2 2103.6 794.4 2104.6 793.8 2105.6 793.4 2106.6 793.1 2107.6 792.9 2108.6 792.9 2109.6 792.9 2110.6 792.9 2111.6 792.9 2112.6 792.9 2113.6 792.9 2114.6 792.9 2115.6 792.9 2116.6 792.9 2117.6 792.9 2118.6 792.9 2119.6 792.9 2120.6 792.9 2121.6 792.9 2122.6 792.9 2123.6 792.9 2124.6 792.9 2125.6 792.9 2126.6 792.9 2127.6 792.9 2128.6 792.9 2129.6 792.9 2130.6 792.9 2131.6 792.9 2132.6 792.9 2133.6 792.9 2134.6 792.9 2135.6 792.9 2136.6 792.9 2137.6 792.9 2138.6 792.9 2139.6 792.9 2140.6 792.9 2141.6 792.9 2142.6 792.9 2143.6 792.9 2144.6 793.0 2145.6 793.4 2146.6 794.1 2147.6 794.9 2148.6 796.0 2149.6 797.4 2150.6 798.8 2151.6 800.4 2152.6 802.1 2153.6 804.0 2154.6 805.5 2155.6 806.7 2156.6 807.3 2157.6 806.9 2158.6 805.9 2159.6 804.5 2160.6 802.6 2161.6 800.9 2162.6 799.3 2163.6 797.7 2164.6 796.1 2165.6 794.7 2166.6 794.0 2167.6 793.5 2168.6 793.1 2169.6 792.9 2170.6 792.9 2170.7 792.9 2170.7 792.9 2170.6 792.7 2169.6 792.3 2168.6 791.8 2167.6 791.1 2166.6 789.7 2165.6 788.1 2164.6 786.5 2163.6 784.9 2162.6 783.2 2161.6 781.3 2160.6 779.9 2159.6 778.9 2158.6 778.5 2157.6 779.1 2156.6 780.3 2155.6 781.8 2154.6 783.7 2153.6 785.4 2152.6 787.0 2151.6 788.4 2150.6 789.8 2149.6 790.9 2148.6 791.7 2147.6 792.4 2146.6 792.8 2145.6 792.9 2144.6 792.9 2143.6 792.9 2142.6 792.9 2141.6 792.9 2140.6 792.9 2139.6 792.9 2138.6 792.9 2137.6 792.9 2136.6 792.9 2135.6 792.9 2134.6 792.9 2133.6 792.9 2132.6 792.9 2131.6 792.9 2130.6 792.9 2129.6 792.9 2128.6 792.9 2127.6 792.9 2126.6 792.9 2125.6 792.9 2124.6 792.9 2123.6 792.9 2122.6 792.9 2121.6 792.9 2120.6 792.9 2119.6 792.9 2118.6 792.9 2117.6 792.9 2116.6 792.9 2115.6 792.9 2114.6 792.9 2113.6 792.9 2112.6 792.9 2111.6 792.9 2110.6 792.9 2109.6 792.9 2108.6 792.7 2107.6 792.4 2106.6 792.0 2105.6 791.4 2104.6 790.6 2103.6 789.6 2102.6 788.5 2101.6 787.2 2100.6 785.1 2099.6 781.0 2098.6 775.7 2097.6 769.3 2096.6 762.7 2095.6 756.2 2094.6 749.1 2093.6 753.4 2092.6 760.1 2091.6 766.7 2090.6 773.2 2089.6 779.0 2088.6 783.7 2087.6 786.5 2086.6 788.1 2085.6 789.2 2084.6 790.2 2083.6 791.2 2082.6 791.8 2081.6 792.2 2080.6 792.5 2079.6 792.7 2078.6 792.9 2077.6 792.9 2076.6 792.9 2075.6 792.9 2074.6 792.9 2073.6 792.9 2072.6 792.9 2071.6 792.9 2070.6 792.9 2069.6 792.9 2068.6 792.9 2067.6 792.9 2066.6 792.9 2065.6 792.9 2064.6 792.9 2063.6 792.9 2062.6 792.9 2061.6 792.9 2060.6 792.9 2059.6 792.9 2058.6 792.9 2057.6 792.9 2056.6 792.9 2055.6 792.9 2054.6 792.9 2053.6 792.9 2052.6 792.9 2051.6 792.9 2050.6 792.9 2049.6 792.9 2048.6 792.9 2047.6 792.9 2046.6 792.9 2045.6 792.9 2044.6 792.9 2043.6 792.9 2042.6 792.9 2041.6 792.9 2040.6 792.9 2039.6 792.9 2038.6 792.7 2037.6 792.3 2036.6 791.7 2035.6 790.7 2034.6 789.8 2033.6 789.2 2032.6 788.7 2031.6 788.3 2030.6 788.1 2029.6 788.0 2028.6 788.2 2027.6 788.6 2026.6 789.1 2025.6 789.6 2024.6 790.5 2023.6 791.5 2022.6 792.2 2021.6 792.6 2020.6 792.8 2019.6 792.9 2018.6 792.9 2017.6 792.9 2016.6 792.9 2015.6 792.9 2014.6 792.9 2013.6 792.9 2012.6 792.9 2011.6 792.9 2010.6 792.9 2009.6 792.9 2008.6 792.9 2007.6 792.9 2006.6 792.9 2005.6 792.9 2004.6 792.9 2003.6 792.9 2002.6 792.9 2001.6 792.9 2000.6 792.9 1999.6 792.9 1998.6 792.9 1997.6 792.9 1996.6 792.9 1995.6 792.9 1994.6 792.9 1993.6 792.9 1992.6 792.9 1991.6 792.9 1990.6 792.9 1989.6 792.9 1988.6 792.9 1987.6 792.9 1986.6 792.9 1985.6 792.9 1984.6 792.9 1983.6 792.9 1982.6 792.9 1981.6 792.9 1980.6 792.9 1979.6 792.9 1978.6 792.9 1977.6 792.9 1976.6 792.9 1975.6 792.9 1974.6 792.9 1973.6 792.9 1972.6 792.9 1971.6 792.9 1970.6 792.9 1969.6 792.9 1968.6 792.9 1967.6 792.9 1966.6 792.9 1965.6 792.9 1964.6 792.9 1963.6 792.9 1962.6 792.9 1961.6 792.9 1960.6 792.9 1959.6 792.9 1958.6 792.9 1957.6 792.9 1956.6 792.9 1955.6 792.9 1954.6 792.9 1953.6 792.9 1952.6 792.9 1951.6 792.9 1950.6 792.9 1949.6 792.9 1948.6 792.9 1947.6 792.9 1946.6 792.9 1945.6 792.9 1944.6 792.9 1943.6 792.9 1942.6 792.9 1941.6 792.9 1940.6 792.9 1939.6 792.9 1938.6 792.9 1937.6 792.9 1936.6 792.9 1935.6 792.9 1934.6 792.9 1933.6 792.9 1932.6 792.9 1931.6 792.9 1930.6 792.9 1929.6 792.9 1928.6 792.9 1927.6 792.9 1926.6 792.9 1925.6 792.9 1924.6 792.9 1923.6 792.9 1922.6 792.9 1921.6 792.9 1920.6 792.9 1919.6 792.9 1918.6 792.9 1917.6 792.9 1916.6 792.9 1915.6 792.9 1914.6 792.9 1913.6 792.9 1912.6 792.9 1911.6 792.8 1910.6 792.6 1909.6 792.1 1908.6 791.5 1907.6 790.8 1906.6 790.2 1905.6 789.5 1904.6 788.8 1903.6 788.3 1902.6 788.1 1901.6 788.0 1900.6 787.9 1899.6 788.0 1898.6 788.1 1897.6 788.4 1896.6 788.7 1895.6 789.2 1894.6 789.8 1893.6 790.8 1892.6 791.8 1891.6 792.5 1890.6 792.8 1889.6 792.9 1888.6 792.9 1887.6 792.9 1886.6Z" fill="none" stroke="#000" stroke-width="7.6" stroke-linejoin="round" stroke-linecap="round"/>
<line x1="898.1" y1="2093.3" x2="982.7" y2="2093.3" stroke="#000" stroke-width="2.8" stroke-dasharray="7 5.7"/>
<line x1="917.6" y1="2157.5" x2="963.21" y2="2157.5" stroke="#000" stroke-width="2.6" stroke-linecap="round" stroke-dasharray="0 7.6"/>
<path d="M940.4 2050.2 940.4 2051.2 940.4 2052.2 940.5 2053.2 940.5 2054.2 940.6 2055.2 940.7 2056.2 940.8 2057.2 941.0 2058.2 941.3 2059.2 941.5 2060.2 941.8 2061.2 942.2 2062.2 942.6 2063.2 943.2 2064.2 943.8 2065.2 944.6 2066.2 945.4 2067.2 946.5 2068.2 947.8 2069.2 949.4 2070.2 951.0 2071.2 952.6 2072.2 954.2 2073.2 955.8 2074.2 957.5 2075.2 959.1 2076.2 960.7 2077.2 962.2 2078.2 963.8 2079.2 965.5 2080.2 967.3 2081.2 969.1 2082.2 971.0 2083.2 973.1 2084.2 975.2 2085.2 977.1 2086.2 978.7 2087.2 980.2 2088.2 981.6 2089.2 982.9 2090.2 983.9 2091.2 984.6 2092.2 984.7 2093.2 984.2 2094.2 983.4 2095.2 982.3 2096.2 981.2 2097.2 979.9 2098.2 978.3 2099.2 976.5 2100.2 974.8 2101.2 973.0 2102.2 971.1 2103.2 969.2 2104.2 967.3 2105.2 965.3 2106.2 963.3 2107.2 961.3 2108.2 959.2 2109.2 957.2 2110.2 955.2 2111.2 953.5 2112.2 951.8 2113.2 950.2 2114.2 948.9 2115.2 947.6 2116.2 946.5 2117.2 945.5 2118.2 944.8 2119.2 944.2 2120.2 943.8 2121.2 943.4 2122.2 943.0 2123.2 942.8 2124.2 942.6 2125.2 942.6 2126.2 942.7 2127.2 942.9 2128.2 943.2 2129.2 943.6 2130.2 944.0 2131.2 944.5 2132.2 945.2 2133.2 946.4 2134.2 948.0 2135.2 949.7 2136.2 951.5 2137.2 953.1 2138.2 954.7 2139.2 956.4 2140.2 958.0 2141.2 959.5 2142.2 960.8 2143.2 962.2 2144.2 963.6 2145.2 965.0 2146.2 966.5 2147.2 967.8 2148.2 969.0 2149.2 970.1 2150.2 971.1 2151.2 971.9 2152.2 972.5 2153.2 973.0 2154.2 973.5 2155.2 973.8 2156.2 974.0 2157.2 974.0 2158.2 973.7 2159.2 973.4 2160.2 972.9 2161.2 972.3 2162.2 971.7 2163.2 970.7 2164.2 969.5 2165.2 968.0 2166.2 966.5 2167.2 964.7 2168.2 962.7 2169.2 960.8 2170.2 959.0 2171.2 957.2 2172.2 955.4 2173.2 953.7 2174.2 952.0 2175.2 950.4 2176.2 949.0 2177.2 947.8 2178.2 946.7 2179.2 945.7 2180.2 944.9 2181.2 944.3 2182.2 943.7 2183.2 943.2 2184.2 942.8 2185.2 942.4 2186.2 942.1 2187.2 941.8 2188.2 941.5 2189.2 941.3 2190.2 941.0 2191.2 940.8 2192.2 940.7 2193.2 940.6 2194.2 940.5 2195.2 940.5 2196.2 940.4 2197.2 940.4 2198.2 940.4 2199.2 940.4 2200.2 940.4 2200.9 940.4 2200.9 940.4 2200.2 940.4 2199.2 940.4 2198.2 940.4 2197.2 940.3 2196.2 940.3 2195.2 940.2 2194.2 940.1 2193.2 940.0 2192.2 939.8 2191.2 939.5 2190.2 939.3 2189.2 939.0 2188.2 938.7 2187.2 938.4 2186.2 938.0 2185.2 937.6 2184.2 937.1 2183.2 936.5 2182.2 935.9 2181.2 935.1 2180.2 934.1 2179.2 933.0 2178.2 931.8 2177.2 930.4 2176.2 928.8 2175.2 927.1 2174.2 925.4 2173.2 923.6 2172.2 921.8 2171.2 920.0 2170.2 918.1 2169.2 916.1 2168.2 914.3 2167.2 912.8 2166.2 911.3 2165.2 910.1 2164.2 909.1 2163.2 908.5 2162.2 907.9 2161.2 907.4 2160.2 907.1 2159.2 906.8 2158.2 906.8 2157.2 907.0 2156.2 907.3 2155.2 907.8 2154.2 908.3 2153.2 908.9 2152.2 909.7 2151.2 910.7 2150.2 911.8 2149.2 913.0 2148.2 914.3 2147.2 915.8 2146.2 917.2 2145.2 918.6 2144.2 920.0 2143.2 921.3 2142.2 922.8 2141.2 924.4 2140.2 926.1 2139.2 927.7 2138.2 929.3 2137.2 931.1 2136.2 932.8 2135.2 934.4 2134.2 935.6 2133.2 936.3 2132.2 936.8 2131.2 937.2 2130.2 937.6 2129.2 937.9 2128.2 938.1 2127.2 938.2 2126.2 938.2 2125.2 938.0 2124.2 937.8 2123.2 937.4 2122.2 937.0 2121.2 936.6 2120.2 936.0 2119.2 935.3 2118.2 934.3 2117.2 933.2 2116.2 931.9 2115.2 930.6 2114.2 929.0 2113.2 927.3 2112.2 925.6 2111.2 923.6 2110.2 921.6 2109.2 919.5 2108.2 917.5 2107.2 915.5 2106.2 913.5 2105.2 911.6 2104.2 909.7 2103.2 907.8 2102.2 906.0 2101.2 904.3 2100.2 902.5 2099.2 900.9 2098.2 899.6 2097.2 898.5 2096.2 897.4 2095.2 896.6 2094.2 896.1 2093.2 896.2 2092.2 896.9 2091.2 897.9 2090.2 899.2 2089.2 900.6 2088.2 902.1 2087.2 903.7 2086.2 905.6 2085.2 907.7 2084.2 909.8 2083.2 911.7 2082.2 913.5 2081.2 915.3 2080.2 917.0 2079.2 918.6 2078.2 920.1 2077.2 921.7 2076.2 923.3 2075.2 925.0 2074.2 926.6 2073.2 928.2 2072.2 929.8 2071.2 931.4 2070.2 933.0 2069.2 934.3 2068.2 935.4 2067.2 936.2 2066.2 937.0 2065.2 937.6 2064.2 938.2 2063.2 938.6 2062.2 939.0 2061.2 939.3 2060.2 939.5 2059.2 939.8 2058.2 940.0 2057.2 940.1 2056.2 940.2 2055.2 940.3 2054.2 940.3 2053.2 940.4 2052.2 940.4 2051.2 940.4 2050.2Z" fill="none" stroke="#000" stroke-width="7.6" stroke-linejoin="round" stroke-linecap="round"/>
<text transform="translate(793.20 2350.20) scale(0.975 1)" font-family="'Liberation Sans', Arial, sans-serif" font-size="40.8" font-weight="bold" text-anchor="middle" >GG</text>
<text transform="translate(940.50 2350.20) scale(0.975 1)" font-family="'Liberation Sans', Arial, sans-serif" font-size="40.8" font-weight="bold" text-anchor="middle" >GC</text>
<line x1="786.9" y1="1833.0" x2="948.4" y2="1833.0" stroke="#000" stroke-width="3.3" />
<text transform="translate(867.30 1817.50) scale(1.018 1)" font-family="'Liberation Sans', Arial, sans-serif" font-size="35.9" text-anchor="middle" >NC</text>
<text transform="translate(599.50 2028.80) rotate(-90) scale(0.980 1)" font-family="'Liberation Sans', Arial, sans-serif" font-size="43" font-weight="bold" text-anchor="middle" >Biologics switch (times)</text>
<line x1="1195.1" y1="1778.0" x2="1195.1" y2="2290.9" stroke="#000" stroke-width="5.1" />
<line x1="1173.2" y1="2288.3" x2="1537.0" y2="2288.3" stroke="#000" stroke-width="5.1" />
<line x1="1173.2" y1="1779.2" x2="1195.1" y2="1779.2" stroke="#000" stroke-width="5.1" />
<text transform="translate(1168.00 1793.24)" font-family="'Liberation Sans', Arial, sans-serif" font-size="39" font-weight="bold" text-anchor="end" >40</text>
<line x1="1173.2" y1="1881.0" x2="1195.1" y2="1881.0" stroke="#000" stroke-width="5.1" />
<text transform="translate(1168.00 1895.04)" font-family="'Liberation Sans', Arial, sans-serif" font-size="39" font-weight="bold" text-anchor="end" >30</text>
<line x1="1173.2" y1="1982.8" x2="1195.1" y2="1982.8" stroke="#000" stroke-width="5.1" />
<text transform="translate(1168.00 1996.84)" font-family="'Liberation Sans', Arial, sans-serif" font-size="39" font-weight="bold" text-anchor="end" >20</text>
<line x1="1173.2" y1="2084.6" x2="1195.1" y2="2084.6" stroke="#000" stroke-width="5.1" />
<text transform="translate(1168.00 2098.64)" font-family="'Liberation Sans', Arial, sans-serif" font-size="39" font-weight="bold" text-anchor="end" >10</text>
<line x1="1173.2" y1="2186.4" x2="1195.1" y2="2186.4" stroke="#000" stroke-width="5.1" />
<text transform="translate(1168.00 2200.44)" font-family="'Liberation Sans', Arial, sans-serif" font-size="39" font-weight="bold" text-anchor="end" >0</text>
<line x1="1173.2" y1="2288.2" x2="1195.1" y2="2288.2" stroke="#000" stroke-width="5.1" />
<text transform="translate(1168.00 2302.24)" font-family="'Liberation Sans', Arial, sans-serif" font-size="39" font-weight="bold" text-anchor="end" >-10</text>
<line x1="1290.9" y1="2288.3" x2="1290.9" y2="2309.5" stroke="#000" stroke-width="5.1" />
<line x1="1436.3" y1="2288.3" x2="1436.3" y2="2309.5" stroke="#000" stroke-width="5.1" />
<path d="M1291.3 1860.2 1291.3 1861.2 1291.3 1862.2 1291.3 1863.2 1291.3 1864.2 1291.3 1865.2 1291.3 1866.2 1291.3 1867.2 1291.3 1868.2 1291.3 1869.2 1291.3 1870.2 1291.3 1871.2 1291.3 1872.2 1291.3 1873.2 1291.3 1874.2 1291.3 1875.2 1291.3 1876.2 1291.3 1877.2 1291.3 1878.2 1291.4 1879.2 1291.4 1880.2 1291.4 1881.2 1291.4 1882.2 1291.4 1883.2 1291.5 1884.2 1291.5 1885.2 1291.5 1886.2 1291.6 1887.2 1291.6 1888.2 1291.7 1889.2 1291.9 1890.2 1292.0 1891.2 1292.1 1892.2 1292.2 1893.2 1292.4 1894.2 1292.6 1895.2 1292.8 1896.2 1293.0 1897.2 1293.2 1898.2 1293.5 1899.2 1293.6 1900.2 1293.8 1901.2 1293.9 1902.2 1294.1 1903.2 1294.2 1904.2 1294.4 1905.2 1294.5 1906.2 1294.7 1907.2 1294.9 1908.2 1295.1 1909.2 1295.3 1910.2 1295.5 1911.2 1295.7 1912.2 1295.9 1913.2 1296.1 1914.2 1296.3 1915.2 1296.5 1916.2 1296.7 1917.2 1296.9 1918.2 1297.1 1919.2 1297.3 1920.2 1297.5 1921.2 1297.6 1922.2 1297.7 1923.2 1297.9 1924.2 1298.0 1925.2 1298.1 1926.2 1298.2 1927.2 1298.3 1928.2 1298.3 1929.2 1298.4 1930.2 1298.5 1931.2 1298.5 1932.2 1298.5 1933.2 1298.4 1934.2 1298.3 1935.2 1298.3 1936.2 1298.2 1937.2 1298.0 1938.2 1297.9 1939.2 1297.7 1940.2 1297.5 1941.2 1297.3 1942.2 1297.1 1943.2 1297.0 1944.2 1296.8 1945.2 1296.6 1946.2 1296.4 1947.2 1296.2 1948.2 1296.0 1949.2 1295.8 1950.2 1295.6 1951.2 1295.4 1952.2 1295.3 1953.2 1295.1 1954.2 1295.0 1955.2 1294.8 1956.2 1294.7 1957.2 1294.6 1958.2 1294.5 1959.2 1294.4 1960.2 1294.2 1961.2 1294.1 1962.2 1293.9 1963.2 1293.8 1964.2 1293.6 1965.2 1293.4 1966.2 1293.2 1967.2 1293.1 1968.2 1292.9 1969.2 1292.8 1970.2 1292.6 1971.2 1292.4 1972.2 1292.3 1973.2 1292.1 1974.2 1292.0 1975.2 1291.9 1976.2 1291.8 1977.2 1291.8 1978.2 1291.7 1979.2 1291.6 1980.2 1291.6 1981.2 1291.5 1982.2 1291.5 1983.2 1291.5 1984.2 1291.5 1985.2 1291.5 1986.2 1291.5 1987.2 1291.5 1988.2 1291.5 1989.2 1291.5 1990.2 1291.5 1991.2 1291.5 1992.2 1291.5 1993.2 1291.5 1994.2 1291.5 1995.2 1291.5 1996.2 1291.5 1997.2 1291.5 1998.2 1291.5 1999.2 1291.5 2000.2 1291.5 2001.2 1291.5 2002.2 1291.5 2003.2 1291.5 2004.2 1291.5 2005.2 1291.6 2006.2 1291.7 2007.2 1291.9 2008.2 1292.2 2009.2 1292.5 2010.2 1292.7 2011.2 1293.0 2012.2 1293.3 2013.2 1293.5 2014.2 1293.8 2015.2 1294.1 2016.2 1294.4 2017.2 1294.7 2018.2 1295.1 2019.2 1295.4 2020.2 1295.8 2021.2 1296.2 2022.2 1296.6 2023.2 1297.0 2024.2 1297.4 2025.2 1297.9 2026.2 1298.3 2027.2 1298.7 2028.2 1299.2 2029.2 1299.6 2030.2 1300.1 2031.2 1300.5 2032.2 1301.0 2033.2 1301.5 2034.2 1302.0 2035.2 1302.6 2036.2 1303.1 2037.2 1303.7 2038.2 1304.3 2039.2 1304.9 2040.2 1305.4 2041.2 1306.0 2042.2 1306.6 2043.2 1307.2 2044.2 1307.8 2045.2 1308.4 2046.2 1309.0 2047.2 1309.6 2048.2 1310.2 2049.2 1310.8 2050.2 1311.4 2051.2 1312.0 2052.2 1312.6 2053.2 1313.2 2054.2 1313.8 2055.2 1314.3 2056.2 1314.8 2057.2 1315.2 2058.2 1315.7 2059.2 1316.2 2060.2 1316.7 2061.2 1317.3 2062.2 1318.0 2063.2 1318.8 2064.2 1319.6 2065.2 1320.4 2066.2 1320.9 2067.2 1321.4 2068.2 1321.9 2069.2 1322.3 2070.2 1322.7 2071.2 1323.0 2072.2 1323.3 2073.2 1323.4 2074.2 1323.5 2075.2 1323.5 2076.2 1323.6 2077.2 1323.6 2078.2 1323.7 2079.2 1323.7 2080.2 1323.7 2081.2 1323.7 2082.2 1323.6 2083.2 1323.5 2084.2 1323.4 2085.2 1323.2 2086.2 1323.0 2087.2 1322.8 2088.2 1322.6 2089.2 1322.3 2090.2 1321.9 2091.2 1321.4 2092.2 1321.0 2093.2 1320.5 2094.2 1320.0 2095.2 1319.6 2096.2 1319.1 2097.2 1318.6 2098.2 1318.1 2099.2 1317.6 2100.2 1317.1 2101.2 1316.6 2102.2 1316.0 2103.2 1315.5 2104.2 1314.9 2105.2 1314.4 2106.2 1313.8 2107.2 1313.3 2108.2 1312.9 2109.2 1312.7 2110.2 1312.4 2111.2 1312.2 2112.2 1312.0 2113.2 1311.8 2114.2 1311.7 2115.2 1311.6 2116.2 1311.6 2117.2 1311.6 2118.2 1311.6 2119.2 1311.6 2120.2 1311.6 2121.2 1311.9 2122.2 1312.2 2123.2 1312.7 2124.2 1313.1 2125.2 1313.5 2126.2 1314.0 2127.2 1314.6 2128.2 1315.2 2129.2 1315.8 2130.2 1316.4 2131.2 1317.1 2132.2 1317.8 2133.2 1318.6 2134.2 1319.4 2135.2 1320.3 2136.2 1321.1 2137.2 1322.0 2138.2 1322.8 2139.2 1323.6 2140.2 1324.4 2141.2 1325.3 2142.2 1326.1 2143.2 1326.8 2144.2 1327.6 2145.2 1328.3 2146.2 1328.9 2147.2 1329.6 2148.2 1330.2 2149.2 1330.9 2150.2 1331.4 2151.2 1332.0 2152.2 1332.4 2153.2 1332.9 2154.2 1333.5 2155.2 1333.9 2156.2 1334.4 2157.2 1334.7 2158.2 1335.0 2159.2 1335.1 2160.2 1335.1 2161.2 1335.2 2162.2 1335.2 2163.2 1335.2 2164.2 1335.0 2165.2 1334.5 2166.2 1334.1 2167.2 1333.5 2168.2 1332.8 2169.2 1331.9 2170.2 1331.0 2171.2 1330.1 2172.2 1329.1 2173.2 1328.1 2174.2 1327.1 2175.2 1326.1 2176.2 1325.0 2177.2 1323.9 2178.2 1322.7 2179.2 1321.6 2180.2 1320.4 2181.2 1319.3 2182.2 1318.1 2183.2 1316.9 2184.2 1315.7 2185.2 1314.4 2186.2 1313.2 2187.2 1312.1 2188.2 1310.9 2189.2 1309.7 2190.2 1308.6 2191.2 1307.4 2192.2 1306.3 2193.2 1305.2 2194.2 1304.2 2195.2 1303.2 2196.2 1302.2 2197.2 1301.2 2198.2 1300.2 2199.2 1299.3 2200.2 1298.4 2201.2 1297.7 2202.2 1297.1 2203.2 1296.7 2204.2 1296.2 2205.2 1295.9 2206.2 1295.5 2207.2 1295.2 2208.2 1294.9 2209.2 1294.6 2210.2 1294.4 2211.2 1294.1 2212.2 1293.9 2213.2 1293.6 2214.2 1293.4 2215.2 1293.2 2216.2 1293.0 2217.2 1292.8 2218.2 1292.6 2219.2 1292.5 2220.2 1292.3 2221.2 1292.2 2222.2 1292.0 2223.2 1291.9 2224.2 1291.8 2225.2 1291.7 2226.2 1291.6 2227.2 1291.5 2228.2 1291.5 2229.2 1291.4 2230.2 1291.4 2231.2 1291.4 2232.2 1291.4 2233.2 1291.4 2234.2 1291.3 2235.2 1291.3 2236.2 1291.3 2237.2 1291.3 2238.2 1291.3 2239.2 1291.3 2240.2 1291.3 2241.2 1291.3 2242.2 1291.3 2243.2 1291.3 2243.8 1291.3 2243.8 1291.3 2243.2 1291.3 2242.2 1291.3 2241.2 1291.3 2240.2 1291.3 2239.2 1291.3 2238.2 1291.3 2237.2 1291.3 2236.2 1291.3 2235.2 1291.2 2234.2 1291.2 2233.2 1291.2 2232.2 1291.2 2231.2 1291.2 2230.2 1291.1 2229.2 1291.1 2228.2 1291.0 2227.2 1290.9 2226.2 1290.8 2225.2 1290.7 2224.2 1290.6 2223.2 1290.4 2222.2 1290.3 2221.2 1290.1 2220.2 1290.0 2219.2 1289.8 2218.2 1289.6 2217.2 1289.4 2216.2 1289.2 2215.2 1289.0 2214.2 1288.7 2213.2 1288.5 2212.2 1288.2 2211.2 1288.0 2210.2 1287.7 2209.2 1287.4 2208.2 1287.1 2207.2 1286.7 2206.2 1286.4 2205.2 1285.9 2204.2 1285.5 2203.2 1284.9 2202.2 1284.2 2201.2 1283.3 2200.2 1282.4 2199.2 1281.4 2198.2 1280.4 2197.2 1279.4 2196.2 1278.4 2195.2 1277.4 2194.2 1276.3 2193.2 1275.2 2192.2 1274.0 2191.2 1272.9 2190.2 1271.7 2189.2 1270.5 2188.2 1269.4 2187.2 1268.2 2186.2 1266.9 2185.2 1265.7 2184.2 1264.5 2183.2 1263.3 2182.2 1262.2 2181.2 1261.0 2180.2 1259.9 2179.2 1258.7 2178.2 1257.6 2177.2 1256.5 2176.2 1255.5 2175.2 1254.5 2174.2 1253.5 2173.2 1252.5 2172.2 1251.6 2171.2 1250.7 2170.2 1249.8 2169.2 1249.1 2168.2 1248.5 2167.2 1248.1 2166.2 1247.6 2165.2 1247.4 2164.2 1247.4 2163.2 1247.4 2162.2 1247.5 2161.2 1247.5 2160.2 1247.6 2159.2 1247.9 2158.2 1248.2 2157.2 1248.7 2156.2 1249.1 2155.2 1249.7 2154.2 1250.2 2153.2 1250.6 2152.2 1251.2 2151.2 1251.7 2150.2 1252.4 2149.2 1253.0 2148.2 1253.7 2147.2 1254.3 2146.2 1255.0 2145.2 1255.8 2144.2 1256.5 2143.2 1257.3 2142.2 1258.2 2141.2 1259.0 2140.2 1259.8 2139.2 1260.6 2138.2 1261.5 2137.2 1262.3 2136.2 1263.2 2135.2 1264.0 2134.2 1264.8 2133.2 1265.5 2132.2 1266.2 2131.2 1266.8 2130.2 1267.4 2129.2 1268.0 2128.2 1268.6 2127.2 1269.1 2126.2 1269.5 2125.2 1269.9 2124.2 1270.4 2123.2 1270.7 2122.2 1271.0 2121.2 1271.0 2120.2 1271.0 2119.2 1271.0 2118.2 1271.0 2117.2 1271.0 2116.2 1270.9 2115.2 1270.8 2114.2 1270.6 2113.2 1270.4 2112.2 1270.2 2111.2 1269.9 2110.2 1269.7 2109.2 1269.3 2108.2 1268.8 2107.2 1268.2 2106.2 1267.7 2105.2 1267.1 2104.2 1266.6 2103.2 1266.0 2102.2 1265.5 2101.2 1265.0 2100.2 1264.5 2099.2 1264.0 2098.2 1263.5 2097.2 1263.0 2096.2 1262.6 2095.2 1262.1 2094.2 1261.6 2093.2 1261.2 2092.2 1260.7 2091.2 1260.3 2090.2 1260.0 2089.2 1259.8 2088.2 1259.6 2087.2 1259.4 2086.2 1259.2 2085.2 1259.1 2084.2 1259.0 2083.2 1258.9 2082.2 1258.9 2081.2 1258.9 2080.2 1258.9 2079.2 1259.0 2078.2 1259.0 2077.2 1259.1 2076.2 1259.1 2075.2 1259.2 2074.2 1259.3 2073.2 1259.6 2072.2 1259.9 2071.2 1260.3 2070.2 1260.7 2069.2 1261.2 2068.2 1261.7 2067.2 1262.2 2066.2 1263.0 2065.2 1263.8 2064.2 1264.6 2063.2 1265.3 2062.2 1265.9 2061.2 1266.4 2060.2 1266.9 2059.2 1267.4 2058.2 1267.8 2057.2 1268.3 2056.2 1268.8 2055.2 1269.4 2054.2 1270.0 2053.2 1270.6 2052.2 1271.2 2051.2 1271.8 2050.2 1272.4 2049.2 1273.0 2048.2 1273.6 2047.2 1274.2 2046.2 1274.8 2045.2 1275.4 2044.2 1276.0 2043.2 1276.6 2042.2 1277.2 2041.2 1277.7 2040.2 1278.3 2039.2 1278.9 2038.2 1279.5 2037.2 1280.0 2036.2 1280.6 2035.2 1281.1 2034.2 1281.6 2033.2 1282.1 2032.2 1282.5 2031.2 1283.0 2030.2 1283.4 2029.2 1283.9 2028.2 1284.3 2027.2 1284.7 2026.2 1285.2 2025.2 1285.6 2024.2 1286.0 2023.2 1286.4 2022.2 1286.8 2021.2 1287.2 2020.2 1287.5 2019.2 1287.9 2018.2 1288.2 2017.2 1288.5 2016.2 1288.8 2015.2 1289.1 2014.2 1289.3 2013.2 1289.6 2012.2 1289.9 2011.2 1290.1 2010.2 1290.4 2009.2 1290.7 2008.2 1290.9 2007.2 1291.0 2006.2 1291.1 2005.2 1291.1 2004.2 1291.1 2003.2 1291.1 2002.2 1291.1 2001.2 1291.1 2000.2 1291.1 1999.2 1291.1 1998.2 1291.1 1997.2 1291.1 1996.2 1291.1 1995.2 1291.1 1994.2 1291.1 1993.2 1291.1 1992.2 1291.1 1991.2 1291.1 1990.2 1291.1 1989.2 1291.1 1988.2 1291.1 1987.2 1291.1 1986.2 1291.1 1985.2 1291.1 1984.2 1291.1 1983.2 1291.1 1982.2 1291.0 1981.2 1291.0 1980.2 1290.9 1979.2 1290.8 1978.2 1290.8 1977.2 1290.7 1976.2 1290.6 1975.2 1290.5 1974.2 1290.3 1973.2 1290.2 1972.2 1290.0 1971.2 1289.8 1970.2 1289.7 1969.2 1289.5 1968.2 1289.4 1967.2 1289.2 1966.2 1289.0 1965.2 1288.8 1964.2 1288.7 1963.2 1288.5 1962.2 1288.4 1961.2 1288.2 1960.2 1288.1 1959.2 1288.0 1958.2 1287.9 1957.2 1287.8 1956.2 1287.6 1955.2 1287.5 1954.2 1287.3 1953.2 1287.2 1952.2 1287.0 1951.2 1286.8 1950.2 1286.6 1949.2 1286.4 1948.2 1286.2 1947.2 1286.0 1946.2 1285.8 1945.2 1285.6 1944.2 1285.5 1943.2 1285.3 1942.2 1285.1 1941.2 1284.9 1940.2 1284.7 1939.2 1284.6 1938.2 1284.4 1937.2 1284.3 1936.2 1284.3 1935.2 1284.2 1934.2 1284.1 1933.2 1284.1 1932.2 1284.1 1931.2 1284.2 1930.2 1284.3 1929.2 1284.3 1928.2 1284.4 1927.2 1284.5 1926.2 1284.6 1925.2 1284.7 1924.2 1284.9 1923.2 1285.0 1922.2 1285.1 1921.2 1285.3 1920.2 1285.5 1919.2 1285.7 1918.2 1285.9 1917.2 1286.1 1916.2 1286.3 1915.2 1286.5 1914.2 1286.7 1913.2 1286.9 1912.2 1287.1 1911.2 1287.3 1910.2 1287.5 1909.2 1287.7 1908.2 1287.9 1907.2 1288.1 1906.2 1288.2 1905.2 1288.4 1904.2 1288.5 1903.2 1288.7 1902.2 1288.8 1901.2 1289.0 1900.2 1289.1 1899.2 1289.4 1898.2 1289.6 1897.2 1289.8 1896.2 1290.0 1895.2 1290.2 1894.2 1290.4 1893.2 1290.5 1892.2 1290.6 1891.2 1290.7 1890.2 1290.9 1889.2 1291.0 1888.2 1291.0 1887.2 1291.1 1886.2 1291.1 1885.2 1291.1 1884.2 1291.2 1883.2 1291.2 1882.2 1291.2 1881.2 1291.2 1880.2 1291.2 1879.2 1291.3 1878.2 1291.3 1877.2 1291.3 1876.2 1291.3 1875.2 1291.3 1874.2 1291.3 1873.2 1291.3 1872.2 1291.3 1871.2 1291.3 1870.2 1291.3 1869.2 1291.3 1868.2 1291.3 1867.2 1291.3 1866.2 1291.3 1865.2 1291.3 1864.2 1291.3 1863.2 1291.3 1862.2 1291.3 1861.2 1291.3 1860.2Z" fill="#7f7f7f"/>
<path d="M1436.6 2039.5 1436.6 2040.5 1436.6 2041.5 1436.7 2042.5 1436.7 2043.5 1436.8 2044.5 1436.9 2045.5 1437.1 2046.5 1437.4 2047.5 1437.6 2048.5 1437.9 2049.5 1438.3 2050.5 1438.6 2051.5 1439.0 2052.5 1439.5 2053.5 1440.1 2054.5 1440.7 2055.5 1441.4 2056.5 1442.1 2057.5 1442.8 2058.5 1443.6 2059.5 1444.5 2060.5 1445.4 2061.5 1446.4 2062.5 1447.4 2063.5 1448.3 2064.5 1449.1 2065.5 1449.9 2066.5 1450.7 2067.5 1451.5 2068.5 1452.3 2069.5 1452.9 2070.5 1453.5 2071.5 1453.8 2072.5 1454.0 2073.5 1454.1 2074.5 1454.2 2075.5 1454.3 2076.5 1454.4 2077.5 1454.5 2078.5 1454.5 2079.5 1454.7 2080.5 1454.8 2081.5 1454.9 2082.5 1455.0 2083.5 1455.2 2084.5 1455.3 2085.5 1455.5 2086.5 1455.8 2087.5 1456.1 2088.5 1456.6 2089.5 1457.1 2090.5 1457.7 2091.5 1458.3 2092.5 1458.8 2093.5 1459.4 2094.5 1460.0 2095.5 1460.5 2096.5 1461.1 2097.5 1461.7 2098.5 1462.3 2099.5 1463.0 2100.5 1463.6 2101.5 1464.3 2102.5 1464.9 2103.5 1465.6 2104.5 1466.3 2105.5 1467.0 2106.5 1467.8 2107.5 1468.5 2108.5 1469.4 2109.5 1470.3 2110.5 1471.2 2111.5 1472.2 2112.5 1473.2 2113.5 1474.0 2114.5 1474.8 2115.5 1475.5 2116.5 1476.2 2117.5 1476.8 2118.5 1477.5 2119.5 1478.0 2120.5 1478.4 2121.5 1478.6 2122.5 1478.6 2123.5 1478.6 2124.5 1478.6 2125.5 1478.5 2126.5 1478.1 2127.5 1477.6 2128.5 1477.2 2129.5 1476.7 2130.5 1476.1 2131.5 1475.5 2132.5 1474.9 2133.5 1474.5 2134.5 1474.3 2135.5 1474.4 2136.5 1474.7 2137.5 1475.2 2138.5 1475.8 2139.5 1476.4 2140.5 1477.1 2141.5 1477.7 2142.5 1478.2 2143.5 1478.8 2144.5 1479.5 2145.5 1480.1 2146.5 1480.5 2147.5 1480.7 2148.5 1480.6 2149.5 1480.3 2150.5 1479.9 2151.5 1479.3 2152.5 1478.7 2153.5 1477.9 2154.5 1476.7 2155.5 1475.3 2156.5 1473.8 2157.5 1472.0 2158.5 1470.0 2159.5 1467.8 2160.5 1465.7 2161.5 1463.5 2162.5 1461.2 2163.5 1458.8 2164.5 1456.5 2165.5 1454.1 2166.5 1451.7 2167.5 1449.1 2168.5 1446.0 2169.5 1443.1 2170.5 1441.4 2171.5 1440.6 2172.5 1439.8 2173.5 1439.3 2174.5 1438.8 2175.5 1438.4 2176.5 1438.1 2177.5 1437.8 2178.5 1437.6 2179.5 1437.4 2180.5 1437.3 2181.5 1437.1 2182.5 1437.0 2183.5 1436.9 2184.5 1436.8 2185.5 1436.8 2186.5 1436.7 2187.5 1436.7 2188.5 1436.6 2189.5 1436.6 2190.5 1436.6 2190.9 1436.6 2190.9 1436.6 2190.5 1436.6 2189.5 1436.5 2188.5 1436.5 2187.5 1436.4 2186.5 1436.4 2185.5 1436.3 2184.5 1436.2 2183.5 1436.1 2182.5 1435.9 2181.5 1435.8 2180.5 1435.6 2179.5 1435.4 2178.5 1435.1 2177.5 1434.8 2176.5 1434.4 2175.5 1433.9 2174.5 1433.4 2173.5 1432.6 2172.5 1431.8 2171.5 1430.1 2170.5 1427.2 2169.5 1424.1 2168.5 1421.5 2167.5 1419.1 2166.5 1416.7 2165.5 1414.4 2164.5 1412.0 2163.5 1409.7 2162.5 1407.5 2161.5 1405.4 2160.5 1403.2 2159.5 1401.2 2158.5 1399.4 2157.5 1397.9 2156.5 1396.5 2155.5 1395.3 2154.5 1394.5 2153.5 1393.9 2152.5 1393.3 2151.5 1392.9 2150.5 1392.6 2149.5 1392.5 2148.5 1392.7 2147.5 1393.1 2146.5 1393.7 2145.5 1394.4 2144.5 1395.0 2143.5 1395.5 2142.5 1396.1 2141.5 1396.8 2140.5 1397.4 2139.5 1398.0 2138.5 1398.5 2137.5 1398.8 2136.5 1398.9 2135.5 1398.7 2134.5 1398.3 2133.5 1397.7 2132.5 1397.1 2131.5 1396.5 2130.5 1396.0 2129.5 1395.6 2128.5 1395.1 2127.5 1394.7 2126.5 1394.6 2125.5 1394.6 2124.5 1394.6 2123.5 1394.6 2122.5 1394.8 2121.5 1395.2 2120.5 1395.7 2119.5 1396.4 2118.5 1397.0 2117.5 1397.7 2116.5 1398.4 2115.5 1399.2 2114.5 1400.0 2113.5 1401.0 2112.5 1402.0 2111.5 1402.9 2110.5 1403.8 2109.5 1404.7 2108.5 1405.4 2107.5 1406.2 2106.5 1406.9 2105.5 1407.6 2104.5 1408.3 2103.5 1408.9 2102.5 1409.6 2101.5 1410.2 2100.5 1410.9 2099.5 1411.5 2098.5 1412.1 2097.5 1412.7 2096.5 1413.2 2095.5 1413.8 2094.5 1414.4 2093.5 1414.9 2092.5 1415.5 2091.5 1416.1 2090.5 1416.6 2089.5 1417.1 2088.5 1417.4 2087.5 1417.7 2086.5 1417.9 2085.5 1418.0 2084.5 1418.2 2083.5 1418.3 2082.5 1418.4 2081.5 1418.5 2080.5 1418.7 2079.5 1418.7 2078.5 1418.8 2077.5 1418.9 2076.5 1419.0 2075.5 1419.1 2074.5 1419.2 2073.5 1419.4 2072.5 1419.7 2071.5 1420.3 2070.5 1420.9 2069.5 1421.7 2068.5 1422.5 2067.5 1423.3 2066.5 1424.1 2065.5 1424.9 2064.5 1425.8 2063.5 1426.8 2062.5 1427.8 2061.5 1428.7 2060.5 1429.6 2059.5 1430.4 2058.5 1431.1 2057.5 1431.8 2056.5 1432.5 2055.5 1433.1 2054.5 1433.7 2053.5 1434.2 2052.5 1434.6 2051.5 1434.9 2050.5 1435.3 2049.5 1435.6 2048.5 1435.8 2047.5 1436.1 2046.5 1436.3 2045.5 1436.4 2044.5 1436.5 2043.5 1436.5 2042.5 1436.6 2041.5 1436.6 2040.5 1436.6 2039.5Z" fill="#a1a0a5"/>
<line x1="1210.2" y1="2186.4" x2="1537.0" y2="2186.4" stroke="#000" stroke-width="5.1" stroke-linecap="round" stroke-dasharray="0 15.23"/>
<line x1="1268.5" y1="2073.1" x2="1314.11" y2="2073.1" stroke="#000" stroke-width="2.6" stroke-linecap="round" stroke-dasharray="0 7.6"/>
<line x1="1273.0" y1="2119.2" x2="1309.6" y2="2119.2" stroke="#000" stroke-width="2.8" stroke-dasharray="7 5.7"/>
<line x1="1257.1" y1="2164.7" x2="1325.51" y2="2164.7" stroke="#000" stroke-width="2.6" stroke-linecap="round" stroke-dasharray="0 7.6"/>
<path d="M1291.3 1860.2 1291.3 1861.2 1291.3 1862.2 1291.3 1863.2 1291.3 1864.2 1291.3 1865.2 1291.3 1866.2 1291.3 1867.2 1291.3 1868.2 1291.3 1869.2 1291.3 1870.2 1291.3 1871.2 1291.3 1872.2 1291.3 1873.2 1291.3 1874.2 1291.3 1875.2 1291.3 1876.2 1291.3 1877.2 1291.3 1878.2 1291.4 1879.2 1291.4 1880.2 1291.4 1881.2 1291.4 1882.2 1291.4 1883.2 1291.5 1884.2 1291.5 1885.2 1291.5 1886.2 1291.6 1887.2 1291.6 1888.2 1291.7 1889.2 1291.9 1890.2 1292.0 1891.2 1292.1 1892.2 1292.2 1893.2 1292.4 1894.2 1292.6 1895.2 1292.8 1896.2 1293.0 1897.2 1293.2 1898.2 1293.5 1899.2 1293.6 1900.2 1293.8 1901.2 1293.9 1902.2 1294.1 1903.2 1294.2 1904.2 1294.4 1905.2 1294.5 1906.2 1294.7 1907.2 1294.9 1908.2 1295.1 1909.2 1295.3 1910.2 1295.5 1911.2 1295.7 1912.2 1295.9 1913.2 1296.1 1914.2 1296.3 1915.2 1296.5 1916.2 1296.7 1917.2 1296.9 1918.2 1297.1 1919.2 1297.3 1920.2 1297.5 1921.2 1297.6 1922.2 1297.7 1923.2 1297.9 1924.2 1298.0 1925.2 1298.1 1926.2 1298.2 1927.2 1298.3 1928.2 1298.3 1929.2 1298.4 1930.2 1298.5 1931.2 1298.5 1932.2 1298.5 1933.2 1298.4 1934.2 1298.3 1935.2 1298.3 1936.2 1298.2 1937.2 1298.0 1938.2 1297.9 1939.2 1297.7 1940.2 1297.5 1941.2 1297.3 1942.2 1297.1 1943.2 1297.0 1944.2 1296.8 1945.2 1296.6 1946.2 1296.4 1947.2 1296.2 1948.2 1296.0 1949.2 1295.8 1950.2 1295.6 1951.2 1295.4 1952.2 1295.3 1953.2 1295.1 1954.2 1295.0 1955.2 1294.8 1956.2 1294.7 1957.2 1294.6 1958.2 1294.5 1959.2 1294.4 1960.2 1294.2 1961.2 1294.1 1962.2 1293.9 1963.2 1293.8 1964.2 1293.6 1965.2 1293.4 1966.2 1293.2 1967.2 1293.1 1968.2 1292.9 1969.2 1292.8 1970.2 1292.6 1971.2 1292.4 1972.2 1292.3 1973.2 1292.1 1974.2 1292.0 1975.2 1291.9 1976.2 1291.8 1977.2 1291.8 1978.2 1291.7 1979.2 1291.6 1980.2 1291.6 1981.2 1291.5 1982.2 1291.5 1983.2 1291.5 1984.2 1291.5 1985.2 1291.5 1986.2 1291.5 1987.2 1291.5 1988.2 1291.5 1989.2 1291.5 1990.2 1291.5 1991.2 1291.5 1992.2 1291.5 1993.2 1291.5 1994.2 1291.5 1995.2 1291.5 1996.2 1291.5 1997.2 1291.5 1998.2 1291.5 1999.2 1291.5 2000.2 1291.5 2001.2 1291.5 2002.2 1291.5 2003.2 1291.5 2004.2 1291.5 2005.2 1291.6 2006.2 1291.7 2007.2 1291.9 2008.2 1292.2 2009.2 1292.5 2010.2 1292.7 2011.2 1293.0 2012.2 1293.3 2013.2 1293.5 2014.2 1293.8 2015.2 1294.1 2016.2 1294.4 2017.2 1294.7 2018.2 1295.1 2019.2 1295.4 2020.2 1295.8 2021.2 1296.2 2022.2 1296.6 2023.2 1297.0 2024.2 1297.4 2025.2 1297.9 2026.2 1298.3 2027.2 1298.7 2028.2 1299.2 2029.2 1299.6 2030.2 1300.1 2031.2 1300.5 2032.2 1301.0 2033.2 1301.5 2034.2 1302.0 2035.2 1302.6 2036.2 1303.1 2037.2 1303.7 2038.2 1304.3 2039.2 1304.9 2040.2 1305.4 2041.2 1306.0 2042.2 1306.6 2043.2 1307.2 2044.2 1307.8 2045.2 1308.4 2046.2 1309.0 2047.2 1309.6 2048.2 1310.2 2049.2 1310.8 2050.2 1311.4 2051.2 1312.0 2052.2 1312.6 2053.2 1313.2 2054.2 1313.8 2055.2 1314.3 2056.2 1314.8 2057.2 1315.2 2058.2 1315.7 2059.2 1316.2 2060.2 1316.7 2061.2 1317.3 2062.2 1318.0 2063.2 1318.8 2064.2 1319.6 2065.2 1320.4 2066.2 1320.9 2067.2 1321.4 2068.2 1321.9 2069.2 1322.3 2070.2 1322.7 2071.2 1323.0 2072.2 1323.3 2073.2 1323.4 2074.2 1323.5 2075.2 1323.5 2076.2 1323.6 2077.2 1323.6 2078.2 1323.7 2079.2 1323.7 2080.2 1323.7 2081.2 1323.7 2082.2 1323.6 2083.2 1323.5 2084.2 1323.4 2085.2 1323.2 2086.2 1323.0 2087.2 1322.8 2088.2 1322.6 2089.2 1322.3 2090.2 1321.9 2091.2 1321.4 2092.2 1321.0 2093.2 1320.5 2094.2 1320.0 2095.2 1319.6 2096.2 1319.1 2097.2 1318.6 2098.2 1318.1 2099.2 1317.6 2100.2 1317.1 2101.2 1316.6 2102.2 1316.0 2103.2 1315.5 2104.2 1314.9 2105.2 1314.4 2106.2 1313.8 2107.2 1313.3 2108.2 1312.9 2109.2 1312.7 2110.2 1312.4 2111.2 1312.2 2112.2 1312.0 2113.2 1311.8 2114.2 1311.7 2115.2 1311.6 2116.2 1311.6 2117.2 1311.6 2118.2 1311.6 2119.2 1311.6 2120.2 1311.6 2121.2 1311.9 2122.2 1312.2 2123.2 1312.7 2124.2 1313.1 2125.2 1313.5 2126.2 1314.0 2127.2 1314.6 2128.2 1315.2 2129.2 1315.8 2130.2 1316.4 2131.2 1317.1 2132.2 1317.8 2133.2 1318.6 2134.2 1319.4 2135.2 1320.3 2136.2 1321.1 2137.2 1322.0 2138.2 1322.8 2139.2 1323.6 2140.2 1324.4 2141.2 1325.3 2142.2 1326.1 2143.2 1326.8 2144.2 1327.6 2145.2 1328.3 2146.2 1328.9 2147.2 1329.6 2148.2 1330.2 2149.2 1330.9 2150.2 1331.4 2151.2 1332.0 2152.2 1332.4 2153.2 1332.9 2154.2 1333.5 2155.2 1333.9 2156.2 1334.4 2157.2 1334.7 2158.2 1335.0 2159.2 1335.1 2160.2 1335.1 2161.2 1335.2 2162.2 1335.2 2163.2 1335.2 2164.2 1335.0 2165.2 1334.5 2166.2 1334.1 2167.2 1333.5 2168.2 1332.8 2169.2 1331.9 2170.2 1331.0 2171.2 1330.1 2172.2 1329.1 2173.2 1328.1 2174.2 1327.1 2175.2 1326.1 2176.2 1325.0 2177.2 1323.9 2178.2 1322.7 2179.2 1321.6 2180.2 1320.4 2181.2 1319.3 2182.2 1318.1 2183.2 1316.9 2184.2 1315.7 2185.2 1314.4 2186.2 1313.2 2187.2 1312.1 2188.2 1310.9 2189.2 1309.7 2190.2 1308.6 2191.2 1307.4 2192.2 1306.3 2193.2 1305.2 2194.2 1304.2 2195.2 1303.2 2196.2 1302.2 2197.2 1301.2 2198.2 1300.2 2199.2 1299.3 2200.2 1298.4 2201.2 1297.7 2202.2 1297.1 2203.2 1296.7 2204.2 1296.2 2205.2 1295.9 2206.2 1295.5 2207.2 1295.2 2208.2 1294.9 2209.2 1294.6 2210.2 1294.4 2211.2 1294.1 2212.2 1293.9 2213.2 1293.6 2214.2 1293.4 2215.2 1293.2 2216.2 1293.0 2217.2 1292.8 2218.2 1292.6 2219.2 1292.5 2220.2 1292.3 2221.2 1292.2 2222.2 1292.0 2223.2 1291.9 2224.2 1291.8 2225.2 1291.7 2226.2 1291.6 2227.2 1291.5 2228.2 1291.5 2229.2 1291.4 2230.2 1291.4 2231.2 1291.4 2232.2 1291.4 2233.2 1291.4 2234.2 1291.3 2235.2 1291.3 2236.2 1291.3 2237.2 1291.3 2238.2 1291.3 2239.2 1291.3 2240.2 1291.3 2241.2 1291.3 2242.2 1291.3 2243.2 1291.3 2243.8 1291.3 2243.8 1291.3 2243.2 1291.3 2242.2 1291.3 2241.2 1291.3 2240.2 1291.3 2239.2 1291.3 2238.2 1291.3 2237.2 1291.3 2236.2 1291.3 2235.2 1291.2 2234.2 1291.2 2233.2 1291.2 2232.2 1291.2 2231.2 1291.2 2230.2 1291.1 2229.2 1291.1 2228.2 1291.0 2227.2 1290.9 2226.2 1290.8 2225.2 1290.7 2224.2 1290.6 2223.2 1290.4 2222.2 1290.3 2221.2 1290.1 2220.2 1290.0 2219.2 1289.8 2218.2 1289.6 2217.2 1289.4 2216.2 1289.2 2215.2 1289.0 2214.2 1288.7 2213.2 1288.5 2212.2 1288.2 2211.2 1288.0 2210.2 1287.7 2209.2 1287.4 2208.2 1287.1 2207.2 1286.7 2206.2 1286.4 2205.2 1285.9 2204.2 1285.5 2203.2 1284.9 2202.2 1284.2 2201.2 1283.3 2200.2 1282.4 2199.2 1281.4 2198.2 1280.4 2197.2 1279.4 2196.2 1278.4 2195.2 1277.4 2194.2 1276.3 2193.2 1275.2 2192.2 1274.0 2191.2 1272.9 2190.2 1271.7 2189.2 1270.5 2188.2 1269.4 2187.2 1268.2 2186.2 1266.9 2185.2 1265.7 2184.2 1264.5 2183.2 1263.3 2182.2 1262.2 2181.2 1261.0 2180.2 1259.9 2179.2 1258.7 2178.2 1257.6 2177.2 1256.5 2176.2 1255.5 2175.2 1254.5 2174.2 1253.5 2173.2 1252.5 2172.2 1251.6 2171.2 1250.7 2170.2 1249.8 2169.2 1249.1 2168.2 1248.5 2167.2 1248.1 2166.2 1247.6 2165.2 1247.4 2164.2 1247.4 2163.2 1247.4 2162.2 1247.5 2161.2 1247.5 2160.2 1247.6 2159.2 1247.9 2158.2 1248.2 2157.2 1248.7 2156.2 1249.1 2155.2 1249.7 2154.2 1250.2 2153.2 1250.6 2152.2 1251.2 2151.2 1251.7 2150.2 1252.4 2149.2 1253.0 2148.2 1253.7 2147.2 1254.3 2146.2 1255.0 2145.2 1255.8 2144.2 1256.5 2143.2 1257.3 2142.2 1258.2 2141.2 1259.0 2140.2 1259.8 2139.2 1260.6 2138.2 1261.5 2137.2 1262.3 2136.2 1263.2 2135.2 1264.0 2134.2 1264.8 2133.2 1265.5 2132.2 1266.2 2131.2 1266.8 2130.2 1267.4 2129.2 1268.0 2128.2 1268.6 2127.2 1269.1 2126.2 1269.5 2125.2 1269.9 2124.2 1270.4 2123.2 1270.7 2122.2 1271.0 2121.2 1271.0 2120.2 1271.0 2119.2 1271.0 2118.2 1271.0 2117.2 1271.0 2116.2 1270.9 2115.2 1270.8 2114.2 1270.6 2113.2 1270.4 2112.2 1270.2 2111.2 1269.9 2110.2 1269.7 2109.2 1269.3 2108.2 1268.8 2107.2 1268.2 2106.2 1267.7 2105.2 1267.1 2104.2 1266.6 2103.2 1266.0 2102.2 1265.5 2101.2 1265.0 2100.2 1264.5 2099.2 1264.0 2098.2 1263.5 2097.2 1263.0 2096.2 1262.6 2095.2 1262.1 2094.2 1261.6 2093.2 1261.2 2092.2 1260.7 2091.2 1260.3 2090.2 1260.0 2089.2 1259.8 2088.2 1259.6 2087.2 1259.4 2086.2 1259.2 2085.2 1259.1 2084.2 1259.0 2083.2 1258.9 2082.2 1258.9 2081.2 1258.9 2080.2 1258.9 2079.2 1259.0 2078.2 1259.0 2077.2 1259.1 2076.2 1259.1 2075.2 1259.2 2074.2 1259.3 2073.2 1259.6 2072.2 1259.9 2071.2 1260.3 2070.2 1260.7 2069.2 1261.2 2068.2 1261.7 2067.2 1262.2 2066.2 1263.0 2065.2 1263.8 2064.2 1264.6 2063.2 1265.3 2062.2 1265.9 2061.2 1266.4 2060.2 1266.9 2059.2 1267.4 2058.2 1267.8 2057.2 1268.3 2056.2 1268.8 2055.2 1269.4 2054.2 1270.0 2053.2 1270.6 2052.2 1271.2 2051.2 1271.8 2050.2 1272.4 2049.2 1273.0 2048.2 1273.6 2047.2 1274.2 2046.2 1274.8 2045.2 1275.4 2044.2 1276.0 2043.2 1276.6 2042.2 1277.2 2041.2 1277.7 2040.2 1278.3 2039.2 1278.9 2038.2 1279.5 2037.2 1280.0 2036.2 1280.6 2035.2 1281.1 2034.2 1281.6 2033.2 1282.1 2032.2 1282.5 2031.2 1283.0 2030.2 1283.4 2029.2 1283.9 2028.2 1284.3 2027.2 1284.7 2026.2 1285.2 2025.2 1285.6 2024.2 1286.0 2023.2 1286.4 2022.2 1286.8 2021.2 1287.2 2020.2 1287.5 2019.2 1287.9 2018.2 1288.2 2017.2 1288.5 2016.2 1288.8 2015.2 1289.1 2014.2 1289.3 2013.2 1289.6 2012.2 1289.9 2011.2 1290.1 2010.2 1290.4 2009.2 1290.7 2008.2 1290.9 2007.2 1291.0 2006.2 1291.1 2005.2 1291.1 2004.2 1291.1 2003.2 1291.1 2002.2 1291.1 2001.2 1291.1 2000.2 1291.1 1999.2 1291.1 1998.2 1291.1 1997.2 1291.1 1996.2 1291.1 1995.2 1291.1 1994.2 1291.1 1993.2 1291.1 1992.2 1291.1 1991.2 1291.1 1990.2 1291.1 1989.2 1291.1 1988.2 1291.1 1987.2 1291.1 1986.2 1291.1 1985.2 1291.1 1984.2 1291.1 1983.2 1291.1 1982.2 1291.0 1981.2 1291.0 1980.2 1290.9 1979.2 1290.8 1978.2 1290.8 1977.2 1290.7 1976.2 1290.6 1975.2 1290.5 1974.2 1290.3 1973.2 1290.2 1972.2 1290.0 1971.2 1289.8 1970.2 1289.7 1969.2 1289.5 1968.2 1289.4 1967.2 1289.2 1966.2 1289.0 1965.2 1288.8 1964.2 1288.7 1963.2 1288.5 1962.2 1288.4 1961.2 1288.2 1960.2 1288.1 1959.2 1288.0 1958.2 1287.9 1957.2 1287.8 1956.2 1287.6 1955.2 1287.5 1954.2 1287.3 1953.2 1287.2 1952.2 1287.0 1951.2 1286.8 1950.2 1286.6 1949.2 1286.4 1948.2 1286.2 1947.2 1286.0 1946.2 1285.8 1945.2 1285.6 1944.2 1285.5 1943.2 1285.3 1942.2 1285.1 1941.2 1284.9 1940.2 1284.7 1939.2 1284.6 1938.2 1284.4 1937.2 1284.3 1936.2 1284.3 1935.2 1284.2 1934.2 1284.1 1933.2 1284.1 1932.2 1284.1 1931.2 1284.2 1930.2 1284.3 1929.2 1284.3 1928.2 1284.4 1927.2 1284.5 1926.2 1284.6 1925.2 1284.7 1924.2 1284.9 1923.2 1285.0 1922.2 1285.1 1921.2 1285.3 1920.2 1285.5 1919.2 1285.7 1918.2 1285.9 1917.2 1286.1 1916.2 1286.3 1915.2 1286.5 1914.2 1286.7 1913.2 1286.9 1912.2 1287.1 1911.2 1287.3 1910.2 1287.5 1909.2 1287.7 1908.2 1287.9 1907.2 1288.1 1906.2 1288.2 1905.2 1288.4 1904.2 1288.5 1903.2 1288.7 1902.2 1288.8 1901.2 1289.0 1900.2 1289.1 1899.2 1289.4 1898.2 1289.6 1897.2 1289.8 1896.2 1290.0 1895.2 1290.2 1894.2 1290.4 1893.2 1290.5 1892.2 1290.6 1891.2 1290.7 1890.2 1290.9 1889.2 1291.0 1888.2 1291.0 1887.2 1291.1 1886.2 1291.1 1885.2 1291.1 1884.2 1291.2 1883.2 1291.2 1882.2 1291.2 1881.2 1291.2 1880.2 1291.2 1879.2 1291.3 1878.2 1291.3 1877.2 1291.3 1876.2 1291.3 1875.2 1291.3 1874.2 1291.3 1873.2 1291.3 1872.2 1291.3 1871.2 1291.3 1870.2 1291.3 1869.2 1291.3 1868.2 1291.3 1867.2 1291.3 1866.2 1291.3 1865.2 1291.3 1864.2 1291.3 1863.2 1291.3 1862.2 1291.3 1861.2 1291.3 1860.2Z" fill="none" stroke="#000" stroke-width="7.6" stroke-linejoin="round" stroke-linecap="round"/>
<line x1="1421.4" y1="2099.0" x2="1451.81" y2="2099.0" stroke="#000" stroke-width="2.6" stroke-linecap="round" stroke-dasharray="0 7.6"/>
<line x1="1396.6" y1="2124.7" x2="1476.6" y2="2124.7" stroke="#000" stroke-width="2.8" stroke-dasharray="7 5.7"/>
<line x1="1402.4" y1="2149.3" x2="1470.81" y2="2149.3" stroke="#000" stroke-width="2.6" stroke-linecap="round" stroke-dasharray="0 7.6"/>
<path d="M1436.6 2039.5 1436.6 2040.5 1436.6 2041.5 1436.7 2042.5 1436.7 2043.5 1436.8 2044.5 1436.9 2045.5 1437.1 2046.5 1437.4 2047.5 1437.6 2048.5 1437.9 2049.5 1438.3 2050.5 1438.6 2051.5 1439.0 2052.5 1439.5 2053.5 1440.1 2054.5 1440.7 2055.5 1441.4 2056.5 1442.1 2057.5 1442.8 2058.5 1443.6 2059.5 1444.5 2060.5 1445.4 2061.5 1446.4 2062.5 1447.4 2063.5 1448.3 2064.5 1449.1 2065.5 1449.9 2066.5 1450.7 2067.5 1451.5 2068.5 1452.3 2069.5 1452.9 2070.5 1453.5 2071.5 1453.8 2072.5 1454.0 2073.5 1454.1 2074.5 1454.2 2075.5 1454.3 2076.5 1454.4 2077.5 1454.5 2078.5 1454.5 2079.5 1454.7 2080.5 1454.8 2081.5 1454.9 2082.5 1455.0 2083.5 1455.2 2084.5 1455.3 2085.5 1455.5 2086.5 1455.8 2087.5 1456.1 2088.5 1456.6 2089.5 1457.1 2090.5 1457.7 2091.5 1458.3 2092.5 1458.8 2093.5 1459.4 2094.5 1460.0 2095.5 1460.5 2096.5 1461.1 2097.5 1461.7 2098.5 1462.3 2099.5 1463.0 2100.5 1463.6 2101.5 1464.3 2102.5 1464.9 2103.5 1465.6 2104.5 1466.3 2105.5 1467.0 2106.5 1467.8 2107.5 1468.5 2108.5 1469.4 2109.5 1470.3 2110.5 1471.2 2111.5 1472.2 2112.5 1473.2 2113.5 1474.0 2114.5 1474.8 2115.5 1475.5 2116.5 1476.2 2117.5 1476.8 2118.5 1477.5 2119.5 1478.0 2120.5 1478.4 2121.5 1478.6 2122.5 1478.6 2123.5 1478.6 2124.5 1478.6 2125.5 1478.5 2126.5 1478.1 2127.5 1477.6 2128.5 1477.2 2129.5 1476.7 2130.5 1476.1 2131.5 1475.5 2132.5 1474.9 2133.5 1474.5 2134.5 1474.3 2135.5 1474.4 2136.5 1474.7 2137.5 1475.2 2138.5 1475.8 2139.5 1476.4 2140.5 1477.1 2141.5 1477.7 2142.5 1478.2 2143.5 1478.8 2144.5 1479.5 2145.5 1480.1 2146.5 1480.5 2147.5 1480.7 2148.5 1480.6 2149.5 1480.3 2150.5 1479.9 2151.5 1479.3 2152.5 1478.7 2153.5 1477.9 2154.5 1476.7 2155.5 1475.3 2156.5 1473.8 2157.5 1472.0 2158.5 1470.0 2159.5 1467.8 2160.5 1465.7 2161.5 1463.5 2162.5 1461.2 2163.5 1458.8 2164.5 1456.5 2165.5 1454.1 2166.5 1451.7 2167.5 1449.1 2168.5 1446.0 2169.5 1443.1 2170.5 1441.4 2171.5 1440.6 2172.5 1439.8 2173.5 1439.3 2174.5 1438.8 2175.5 1438.4 2176.5 1438.1 2177.5 1437.8 2178.5 1437.6 2179.5 1437.4 2180.5 1437.3 2181.5 1437.1 2182.5 1437.0 2183.5 1436.9 2184.5 1436.8 2185.5 1436.8 2186.5 1436.7 2187.5 1436.7 2188.5 1436.6 2189.5 1436.6 2190.5 1436.6 2190.9 1436.6 2190.9 1436.6 2190.5 1436.6 2189.5 1436.5 2188.5 1436.5 2187.5 1436.4 2186.5 1436.4 2185.5 1436.3 2184.5 1436.2 2183.5 1436.1 2182.5 1435.9 2181.5 1435.8 2180.5 1435.6 2179.5 1435.4 2178.5 1435.1 2177.5 1434.8 2176.5 1434.4 2175.5 1433.9 2174.5 1433.4 2173.5 1432.6 2172.5 1431.8 2171.5 1430.1 2170.5 1427.2 2169.5 1424.1 2168.5 1421.5 2167.5 1419.1 2166.5 1416.7 2165.5 1414.4 2164.5 1412.0 2163.5 1409.7 2162.5 1407.5 2161.5 1405.4 2160.5 1403.2 2159.5 1401.2 2158.5 1399.4 2157.5 1397.9 2156.5 1396.5 2155.5 1395.3 2154.5 1394.5 2153.5 1393.9 2152.5 1393.3 2151.5 1392.9 2150.5 1392.6 2149.5 1392.5 2148.5 1392.7 2147.5 1393.1 2146.5 1393.7 2145.5 1394.4 2144.5 1395.0 2143.5 1395.5 2142.5 1396.1 2141.5 1396.8 2140.5 1397.4 2139.5 1398.0 2138.5 1398.5 2137.5 1398.8 2136.5 1398.9 2135.5 1398.7 2134.5 1398.3 2133.5 1397.7 2132.5 1397.1 2131.5 1396.5 2130.5 1396.0 2129.5 1395.6 2128.5 1395.1 2127.5 1394.7 2126.5 1394.6 2125.5 1394.6 2124.5 1394.6 2123.5 1394.6 2122.5 1394.8 2121.5 1395.2 2120.5 1395.7 2119.5 1396.4 2118.5 1397.0 2117.5 1397.7 2116.5 1398.4 2115.5 1399.2 2114.5 1400.0 2113.5 1401.0 2112.5 1402.0 2111.5 1402.9 2110.5 1403.8 2109.5 1404.7 2108.5 1405.4 2107.5 1406.2 2106.5 1406.9 2105.5 1407.6 2104.5 1408.3 2103.5 1408.9 2102.5 1409.6 2101.5 1410.2 2100.5 1410.9 2099.5 1411.5 2098.5 1412.1 2097.5 1412.7 2096.5 1413.2 2095.5 1413.8 2094.5 1414.4 2093.5 1414.9 2092.5 1415.5 2091.5 1416.1 2090.5 1416.6 2089.5 1417.1 2088.5 1417.4 2087.5 1417.7 2086.5 1417.9 2085.5 1418.0 2084.5 1418.2 2083.5 1418.3 2082.5 1418.4 2081.5 1418.5 2080.5 1418.7 2079.5 1418.7 2078.5 1418.8 2077.5 1418.9 2076.5 1419.0 2075.5 1419.1 2074.5 1419.2 2073.5 1419.4 2072.5 1419.7 2071.5 1420.3 2070.5 1420.9 2069.5 1421.7 2068.5 1422.5 2067.5 1423.3 2066.5 1424.1 2065.5 1424.9 2064.5 1425.8 2063.5 1426.8 2062.5 1427.8 2061.5 1428.7 2060.5 1429.6 2059.5 1430.4 2058.5 1431.1 2057.5 1431.8 2056.5 1432.5 2055.5 1433.1 2054.5 1433.7 2053.5 1434.2 2052.5 1434.6 2051.5 1434.9 2050.5 1435.3 2049.5 1435.6 2048.5 1435.8 2047.5 1436.1 2046.5 1436.3 2045.5 1436.4 2044.5 1436.5 2043.5 1436.5 2042.5 1436.6 2041.5 1436.6 2040.5 1436.6 2039.5Z" fill="none" stroke="#000" stroke-width="7.6" stroke-linejoin="round" stroke-linecap="round"/>
<text transform="translate(1291.10 2350.30)" font-family="'Liberation Sans', Arial, sans-serif" font-size="38.8" font-weight="bold" text-anchor="middle" >GG</text>
<text transform="translate(1436.30 2350.30)" font-family="'Liberation Sans', Arial, sans-serif" font-size="38.8" font-weight="bold" text-anchor="middle" >GC</text>
<line x1="1282.5" y1="1813.8" x2="1443.7" y2="1813.8" stroke="#000" stroke-width="3.3" />
<text transform="translate(1363.20 1798.20) scale(1.018 1)" font-family="'Liberation Sans', Arial, sans-serif" font-size="35.9" text-anchor="middle" >NC</text>
<text transform="translate(1082.20 2034.00) rotate(-90) scale(0.868 1)" font-family="'Liberation Sans', Arial, sans-serif" font-size="46.3" font-weight="bold" text-anchor="middle" >BMI</text>
</svg>
</body></html>
